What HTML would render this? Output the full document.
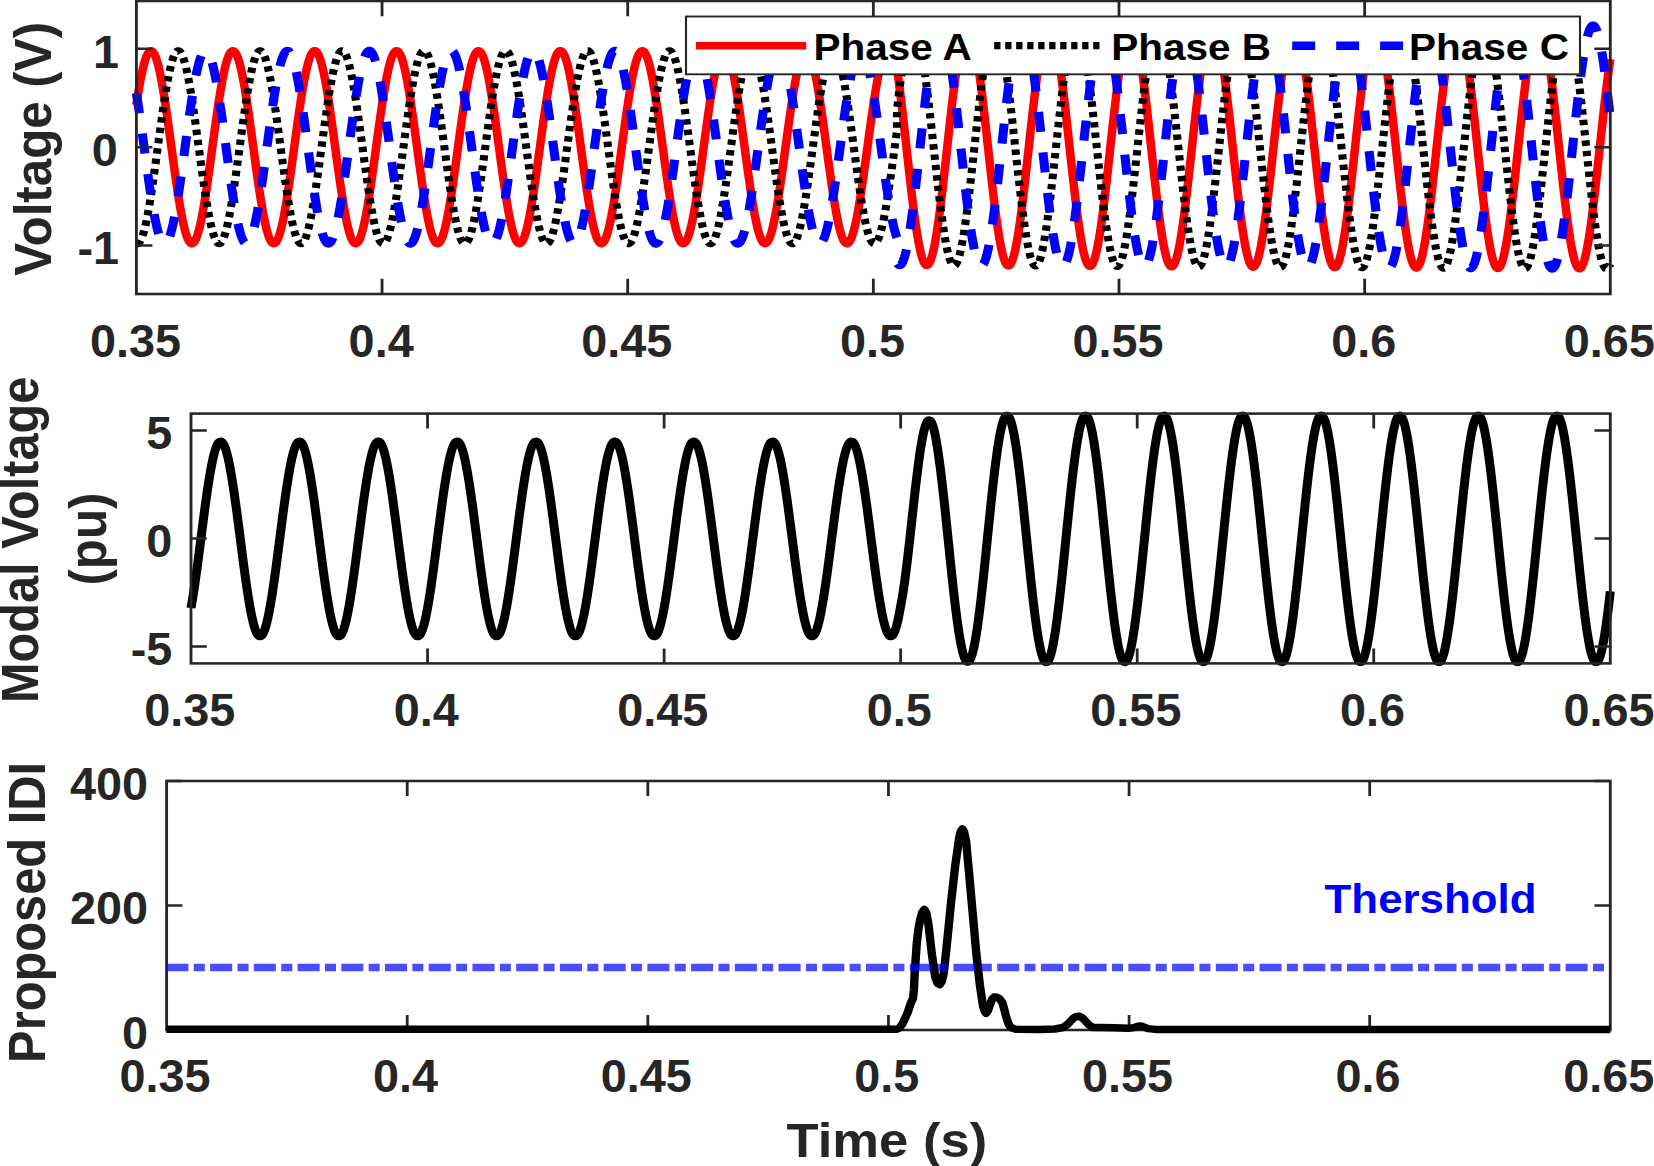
<!DOCTYPE html>
<html><head><meta charset="utf-8"><title>Voltage, modal voltage and proposed IDI</title>
<style>html,body{margin:0;padding:0;background:#fff;overflow:hidden}svg{display:block}text{font-family:"Liberation Sans",sans-serif;font-weight:bold}</style>
</head><body>
<svg width="1654" height="1166" viewBox="0 0 1654 1166">
<rect width="1654" height="1166" fill="#fff"/>
<g transform="scale(1.2 1)"><path d="M159.17 608.06 L159.56 605.41 L159.96 602.67 L160.35 599.84 L160.74 596.92 L161.14 593.92 L161.53 590.84 L161.93 587.69 L162.32 584.46 L162.71 581.18 L163.11 577.83 L163.50 574.43 L163.90 570.98 L164.29 567.48 L164.69 563.94 L165.08 560.36 L165.47 556.76 L165.87 553.13 L166.26 549.48 L166.66 545.81 L167.05 542.14 L167.45 538.46 L167.84 534.78 L168.23 531.10 L168.63 527.44 L169.02 523.80 L169.42 520.17 L169.81 516.57 L170.21 513.01 L170.60 509.48 L170.99 505.99 L171.39 502.55 L171.78 499.16 L172.18 495.83 L172.57 492.55 L172.97 489.35 L173.36 486.21 L173.75 483.15 L174.15 480.17 L174.54 477.27 L174.94 474.46 L175.33 471.74 L175.73 469.12 L176.12 466.60 L176.51 464.18 L176.91 461.86 L177.30 459.65 L177.70 457.56 L178.09 455.58 L178.48 453.72 L178.88 451.99 L179.27 450.37 L179.67 448.88 L180.06 447.52 L180.46 446.29 L180.85 445.19 L181.24 444.23 L181.64 443.39 L182.03 442.70 L182.43 442.14 L182.82 441.72 L183.22 441.43 L183.61 441.29 L184.00 441.28 L184.40 441.41 L184.79 441.69 L185.19 442.09 L185.58 442.64 L185.98 443.32 L186.37 444.14 L186.76 445.10 L187.16 446.18 L187.55 447.40 L187.95 448.75 L188.34 450.23 L188.74 451.83 L189.13 453.56 L189.52 455.41 L189.92 457.37 L190.31 459.46 L190.71 461.65 L191.10 463.96 L191.50 466.37 L191.89 468.88 L192.28 471.50 L192.68 474.21 L193.07 477.01 L193.47 479.90 L193.86 482.87 L194.25 485.93 L194.65 489.05 L195.04 492.25 L195.44 495.52 L195.83 498.85 L196.23 502.23 L196.62 505.67 L197.01 509.15 L197.41 512.68 L197.80 516.24 L198.20 519.84 L198.59 523.46 L198.99 527.10 L199.38 530.76 L199.77 534.44 L200.17 538.12 L200.56 541.80 L200.96 545.47 L201.35 549.14 L201.75 552.79 L202.14 556.42 L202.53 560.03 L202.93 563.61 L203.32 567.15 L203.72 570.65 L204.11 574.11 L204.51 577.52 L204.90 580.87 L205.29 584.16 L205.69 587.39 L206.08 590.55 L206.48 593.64 L206.87 596.64 L207.27 599.57 L207.66 602.41 L208.05 605.16 L208.45 607.82 L208.84 610.37 L209.24 612.83 L209.63 615.18 L210.02 617.42 L210.42 619.55 L210.81 621.57 L211.21 623.47 L211.60 625.25 L212.00 626.90 L212.39 628.43 L212.78 629.84 L213.18 631.11 L213.57 632.26 L213.97 633.27 L214.36 634.14 L214.76 634.88 L215.15 635.49 L215.54 635.96 L215.94 636.29 L216.33 636.48 L216.73 636.53 L217.12 636.44 L217.52 636.22 L217.91 635.86 L218.30 635.36 L218.70 634.72 L219.09 633.94 L219.49 633.04 L219.88 631.99 L220.28 630.82 L220.67 629.51 L221.06 628.08 L221.46 626.52 L221.85 624.83 L222.25 623.02 L222.64 621.10 L223.04 619.05 L223.43 616.89 L223.82 614.62 L224.22 612.25 L224.61 609.77 L225.01 607.19 L225.40 604.51 L225.79 601.73 L226.19 598.87 L226.58 595.93 L226.98 592.90 L227.37 589.80 L227.77 586.62 L228.16 583.38 L228.55 580.07 L228.95 576.70 L229.34 573.28 L229.74 569.81 L230.13 566.30 L230.53 562.75 L230.92 559.17 L231.31 555.55 L231.71 551.91 L232.10 548.26 L232.50 544.59 L232.89 540.91 L233.29 537.23 L233.68 533.55 L234.07 529.88 L234.47 526.22 L234.86 522.58 L235.26 518.97 L235.65 515.38 L236.05 511.83 L236.44 508.31 L236.83 504.84 L237.23 501.41 L237.62 498.04 L238.02 494.73 L238.41 491.48 L238.81 488.29 L239.20 485.18 L239.59 482.15 L239.99 479.20 L240.38 476.33 L240.78 473.55 L241.17 470.86 L241.56 468.27 L241.96 465.78 L242.35 463.39 L242.75 461.11 L243.14 458.94 L243.54 456.89 L243.93 454.95 L244.32 453.13 L244.72 451.43 L245.11 449.86 L245.51 448.42 L245.90 447.10 L246.30 445.91 L246.69 444.86 L247.08 443.93 L247.48 443.15 L247.87 442.50 L248.27 441.98 L248.66 441.61 L249.06 441.37 L249.45 441.27 L249.84 441.31 L250.24 441.49 L250.63 441.81 L251.03 442.26 L251.42 442.85 L251.82 443.58 L252.21 444.45 L252.60 445.44 L253.00 446.58 L253.39 447.84 L253.79 449.23 L254.18 450.75 L254.58 452.39 L254.97 454.16 L255.36 456.05 L255.76 458.05 L256.15 460.18 L256.55 462.41 L256.94 464.75 L257.33 467.20 L257.73 469.74 L258.12 472.39 L258.52 475.13 L258.91 477.96 L259.31 480.88 L259.70 483.88 L260.09 486.96 L260.49 490.11 L260.88 493.34 L261.28 496.62 L261.67 499.97 L262.07 503.37 L262.46 506.82 L262.85 510.32 L263.25 513.86 L263.64 517.44 L264.04 521.04 L264.43 524.67 L264.83 528.32 L265.22 531.99 L265.61 535.66 L266.01 539.34 L266.40 543.02 L266.80 546.70 L267.19 550.36 L267.59 554.00 L267.98 557.63 L268.37 561.23 L268.77 564.79 L269.16 568.32 L269.56 571.81 L269.95 575.25 L270.35 578.64 L270.74 581.97 L271.13 585.25 L271.53 588.45 L271.92 591.59 L272.32 594.65 L272.71 597.63 L273.10 600.53 L273.50 603.34 L273.89 606.06 L274.29 608.68 L274.68 611.20 L275.08 613.62 L275.47 615.94 L275.86 618.15 L276.26 620.24 L276.65 622.22 L277.05 624.08 L277.44 625.81 L277.84 627.43 L278.23 628.92 L278.62 630.28 L279.02 631.51 L279.41 632.61 L279.81 633.57 L280.20 634.41 L280.60 635.10 L280.99 635.66 L281.38 636.08 L281.78 636.37 L282.17 636.51 L282.57 636.52 L282.96 636.39 L283.36 636.11 L283.75 635.71 L284.14 635.16 L284.54 634.48 L284.93 633.66 L285.33 632.70 L285.72 631.62 L286.12 630.40 L286.51 629.05 L286.90 627.57 L287.30 625.97 L287.69 624.24 L288.09 622.39 L288.48 620.43 L288.87 618.34 L289.27 616.15 L289.66 613.84 L290.06 611.43 L290.45 608.92 L290.85 606.30 L291.24 603.59 L291.63 600.79 L292.03 597.90 L292.42 594.93 L292.82 591.87 L293.21 588.75 L293.61 585.55 L294.00 582.28 L294.39 578.95 L294.79 575.57 L295.18 572.13 L295.58 568.65 L295.97 565.12 L296.37 561.56 L296.76 557.96 L297.15 554.34 L297.55 550.70 L297.94 547.04 L298.34 543.36 L298.73 539.68 L299.13 536.00 L299.52 532.33 L299.91 528.66 L300.31 525.01 L300.70 521.38 L301.10 517.77 L301.49 514.19 L301.89 510.65 L302.28 507.15 L302.67 503.69 L303.07 500.28 L303.46 496.93 L303.86 493.64 L304.25 490.41 L304.64 487.25 L305.04 484.16 L305.43 481.16 L305.83 478.23 L306.22 475.39 L306.62 472.64 L307.01 469.98 L307.40 467.43 L307.80 464.97 L308.19 462.62 L308.59 460.38 L308.98 458.25 L309.38 456.23 L309.77 454.33 L310.16 452.55 L310.56 450.90 L310.95 449.37 L311.35 447.96 L311.74 446.69 L312.14 445.54 L312.53 444.53 L312.92 443.66 L313.32 442.92 L313.71 442.31 L314.11 441.84 L314.50 441.51 L314.90 441.32 L315.29 441.27 L315.68 441.36 L316.08 441.58 L316.47 441.94 L316.87 442.44 L317.26 443.08 L317.66 443.86 L318.05 444.76 L318.44 445.81 L318.84 446.98 L319.23 448.29 L319.63 449.72 L320.02 451.28 L320.41 452.97 L320.81 454.78 L321.20 456.70 L321.60 458.75 L321.99 460.91 L322.39 463.18 L322.78 465.55 L323.17 468.03 L323.57 470.61 L323.96 473.29 L324.36 476.07 L324.75 478.93 L325.15 481.87 L325.54 484.90 L325.93 488.00 L326.33 491.18 L326.72 494.42 L327.12 497.73 L327.51 501.10 L327.91 504.52 L328.30 507.99 L328.69 511.50 L329.09 515.05 L329.48 518.63 L329.88 522.25 L330.27 525.89 L330.67 529.54 L331.06 533.21 L331.45 536.89 L331.85 540.57 L332.24 544.25 L332.64 547.92 L333.03 551.58 L333.43 555.22 L333.82 558.83 L334.21 562.42 L334.61 565.97 L335.00 569.49 L335.40 572.96 L335.79 576.39 L336.18 579.76 L336.58 583.07 L336.97 586.32 L337.37 589.51 L337.76 592.62 L338.16 595.65 L338.55 598.60 L338.94 601.47 L339.34 604.25 L339.73 606.94 L340.13 609.53 L340.52 612.02 L340.92 614.41 L341.31 616.69 L341.70 618.86 L342.10 620.91 L342.49 622.85 L342.89 624.67 L343.28 626.37 L343.68 627.94 L344.07 629.38 L344.46 630.70 L344.86 631.89 L345.25 632.94 L345.65 633.87 L346.04 634.65 L346.44 635.30 L346.83 635.82 L347.22 636.19 L347.62 636.43 L348.01 636.53 L348.41 636.49 L348.80 636.31 L349.20 635.99 L349.59 635.54 L349.98 634.95 L350.38 634.22 L350.77 633.35 L351.17 632.36 L351.56 631.22 L351.95 629.96 L352.35 628.57 L352.74 627.05 L353.14 625.41 L353.53 623.64 L353.93 621.75 L354.32 619.75 L354.71 617.62 L355.11 615.39 L355.50 613.05 L355.90 610.60 L356.29 608.06 L356.69 605.41 L357.08 602.67 L357.47 599.84 L357.87 596.92 L358.26 593.92 L358.66 590.84 L359.05 587.69 L359.45 584.46 L359.84 581.18 L360.23 577.83 L360.63 574.43 L361.02 570.98 L361.42 567.48 L361.81 563.94 L362.21 560.36 L362.60 556.76 L362.99 553.13 L363.39 549.48 L363.78 545.81 L364.18 542.14 L364.57 538.46 L364.97 534.78 L365.36 531.10 L365.75 527.44 L366.15 523.80 L366.54 520.17 L366.94 516.57 L367.33 513.01 L367.72 509.48 L368.12 505.99 L368.51 502.55 L368.91 499.16 L369.30 495.83 L369.70 492.55 L370.09 489.35 L370.48 486.21 L370.88 483.15 L371.27 480.17 L371.67 477.27 L372.06 474.46 L372.46 471.74 L372.85 469.12 L373.24 466.60 L373.64 464.18 L374.03 461.86 L374.43 459.65 L374.82 457.56 L375.22 455.58 L375.61 453.72 L376.00 451.99 L376.40 450.37 L376.79 448.88 L377.19 447.52 L377.58 446.29 L377.98 445.19 L378.37 444.23 L378.76 443.39 L379.16 442.70 L379.55 442.14 L379.95 441.72 L380.34 441.43 L380.74 441.29 L381.13 441.28 L381.52 441.41 L381.92 441.69 L382.31 442.09 L382.71 442.64 L383.10 443.32 L383.49 444.14 L383.89 445.10 L384.28 446.18 L384.68 447.40 L385.07 448.75 L385.47 450.23 L385.86 451.83 L386.25 453.56 L386.65 455.41 L387.04 457.37 L387.44 459.46 L387.83 461.65 L388.23 463.96 L388.62 466.37 L389.01 468.88 L389.41 471.50 L389.80 474.21 L390.20 477.01 L390.59 479.90 L390.99 482.87 L391.38 485.93 L391.77 489.05 L392.17 492.25 L392.56 495.52 L392.96 498.85 L393.35 502.23 L393.75 505.67 L394.14 509.15 L394.53 512.68 L394.93 516.24 L395.32 519.84 L395.72 523.46 L396.11 527.10 L396.51 530.76 L396.90 534.44 L397.29 538.12 L397.69 541.80 L398.08 545.47 L398.48 549.14 L398.87 552.79 L399.26 556.42 L399.66 560.03 L400.05 563.61 L400.45 567.15 L400.84 570.65 L401.24 574.11 L401.63 577.52 L402.02 580.87 L402.42 584.16 L402.81 587.39 L403.21 590.55 L403.60 593.64 L404.00 596.64 L404.39 599.57 L404.78 602.41 L405.18 605.16 L405.57 607.82 L405.97 610.37 L406.36 612.83 L406.76 615.18 L407.15 617.42 L407.54 619.55 L407.94 621.57 L408.33 623.47 L408.73 625.25 L409.12 626.90 L409.52 628.43 L409.91 629.84 L410.30 631.11 L410.70 632.26 L411.09 633.27 L411.49 634.14 L411.88 634.88 L412.28 635.49 L412.67 635.96 L413.06 636.29 L413.46 636.48 L413.85 636.53 L414.25 636.44 L414.64 636.22 L415.03 635.86 L415.43 635.36 L415.82 634.72 L416.22 633.94 L416.61 633.04 L417.01 631.99 L417.40 630.82 L417.79 629.51 L418.19 628.08 L418.58 626.52 L418.98 624.83 L419.37 623.02 L419.77 621.10 L420.16 619.05 L420.55 616.89 L420.95 614.62 L421.34 612.25 L421.74 609.77 L422.13 607.19 L422.53 604.51 L422.92 601.73 L423.31 598.87 L423.71 595.93 L424.10 592.90 L424.50 589.80 L424.89 586.62 L425.29 583.38 L425.68 580.07 L426.07 576.70 L426.47 573.28 L426.86 569.81 L427.26 566.30 L427.65 562.75 L428.05 559.17 L428.44 555.55 L428.83 551.91 L429.23 548.26 L429.62 544.59 L430.02 540.91 L430.41 537.23 L430.80 533.55 L431.20 529.88 L431.59 526.22 L431.99 522.58 L432.38 518.97 L432.78 515.38 L433.17 511.83 L433.56 508.31 L433.96 504.84 L434.35 501.41 L434.75 498.04 L435.14 494.73 L435.54 491.48 L435.93 488.29 L436.32 485.18 L436.72 482.15 L437.11 479.20 L437.51 476.33 L437.90 473.55 L438.30 470.86 L438.69 468.27 L439.08 465.78 L439.48 463.39 L439.87 461.11 L440.27 458.94 L440.66 456.89 L441.06 454.95 L441.45 453.13 L441.84 451.43 L442.24 449.86 L442.63 448.42 L443.03 447.10 L443.42 445.91 L443.82 444.86 L444.21 443.93 L444.60 443.15 L445.00 442.50 L445.39 441.98 L445.79 441.61 L446.18 441.37 L446.57 441.27 L446.97 441.31 L447.36 441.49 L447.76 441.81 L448.15 442.26 L448.55 442.85 L448.94 443.58 L449.33 444.45 L449.73 445.44 L450.12 446.58 L450.52 447.84 L450.91 449.23 L451.31 450.75 L451.70 452.39 L452.09 454.16 L452.49 456.05 L452.88 458.05 L453.28 460.18 L453.67 462.41 L454.07 464.75 L454.46 467.20 L454.85 469.74 L455.25 472.39 L455.64 475.13 L456.04 477.96 L456.43 480.88 L456.83 483.88 L457.22 486.96 L457.61 490.11 L458.01 493.34 L458.40 496.62 L458.80 499.97 L459.19 503.37 L459.59 506.82 L459.98 510.32 L460.37 513.86 L460.77 517.44 L461.16 521.04 L461.56 524.67 L461.95 528.32 L462.34 531.99 L462.74 535.66 L463.13 539.34 L463.53 543.02 L463.92 546.70 L464.32 550.36 L464.71 554.00 L465.10 557.63 L465.50 561.23 L465.89 564.79 L466.29 568.32 L466.68 571.81 L467.08 575.25 L467.47 578.64 L467.86 581.97 L468.26 585.25 L468.65 588.45 L469.05 591.59 L469.44 594.65 L469.84 597.63 L470.23 600.53 L470.62 603.34 L471.02 606.06 L471.41 608.68 L471.81 611.20 L472.20 613.62 L472.60 615.94 L472.99 618.15 L473.38 620.24 L473.78 622.22 L474.17 624.08 L474.57 625.81 L474.96 627.43 L475.36 628.92 L475.75 630.28 L476.14 631.51 L476.54 632.61 L476.93 633.57 L477.33 634.41 L477.72 635.10 L478.11 635.66 L478.51 636.08 L478.90 636.37 L479.30 636.51 L479.69 636.52 L480.09 636.39 L480.48 636.11 L480.87 635.71 L481.27 635.16 L481.66 634.48 L482.06 633.66 L482.45 632.70 L482.85 631.62 L483.24 630.40 L483.63 629.05 L484.03 627.57 L484.42 625.97 L484.82 624.24 L485.21 622.39 L485.61 620.43 L486.00 618.34 L486.39 616.15 L486.79 613.84 L487.18 611.43 L487.58 608.92 L487.97 606.30 L488.37 603.59 L488.76 600.79 L489.15 597.90 L489.55 594.93 L489.94 591.87 L490.34 588.75 L490.73 585.55 L491.13 582.28 L491.52 578.95 L491.91 575.57 L492.31 572.13 L492.70 568.65 L493.10 565.12 L493.49 561.56 L493.88 557.96 L494.28 554.34 L494.67 550.70 L495.07 547.04 L495.46 543.36 L495.86 539.68 L496.25 536.00 L496.64 532.33 L497.04 528.66 L497.43 525.01 L497.83 521.38 L498.22 517.77 L498.62 514.19 L499.01 510.65 L499.40 507.15 L499.80 503.69 L500.19 500.28 L500.59 496.93 L500.98 493.64 L501.38 490.41 L501.77 487.25 L502.16 484.16 L502.56 481.16 L502.95 478.23 L503.35 475.39 L503.74 472.64 L504.14 469.98 L504.53 467.43 L504.92 464.97 L505.32 462.62 L505.71 460.38 L506.11 458.25 L506.50 456.23 L506.90 454.33 L507.29 452.55 L507.68 450.90 L508.08 449.37 L508.47 447.96 L508.87 446.69 L509.26 445.54 L509.65 444.53 L510.05 443.66 L510.44 442.92 L510.84 442.31 L511.23 441.84 L511.63 441.51 L512.02 441.32 L512.41 441.27 L512.81 441.36 L513.20 441.58 L513.60 441.94 L513.99 442.44 L514.39 443.08 L514.78 443.86 L515.17 444.76 L515.57 445.81 L515.96 446.98 L516.36 448.29 L516.75 449.72 L517.15 451.28 L517.54 452.97 L517.93 454.78 L518.33 456.70 L518.72 458.75 L519.12 460.91 L519.51 463.18 L519.91 465.55 L520.30 468.03 L520.69 470.61 L521.09 473.29 L521.48 476.07 L521.88 478.93 L522.27 481.87 L522.67 484.90 L523.06 488.00 L523.45 491.18 L523.85 494.42 L524.24 497.73 L524.64 501.10 L525.03 504.52 L525.42 507.99 L525.82 511.50 L526.21 515.05 L526.61 518.63 L527.00 522.25 L527.40 525.89 L527.79 529.54 L528.18 533.21 L528.58 536.89 L528.97 540.57 L529.37 544.25 L529.76 547.92 L530.16 551.58 L530.55 555.22 L530.94 558.83 L531.34 562.42 L531.73 565.97 L532.13 569.49 L532.52 572.96 L532.92 576.39 L533.31 579.76 L533.70 583.07 L534.10 586.32 L534.49 589.51 L534.89 592.62 L535.28 595.65 L535.68 598.60 L536.07 601.47 L536.46 604.25 L536.86 606.94 L537.25 609.53 L537.65 612.02 L538.04 614.41 L538.44 616.69 L538.83 618.86 L539.22 620.91 L539.62 622.85 L540.01 624.67 L540.41 626.37 L540.80 627.94 L541.19 629.38 L541.59 630.70 L541.98 631.89 L542.38 632.94 L542.77 633.87 L543.17 634.65 L543.56 635.30 L543.95 635.82 L544.35 636.19 L544.74 636.43 L545.14 636.53 L545.53 636.49 L545.93 636.31 L546.32 635.99 L546.71 635.54 L547.11 634.95 L547.50 634.22 L547.90 633.35 L548.29 632.36 L548.69 631.22 L549.08 629.96 L549.47 628.57 L549.87 627.05 L550.26 625.41 L550.66 623.64 L551.05 621.75 L551.45 619.75 L551.84 617.62 L552.23 615.39 L552.63 613.05 L553.02 610.60 L553.42 608.06 L553.81 605.41 L554.21 602.67 L554.60 599.84 L554.99 596.92 L555.39 593.92 L555.78 590.84 L556.18 587.69 L556.57 584.46 L556.96 581.18 L557.36 577.83 L557.75 574.43 L558.15 570.98 L558.54 567.48 L558.94 563.94 L559.33 560.36 L559.72 556.76 L560.12 553.13 L560.51 549.48 L560.91 545.81 L561.30 542.14 L561.70 538.46 L562.09 534.78 L562.48 531.10 L562.88 527.44 L563.27 523.80 L563.67 520.17 L564.06 516.57 L564.46 513.01 L564.85 509.48 L565.24 505.99 L565.64 502.55 L566.03 499.16 L566.43 495.83 L566.82 492.55 L567.22 489.35 L567.61 486.21 L568.00 483.15 L568.40 480.17 L568.79 477.27 L569.19 474.46 L569.58 471.74 L569.98 469.12 L570.37 466.60 L570.76 464.18 L571.16 461.86 L571.55 459.65 L571.95 457.56 L572.34 455.58 L572.73 453.72 L573.13 451.99 L573.52 450.37 L573.92 448.88 L574.31 447.52 L574.71 446.29 L575.10 445.19 L575.49 444.23 L575.89 443.39 L576.28 442.70 L576.68 442.14 L577.07 441.72 L577.47 441.43 L577.86 441.29 L578.25 441.28 L578.65 441.41 L579.04 441.69 L579.44 442.09 L579.83 442.64 L580.23 443.32 L580.62 444.14 L581.01 445.10 L581.41 446.18 L581.80 447.40 L582.20 448.75 L582.59 450.23 L582.99 451.83 L583.38 453.56 L583.77 455.41 L584.17 457.37 L584.56 459.46 L584.96 461.65 L585.35 463.96 L585.75 466.37 L586.14 468.88 L586.53 471.50 L586.93 474.21 L587.32 477.01 L587.72 479.90 L588.11 482.87 L588.50 485.93 L588.90 489.05 L589.29 492.25 L589.69 495.52 L590.08 498.85 L590.48 502.23 L590.87 505.67 L591.26 509.15 L591.66 512.68 L592.05 516.24 L592.45 519.84 L592.84 523.46 L593.24 527.10 L593.63 530.76 L594.02 534.44 L594.42 538.12 L594.81 541.80 L595.21 545.47 L595.60 549.14 L596.00 552.79 L596.39 556.42 L596.78 560.03 L597.18 563.61 L597.57 567.15 L597.97 570.65 L598.36 574.11 L598.76 577.52 L599.15 580.87 L599.54 584.16 L599.94 587.39 L600.33 590.55 L600.73 593.64 L601.12 596.64 L601.52 599.57 L601.91 602.41 L602.30 605.16 L602.70 607.82 L603.09 610.37 L603.49 612.83 L603.88 615.18 L604.27 617.42 L604.67 619.55 L605.06 621.57 L605.46 623.47 L605.85 625.25 L606.25 626.90 L606.64 628.43 L607.03 629.84 L607.43 631.11 L607.82 632.26 L608.22 633.27 L608.61 634.14 L609.01 634.88 L609.40 635.49 L609.79 635.96 L610.19 636.29 L610.58 636.48 L610.98 636.53 L611.37 636.44 L611.77 636.22 L612.16 635.86 L612.55 635.36 L612.95 634.72 L613.34 633.94 L613.74 633.04 L614.13 631.99 L614.53 630.82 L614.92 629.51 L615.31 628.08 L615.71 626.52 L616.10 624.83 L616.50 623.02 L616.89 621.10 L617.29 619.05 L617.68 616.89 L618.07 614.62 L618.47 612.25 L618.86 609.77 L619.26 607.19 L619.65 604.51 L620.04 601.73 L620.44 598.87 L620.83 595.93 L621.23 592.90 L621.62 589.80 L622.02 586.62 L622.41 583.38 L622.80 580.07 L623.20 576.70 L623.59 573.28 L623.99 569.81 L624.38 566.30 L624.78 562.75 L625.17 559.17 L625.56 555.55 L625.96 551.91 L626.35 548.26 L626.75 544.59 L627.14 540.91 L627.54 537.23 L627.93 533.55 L628.32 529.88 L628.72 526.22 L629.11 522.58 L629.51 518.97 L629.90 515.38 L630.30 511.83 L630.69 508.31 L631.08 504.84 L631.48 501.41 L631.87 498.04 L632.27 494.73 L632.66 491.48 L633.06 488.29 L633.45 485.18 L633.84 482.15 L634.24 479.20 L634.63 476.33 L635.03 473.55 L635.42 470.86 L635.81 468.27 L636.21 465.78 L636.60 463.39 L637.00 461.11 L637.39 458.94 L637.79 456.89 L638.18 454.95 L638.57 453.13 L638.97 451.43 L639.36 449.86 L639.76 448.42 L640.15 447.10 L640.55 445.91 L640.94 444.86 L641.33 443.93 L641.73 443.15 L642.12 442.50 L642.52 441.98 L642.91 441.61 L643.31 441.37 L643.70 441.27 L644.09 441.31 L644.49 441.49 L644.88 441.81 L645.28 442.26 L645.67 442.85 L646.07 443.58 L646.46 444.45 L646.85 445.44 L647.25 446.58 L647.64 447.84 L648.04 449.23 L648.43 450.75 L648.83 452.39 L649.22 454.16 L649.61 456.05 L650.01 458.05 L650.40 460.18 L650.80 462.41 L651.19 464.75 L651.58 467.20 L651.98 469.74 L652.37 472.39 L652.77 475.13 L653.16 477.96 L653.56 480.88 L653.95 483.88 L654.34 486.96 L654.74 490.11 L655.13 493.34 L655.53 496.62 L655.92 499.97 L656.32 503.37 L656.71 506.82 L657.10 510.32 L657.50 513.86 L657.89 517.44 L658.29 521.04 L658.68 524.67 L659.08 528.32 L659.47 531.99 L659.86 535.66 L660.26 539.34 L660.65 543.02 L661.05 546.70 L661.44 550.36 L661.84 554.00 L662.23 557.63 L662.62 561.23 L663.02 564.79 L663.41 568.32 L663.81 571.81 L664.20 575.25 L664.60 578.64 L664.99 581.97 L665.38 585.25 L665.78 588.45 L666.17 591.59 L666.57 594.65 L666.96 597.63 L667.35 600.53 L667.75 603.34 L668.14 606.06 L668.54 608.68 L668.93 611.20 L669.33 613.62 L669.72 615.94 L670.11 618.15 L670.51 620.24 L670.90 622.22 L671.30 624.08 L671.69 625.81 L672.09 627.43 L672.48 628.92 L672.87 630.28 L673.27 631.51 L673.66 632.61 L674.06 633.57 L674.45 634.41 L674.85 635.10 L675.24 635.66 L675.63 636.08 L676.03 636.37 L676.42 636.51 L676.82 636.52 L677.21 636.39 L677.61 636.11 L678.00 635.71 L678.39 635.16 L678.79 634.48 L679.18 633.66 L679.58 632.70 L679.97 631.62 L680.37 630.40 L680.76 629.05 L681.15 627.57 L681.55 625.97 L681.94 624.24 L682.34 622.39 L682.73 620.43 L683.12 618.34 L683.52 616.15 L683.91 613.84 L684.31 611.43 L684.70 608.92 L685.10 606.30 L685.49 603.59 L685.88 600.79 L686.28 597.90 L686.67 594.93 L687.07 591.87 L687.46 588.75 L687.86 585.55 L688.25 582.28 L688.64 578.95 L689.04 575.57 L689.43 572.13 L689.83 568.65 L690.22 565.12 L690.62 561.56 L691.01 557.96 L691.40 554.34 L691.80 550.70 L692.19 547.04 L692.59 543.36 L692.98 539.68 L693.38 536.00 L693.77 532.33 L694.16 528.66 L694.56 525.01 L694.95 521.38 L695.35 517.77 L695.74 514.19 L696.14 510.65 L696.53 507.15 L696.92 503.69 L697.32 500.28 L697.71 496.93 L698.11 493.64 L698.50 490.41 L698.89 487.25 L699.29 484.16 L699.68 481.16 L700.08 478.23 L700.47 475.39 L700.87 472.64 L701.26 469.98 L701.65 467.43 L702.05 464.97 L702.44 462.62 L702.84 460.38 L703.23 458.25 L703.63 456.23 L704.02 454.33 L704.41 452.55 L704.81 450.90 L705.20 449.37 L705.60 447.96 L705.99 446.69 L706.39 445.54 L706.78 444.53 L707.17 443.66 L707.57 442.92 L707.96 442.31 L708.36 441.84 L708.75 441.51 L709.15 441.32 L709.54 441.27 L709.93 441.36 L710.33 441.58 L710.72 441.94 L711.12 442.44 L711.51 443.08 L711.91 443.86 L712.30 444.76 L712.69 445.81 L713.09 446.98 L713.48 448.29 L713.88 449.72 L714.27 451.28 L714.66 452.97 L715.06 454.78 L715.45 456.70 L715.85 458.75 L716.24 460.91 L716.64 463.18 L717.03 465.55 L717.42 468.03 L717.82 470.61 L718.21 473.29 L718.61 476.07 L719.00 478.93 L719.40 481.87 L719.79 484.90 L720.18 488.00 L720.58 491.18 L720.97 494.42 L721.37 497.73 L721.76 501.10 L722.16 504.52 L722.55 507.99 L722.94 511.50 L723.34 515.05 L723.73 518.63 L724.13 522.25 L724.52 525.89 L724.92 529.54 L725.31 533.21 L725.70 536.89 L726.10 540.57 L726.49 544.25 L726.89 547.92 L727.28 551.58 L727.68 555.22 L728.07 558.83 L728.46 562.42 L728.86 565.97 L729.25 569.49 L729.65 572.96 L730.04 576.39 L730.43 579.76 L730.83 583.07 L731.22 586.32 L731.62 589.51 L732.01 592.62 L732.41 595.65 L732.80 598.60 L733.19 601.47 L733.59 604.25 L733.98 606.94 L734.38 609.53 L734.77 612.02 L735.17 614.41 L735.56 616.69 L735.95 618.86 L736.35 620.91 L736.74 622.85 L737.14 624.67 L737.53 626.37 L737.93 627.94 L738.32 629.38 L738.71 630.70 L739.11 631.89 L739.50 632.94 L739.90 633.87 L740.29 634.65 L740.69 635.30 L741.08 635.82 L741.47 636.19 L741.87 636.43 L742.26 636.53 L742.66 636.49 L743.05 636.30 L743.45 635.96 L743.84 635.48 L744.23 634.84 L744.63 634.06 L745.02 633.13 L745.42 632.06 L745.81 630.85 L746.20 629.49 L746.60 628.00 L746.99 626.37 L747.39 624.60 L747.78 622.70 L748.18 620.68 L748.57 618.53 L748.96 616.26 L749.36 613.87 L749.75 611.36 L750.15 608.74 L750.54 606.02 L750.94 603.67 L751.33 601.17 L751.72 598.52 L752.12 595.72 L752.51 592.78 L752.91 589.71 L753.30 586.51 L753.70 583.18 L754.09 579.74 L754.48 576.19 L754.88 572.53 L755.27 568.78 L755.67 564.94 L756.06 561.01 L756.46 557.01 L756.85 552.95 L757.24 548.82 L757.64 544.64 L758.03 540.42 L758.43 536.16 L758.82 531.87 L759.22 527.57 L759.61 523.25 L760.00 518.92 L760.40 514.60 L760.79 510.30 L761.19 506.01 L761.58 501.75 L761.97 497.52 L762.37 493.34 L762.76 489.21 L763.16 485.14 L763.55 481.13 L763.95 477.20 L764.34 473.35 L764.73 469.58 L765.13 465.91 L765.52 462.34 L765.92 458.88 L766.31 455.54 L766.71 452.31 L767.10 449.20 L767.49 446.23 L767.89 443.40 L768.28 440.71 L768.68 438.16 L769.07 435.77 L769.47 433.53 L769.86 431.45 L770.25 429.54 L770.65 427.79 L771.04 426.22 L771.44 424.81 L771.83 423.59 L772.23 422.54 L772.62 421.67 L773.01 420.99 L773.41 420.49 L773.80 420.17 L774.20 420.04 L774.59 420.10 L774.99 420.34 L775.38 420.77 L775.77 421.38 L776.17 422.18 L776.56 423.17 L776.96 424.33 L777.35 425.68 L777.74 427.21 L778.14 428.91 L778.53 430.79 L778.93 432.84 L779.32 435.06 L779.72 437.44 L780.11 439.99 L780.50 442.69 L780.90 445.54 L781.29 448.55 L781.69 451.70 L782.08 454.99 L782.48 458.29 L782.87 461.72 L783.26 465.26 L783.66 468.91 L784.05 472.67 L784.45 476.52 L784.84 480.48 L785.24 484.52 L785.63 488.64 L786.02 492.84 L786.42 497.11 L786.81 501.44 L787.21 505.84 L787.60 510.28 L788.00 514.77 L788.39 519.30 L788.78 523.86 L789.18 528.44 L789.57 533.04 L789.97 537.66 L790.36 542.28 L790.76 546.90 L791.15 551.51 L791.54 556.10 L791.94 560.67 L792.33 565.22 L792.73 569.73 L793.12 574.19 L793.51 578.61 L793.91 582.98 L794.30 587.28 L794.70 591.51 L795.09 595.67 L795.49 599.76 L795.88 603.75 L796.27 607.66 L796.67 611.46 L797.06 615.17 L797.46 618.76 L797.85 622.25 L798.25 625.61 L798.64 628.85 L799.03 631.97 L799.43 634.95 L799.82 637.79 L800.22 640.49 L800.61 643.05 L801.01 645.46 L801.40 647.71 L801.79 649.81 L802.19 651.75 L802.58 653.53 L802.98 655.15 L803.37 656.60 L803.77 657.88 L804.16 658.99 L804.55 659.93 L804.95 660.69 L805.34 661.28 L805.74 661.70 L806.13 661.94 L806.53 662.00 L806.92 661.88 L807.31 661.59 L807.71 661.13 L808.10 660.48 L808.50 659.67 L808.89 658.68 L809.28 657.51 L809.68 656.18 L810.07 654.68 L810.47 653.01 L810.86 651.18 L811.26 649.19 L811.65 647.03 L812.04 644.73 L812.44 642.27 L812.83 639.66 L813.23 636.91 L813.62 634.01 L814.02 630.98 L814.41 627.82 L814.80 624.53 L815.20 621.12 L815.59 617.59 L815.99 613.94 L816.38 610.19 L816.78 606.33 L817.17 602.38 L817.56 598.34 L817.96 594.21 L818.35 590.00 L818.75 585.72 L819.14 581.37 L819.54 576.96 L819.93 572.49 L820.32 567.98 L820.72 563.42 L821.11 558.83 L821.51 554.21 L821.90 549.56 L822.30 544.91 L822.69 540.24 L823.08 535.57 L823.48 530.90 L823.87 526.25 L824.27 521.61 L824.66 517.00 L825.05 512.42 L825.45 507.88 L825.84 503.38 L826.24 498.93 L826.63 494.54 L827.03 490.21 L827.42 485.95 L827.81 481.77 L828.21 477.67 L828.60 473.65 L829.00 469.73 L829.39 465.91 L829.79 462.20 L830.18 458.59 L830.57 455.10 L830.97 451.72 L831.36 448.48 L831.76 445.36 L832.15 442.37 L832.55 439.53 L832.94 436.82 L833.33 434.27 L833.73 431.86 L834.12 429.60 L834.52 427.51 L834.91 425.57 L835.31 423.79 L835.70 422.18 L836.09 420.74 L836.49 419.46 L836.88 418.36 L837.28 417.42 L837.67 416.67 L838.07 416.08 L838.46 415.68 L838.85 415.45 L839.25 415.39 L839.64 415.52 L840.04 415.82 L840.43 416.29 L840.82 416.95 L841.22 417.77 L841.61 418.77 L842.01 419.94 L842.40 421.29 L842.80 422.80 L843.19 424.48 L843.58 426.32 L843.98 428.32 L844.37 430.48 L844.77 432.80 L845.16 435.26 L845.56 437.88 L845.95 440.64 L846.34 443.54 L846.74 446.58 L847.13 449.75 L847.53 453.05 L847.92 456.47 L848.32 460.01 L848.71 463.67 L849.10 467.43 L849.50 471.29 L849.89 475.25 L850.29 479.30 L850.68 483.44 L851.08 487.65 L851.47 491.94 L851.86 496.30 L852.26 500.71 L852.65 505.19 L853.05 509.71 L853.44 514.27 L853.84 518.87 L854.23 523.49 L854.62 528.14 L855.02 532.81 L855.41 537.48 L855.81 542.15 L856.20 546.82 L856.59 551.48 L856.99 556.12 L857.38 560.74 L857.78 565.32 L858.17 569.87 L858.57 574.37 L858.96 578.82 L859.35 583.22 L859.75 587.55 L860.14 591.81 L860.54 596.00 L860.93 600.10 L861.33 604.12 L861.72 608.04 L862.11 611.87 L862.51 615.59 L862.90 619.20 L863.30 622.69 L863.69 626.07 L864.09 629.32 L864.48 632.44 L864.87 635.42 L865.27 638.27 L865.66 640.98 L866.06 643.54 L866.45 645.95 L866.85 648.21 L867.24 650.31 L867.63 652.25 L868.03 654.03 L868.42 655.64 L868.82 657.09 L869.21 658.36 L869.61 659.47 L870.00 660.40 L870.39 661.16 L870.79 661.75 L871.18 662.16 L871.58 662.39 L871.97 662.45 L872.36 662.32 L872.76 662.03 L873.15 661.55 L873.55 660.90 L873.94 660.08 L874.34 659.08 L874.73 657.91 L875.12 656.57 L875.52 655.06 L875.91 653.38 L876.31 651.54 L876.70 649.54 L877.10 647.38 L877.49 645.07 L877.88 642.60 L878.28 639.99 L878.67 637.23 L879.07 634.33 L879.46 631.29 L879.86 628.12 L880.25 624.82 L880.64 621.40 L881.04 617.86 L881.43 614.21 L881.83 610.45 L882.22 606.59 L882.62 602.63 L883.01 598.58 L883.40 594.45 L883.80 590.23 L884.19 585.94 L884.59 581.59 L884.98 577.17 L885.38 572.70 L885.77 568.18 L886.16 563.62 L886.56 559.02 L886.95 554.39 L887.35 549.74 L887.74 545.08 L888.13 540.41 L888.53 535.73 L888.92 531.06 L889.32 526.40 L889.71 521.76 L890.11 517.14 L890.50 512.56 L890.89 508.01 L891.29 503.51 L891.68 499.05 L892.08 494.66 L892.47 490.32 L892.87 486.06 L893.26 481.87 L893.65 477.77 L894.05 473.75 L894.44 469.82 L894.84 466.00 L895.23 462.28 L895.63 458.66 L896.02 455.17 L896.41 451.79 L896.81 448.54 L897.20 445.41 L897.60 442.42 L897.99 439.57 L898.39 436.86 L898.78 434.30 L899.17 431.89 L899.57 429.63 L899.96 427.53 L900.36 425.58 L900.75 423.80 L901.15 422.18 L901.54 420.73 L901.93 419.45 L902.33 418.34 L902.72 417.41 L903.12 416.64 L903.51 416.06 L903.90 415.64 L904.30 415.41 L904.69 415.35 L905.09 415.47 L905.48 415.76 L905.88 416.24 L906.27 416.88 L906.66 417.70 L907.06 418.70 L907.45 419.87 L907.85 421.20 L908.24 422.71 L908.64 424.38 L909.03 426.22 L909.42 428.22 L909.82 430.38 L910.21 432.69 L910.61 435.15 L911.00 437.76 L911.40 440.52 L911.79 443.42 L912.18 446.45 L912.58 449.62 L912.97 452.92 L913.37 456.34 L913.76 459.87 L914.16 463.52 L914.55 467.28 L914.94 471.14 L915.34 475.10 L915.73 479.14 L916.13 483.28 L916.52 487.49 L916.92 491.78 L917.31 496.13 L917.70 500.55 L918.10 505.02 L918.49 509.54 L918.89 514.10 L919.28 518.70 L919.67 523.33 L920.07 527.97 L920.46 532.64 L920.86 537.31 L921.25 541.99 L921.65 546.66 L922.04 551.32 L922.43 555.96 L922.83 560.58 L923.22 565.16 L923.62 569.71 L924.01 574.22 L924.41 578.67 L924.80 583.07 L925.19 587.40 L925.59 591.66 L925.98 595.85 L926.38 599.96 L926.77 603.98 L927.17 607.91 L927.56 611.74 L927.95 615.46 L928.35 619.07 L928.74 622.57 L929.14 625.95 L929.53 629.21 L929.93 632.33 L930.32 635.32 L930.71 638.18 L931.11 640.89 L931.50 643.45 L931.90 645.87 L932.29 648.13 L932.69 650.24 L933.08 652.19 L933.47 653.97 L933.87 655.59 L934.26 657.04 L934.66 658.33 L935.05 659.44 L935.44 660.38 L935.84 661.14 L936.23 661.73 L936.63 662.15 L937.02 662.39 L937.42 662.45 L937.81 662.33 L938.20 662.04 L938.60 661.57 L938.99 660.93 L939.39 660.11 L939.78 659.12 L940.18 657.96 L940.57 656.62 L940.96 655.12 L941.36 653.45 L941.75 651.61 L942.15 649.62 L942.54 647.46 L942.94 645.16 L943.33 642.69 L943.72 640.08 L944.12 637.33 L944.51 634.43 L944.91 631.40 L945.30 628.24 L945.70 624.94 L946.09 621.53 L946.48 617.99 L946.88 614.35 L947.27 610.59 L947.67 606.73 L948.06 602.78 L948.46 598.73 L948.85 594.60 L949.24 590.38 L949.64 586.10 L950.03 581.74 L950.43 577.33 L950.82 572.86 L951.21 568.34 L951.61 563.78 L952.00 559.18 L952.40 554.56 L952.79 549.91 L953.19 545.25 L953.58 540.57 L953.97 535.90 L954.37 531.23 L954.76 526.57 L955.16 521.92 L955.55 517.31 L955.95 512.72 L956.34 508.17 L956.73 503.66 L957.13 499.21 L957.52 494.81 L957.92 490.48 L958.31 486.21 L958.71 482.02 L959.10 477.91 L959.49 473.89 L959.89 469.96 L960.28 466.13 L960.68 462.41 L961.07 458.79 L961.47 455.29 L961.86 451.91 L962.25 448.65 L962.65 445.52 L963.04 442.53 L963.44 439.67 L963.83 436.96 L964.23 434.39 L964.62 431.97 L965.01 429.71 L965.41 427.60 L965.80 425.65 L966.20 423.86 L966.59 422.24 L966.98 420.78 L967.38 419.50 L967.77 418.38 L968.17 417.44 L968.56 416.67 L968.96 416.07 L969.35 415.66 L969.74 415.41 L970.14 415.35 L970.53 415.46 L970.93 415.75 L971.32 416.22 L971.72 416.86 L972.11 417.67 L972.50 418.66 L972.90 419.82 L973.29 421.15 L973.69 422.65 L974.08 424.32 L974.48 426.15 L974.87 428.14 L975.26 430.30 L975.66 432.60 L976.05 435.06 L976.45 437.67 L976.84 440.42 L977.24 443.31 L977.63 446.34 L978.02 449.51 L978.42 452.80 L978.81 456.21 L979.21 459.74 L979.60 463.39 L980.00 467.14 L980.39 471.00 L980.78 474.95 L981.18 479.00 L981.57 483.13 L981.97 487.34 L982.36 491.63 L982.75 495.98 L983.15 500.39 L983.54 504.86 L983.94 509.38 L984.33 513.94 L984.73 518.53 L985.12 523.16 L985.51 527.81 L985.91 532.47 L986.30 537.14 L986.70 541.82 L987.09 546.49 L987.49 551.15 L987.88 555.79 L988.27 560.41 L988.67 565.00 L989.06 569.55 L989.46 574.05 L989.85 578.51 L990.25 582.91 L990.64 587.25 L991.03 591.51 L991.43 595.71 L991.82 599.82 L992.22 603.84 L992.61 607.77 L993.01 611.60 L993.40 615.33 L993.79 618.95 L994.19 622.45 L994.58 625.83 L994.98 629.09 L995.37 632.22 L995.77 635.22 L996.16 638.08 L996.55 640.79 L996.95 643.36 L997.34 645.79 L997.74 648.05 L998.13 650.17 L998.52 652.12 L998.92 653.91 L999.31 655.53 L999.71 656.99 L1000.10 658.28 L1000.50 659.40 L1000.89 660.35 L1001.28 661.12 L1001.68 661.72 L1002.07 662.14 L1002.47 662.38 L1002.86 662.45 L1003.26 662.34 L1003.65 662.06 L1004.04 661.59 L1004.44 660.96 L1004.83 660.14 L1005.23 659.16 L1005.62 658.00 L1006.02 656.67 L1006.41 655.17 L1006.80 653.51 L1007.20 651.68 L1007.59 649.69 L1007.99 647.54 L1008.38 645.24 L1008.78 642.78 L1009.17 640.18 L1009.56 637.43 L1009.96 634.54 L1010.35 631.51 L1010.75 628.35 L1011.14 625.06 L1011.54 621.65 L1011.93 618.12 L1012.32 614.48 L1012.72 610.73 L1013.11 606.87 L1013.51 602.92 L1013.90 598.87 L1014.29 594.74 L1014.69 590.54 L1015.08 586.25 L1015.48 581.90 L1015.87 577.49 L1016.27 573.02 L1016.66 568.50 L1017.05 563.94 L1017.45 559.35 L1017.84 554.72 L1018.24 550.08 L1018.63 545.41 L1019.03 540.74 L1019.42 536.06 L1019.81 531.39 L1020.21 526.73 L1020.60 522.09 L1021.00 517.47 L1021.39 512.88 L1021.79 508.33 L1022.18 503.83 L1022.57 499.37 L1022.97 494.97 L1023.36 490.63 L1023.76 486.36 L1024.15 482.17 L1024.55 478.06 L1024.94 474.03 L1025.33 470.10 L1025.73 466.27 L1026.12 462.54 L1026.52 458.92 L1026.91 455.41 L1027.31 452.03 L1027.70 448.76 L1028.09 445.63 L1028.49 442.63 L1028.88 439.77 L1029.28 437.05 L1029.67 434.48 L1030.06 432.06 L1030.46 429.79 L1030.85 427.67 L1031.25 425.72 L1031.64 423.92 L1032.04 422.29 L1032.43 420.83 L1032.82 419.54 L1033.22 418.42 L1033.61 417.47 L1034.01 416.69 L1034.40 416.09 L1034.80 415.67 L1035.19 415.42 L1035.58 415.35 L1035.98 415.45 L1036.37 415.74 L1036.77 416.20 L1037.16 416.83 L1037.56 417.64 L1037.95 418.62 L1038.34 419.78 L1038.74 421.10 L1039.13 422.60 L1039.53 424.26 L1039.92 426.08 L1040.32 428.07 L1040.71 430.22 L1041.10 432.52 L1041.50 434.97 L1041.89 437.57 L1042.29 440.32 L1042.68 443.21 L1043.08 446.23 L1043.47 449.39 L1043.86 452.68 L1044.26 456.09 L1044.65 459.61 L1045.05 463.26 L1045.44 467.01 L1045.83 470.86 L1046.23 474.81 L1046.62 478.85 L1047.02 482.98 L1047.41 487.19 L1047.81 491.47 L1048.20 495.82 L1048.59 500.23 L1048.99 504.70 L1049.38 509.22 L1049.78 513.78 L1050.17 518.37 L1050.57 522.99 L1050.96 527.64 L1051.35 532.30 L1051.75 536.98 L1052.14 541.65 L1052.54 546.32 L1052.93 550.98 L1053.33 555.63 L1053.72 560.25 L1054.11 564.84 L1054.51 569.39 L1054.90 573.89 L1055.30 578.35 L1055.69 582.75 L1056.09 587.09 L1056.48 591.36 L1056.87 595.56 L1057.27 599.67 L1057.66 603.70 L1058.06 607.63 L1058.45 611.47 L1058.85 615.20 L1059.24 618.82 L1059.63 622.33 L1060.03 625.71 L1060.42 628.98 L1060.82 632.11 L1061.21 635.11 L1061.60 637.98 L1062.00 640.70 L1062.39 643.28 L1062.79 645.70 L1063.18 647.98 L1063.58 650.09 L1063.97 652.05 L1064.36 653.85 L1064.76 655.48 L1065.15 656.94 L1065.55 658.24 L1065.94 659.36 L1066.34 660.32 L1066.73 661.09 L1067.12 661.70 L1067.52 662.13 L1067.91 662.38 L1068.31 662.45 L1068.70 662.35 L1069.10 662.07 L1069.49 661.61 L1069.88 660.98 L1070.28 660.18 L1070.67 659.20 L1071.07 658.04 L1071.46 656.72 L1071.86 655.23 L1072.25 653.57 L1072.64 651.75 L1073.04 649.77 L1073.43 647.62 L1073.83 645.33 L1074.22 642.88 L1074.62 640.28 L1075.01 637.53 L1075.40 634.65 L1075.80 631.62 L1076.19 628.47 L1076.59 625.18 L1076.98 621.78 L1077.37 618.25 L1077.77 614.61 L1078.16 610.86 L1078.56 607.01 L1078.95 603.06 L1079.35 599.02 L1079.74 594.89 L1080.13 590.69 L1080.53 586.41 L1080.92 582.06 L1081.32 577.65 L1081.71 573.18 L1082.11 568.66 L1082.50 564.11 L1082.89 559.51 L1083.29 554.89 L1083.68 550.24 L1084.08 545.58 L1084.47 540.91 L1084.87 536.23 L1085.26 531.56 L1085.65 526.90 L1086.05 522.26 L1086.44 517.64 L1086.84 513.05 L1087.23 508.49 L1087.63 503.99 L1088.02 499.53 L1088.41 495.12 L1088.81 490.78 L1089.20 486.51 L1089.60 482.32 L1089.99 478.20 L1090.39 474.17 L1090.78 470.24 L1091.17 466.40 L1091.57 462.67 L1091.96 459.05 L1092.36 455.54 L1092.75 452.15 L1093.14 448.88 L1093.54 445.74 L1093.93 442.74 L1094.33 439.87 L1094.72 437.15 L1095.12 434.57 L1095.51 432.14 L1095.90 429.86 L1096.30 427.74 L1096.69 425.78 L1097.09 423.98 L1097.48 422.35 L1097.88 420.88 L1098.27 419.58 L1098.66 418.45 L1099.06 417.50 L1099.45 416.72 L1099.85 416.11 L1100.24 415.68 L1100.64 415.43 L1101.03 415.35 L1101.42 415.45 L1101.82 415.72 L1102.21 416.18 L1102.61 416.80 L1103.00 417.61 L1103.40 418.58 L1103.79 419.73 L1104.18 421.05 L1104.58 422.54 L1104.97 424.20 L1105.37 426.02 L1105.76 428.00 L1106.16 430.14 L1106.55 432.43 L1106.94 434.88 L1107.34 437.48 L1107.73 440.22 L1108.13 443.10 L1108.52 446.12 L1108.91 449.28 L1109.31 452.56 L1109.70 455.96 L1110.10 459.49 L1110.49 463.12 L1110.89 466.87 L1111.28 470.72 L1111.67 474.67 L1112.07 478.71 L1112.46 482.83 L1112.86 487.04 L1113.25 491.32 L1113.65 495.66 L1114.04 500.07 L1114.43 504.54 L1114.83 509.05 L1115.22 513.61 L1115.62 518.21 L1116.01 522.83 L1116.41 527.47 L1116.80 532.14 L1117.19 536.81 L1117.59 541.48 L1117.98 546.16 L1118.38 550.82 L1118.77 555.46 L1119.17 560.08 L1119.56 564.67 L1119.95 569.22 L1120.35 573.73 L1120.74 578.19 L1121.14 582.60 L1121.53 586.94 L1121.93 591.21 L1122.32 595.41 L1122.71 599.52 L1123.11 603.55 L1123.50 607.49 L1123.90 611.33 L1124.29 615.07 L1124.68 618.69 L1125.08 622.20 L1125.47 625.60 L1125.87 628.86 L1126.26 632.00 L1126.66 635.01 L1127.05 637.88 L1127.44 640.60 L1127.84 643.19 L1128.23 645.62 L1128.63 647.90 L1129.02 650.02 L1129.42 651.98 L1129.81 653.79 L1130.20 655.42 L1130.60 656.89 L1130.99 658.20 L1131.39 659.33 L1131.78 660.29 L1132.18 661.07 L1132.57 661.68 L1132.96 662.11 L1133.36 662.37 L1133.75 662.45 L1134.15 662.36 L1134.54 662.08 L1134.94 661.63 L1135.33 661.01 L1135.72 660.21 L1136.12 659.23 L1136.51 658.09 L1136.91 656.77 L1137.30 655.29 L1137.70 653.63 L1138.09 651.82 L1138.48 649.84 L1138.88 647.70 L1139.27 645.41 L1139.67 642.97 L1140.06 640.37 L1140.45 637.63 L1140.85 634.75 L1141.24 631.73 L1141.64 628.58 L1142.03 625.30 L1142.43 621.90 L1142.82 618.38 L1143.21 614.74 L1143.61 611.00 L1144.00 607.15 L1144.40 603.20 L1144.79 599.17 L1145.19 595.04 L1145.58 590.84 L1145.97 586.56 L1146.37 582.21 L1146.76 577.80 L1147.16 573.34 L1147.55 568.83 L1147.95 564.27 L1148.34 559.68 L1148.73 555.05 L1149.13 550.41 L1149.52 545.75 L1149.92 541.07 L1150.31 536.40 L1150.71 531.73 L1151.10 527.07 L1151.49 522.42 L1151.89 517.80 L1152.28 513.21 L1152.68 508.66 L1153.07 504.15 L1153.47 499.68 L1153.86 495.28 L1154.25 490.94 L1154.65 486.66 L1155.04 482.47 L1155.44 478.35 L1155.83 474.32 L1156.22 470.38 L1156.62 466.54 L1157.01 462.80 L1157.41 459.17 L1157.80 455.66 L1158.20 452.26 L1158.59 448.99 L1158.98 445.85 L1159.38 442.84 L1159.77 439.97 L1160.17 437.24 L1160.56 434.66 L1160.96 432.22 L1161.35 429.94 L1161.74 427.82 L1162.14 425.85 L1162.53 424.04 L1162.93 422.40 L1163.32 420.93 L1163.72 419.63 L1164.11 418.49 L1164.50 417.53 L1164.90 416.74 L1165.29 416.13 L1165.69 415.69 L1166.08 415.43 L1166.48 415.35 L1166.87 415.44 L1167.26 415.71 L1167.66 416.16 L1168.05 416.78 L1168.45 417.58 L1168.84 418.55 L1169.24 419.69 L1169.63 421.00 L1170.02 422.49 L1170.42 424.13 L1170.81 425.95 L1171.21 427.92 L1171.60 430.06 L1171.99 432.35 L1172.39 434.79 L1172.78 437.38 L1173.18 440.12 L1173.57 443.00 L1173.97 446.01 L1174.36 449.16 L1174.75 452.44 L1175.15 455.84 L1175.54 459.36 L1175.94 462.99 L1176.33 466.74 L1176.73 470.58 L1177.12 474.52 L1177.51 478.56 L1177.91 482.68 L1178.30 486.89 L1178.70 491.16 L1179.09 495.51 L1179.49 499.92 L1179.88 504.38 L1180.27 508.89 L1180.67 513.45 L1181.06 518.04 L1181.46 522.66 L1181.85 527.31 L1182.25 531.97 L1182.64 536.64 L1183.03 541.32 L1183.43 545.99 L1183.82 550.65 L1184.22 555.30 L1184.61 559.92 L1185.01 564.51 L1185.40 569.06 L1185.79 573.57 L1186.19 578.04 L1186.58 582.44 L1186.98 586.78 L1187.37 591.06 L1187.76 595.26 L1188.16 599.38 L1188.55 603.41 L1188.95 607.35 L1189.34 611.19 L1189.74 614.93 L1190.13 618.56 L1190.52 622.08 L1190.92 625.48 L1191.31 628.75 L1191.71 631.89 L1192.10 634.90 L1192.50 637.78 L1192.89 640.51 L1193.28 643.10 L1193.68 645.53 L1194.07 647.82 L1194.47 649.95 L1194.86 651.92 L1195.26 653.72 L1195.65 655.37 L1196.04 656.84 L1196.44 658.15 L1196.83 659.29 L1197.23 660.25 L1197.62 661.05 L1198.02 661.66 L1198.41 662.10 L1198.80 662.36 L1199.20 662.45 L1199.59 662.36 L1199.99 662.10 L1200.38 661.65 L1200.78 661.03 L1201.17 660.24 L1201.56 659.27 L1201.96 658.13 L1202.35 656.82 L1202.75 655.34 L1203.14 653.70 L1203.53 651.89 L1203.93 649.91 L1204.32 647.78 L1204.72 645.50 L1205.11 643.06 L1205.51 640.47 L1205.90 637.73 L1206.29 634.86 L1206.69 631.84 L1207.08 628.70 L1207.48 625.42 L1207.87 622.02 L1208.27 618.50 L1208.66 614.87 L1209.05 611.13 L1209.45 607.29 L1209.84 603.35 L1210.24 599.31 L1210.63 595.19 L1211.03 590.99 L1211.42 586.71 L1211.81 582.37 L1212.21 577.96 L1212.60 573.50 L1213.00 568.99 L1213.39 564.43 L1213.79 559.84 L1214.18 555.22 L1214.57 550.57 L1214.97 545.91 L1215.36 541.24 L1215.76 536.57 L1216.15 531.89 L1216.55 527.23 L1216.94 522.59 L1217.33 517.97 L1217.73 513.37 L1218.12 508.82 L1218.52 504.31 L1218.91 499.84 L1219.30 495.44 L1219.70 491.09 L1220.09 486.82 L1220.49 482.61 L1220.88 478.49 L1221.28 474.46 L1221.67 470.52 L1222.06 466.67 L1222.46 462.93 L1222.85 459.30 L1223.25 455.78 L1223.64 452.38 L1224.04 449.11 L1224.43 445.96 L1224.82 442.95 L1225.22 440.07 L1225.61 437.34 L1226.01 434.75 L1226.40 432.31 L1226.80 430.02 L1227.19 427.89 L1227.58 425.92 L1227.98 424.11 L1228.37 422.46 L1228.77 420.98 L1229.16 419.67 L1229.56 418.53 L1229.95 417.56 L1230.34 416.77 L1230.74 416.15 L1231.13 415.71 L1231.53 415.44 L1231.92 415.35 L1232.32 415.43 L1232.71 415.70 L1233.10 416.14 L1233.50 416.75 L1233.89 417.54 L1234.29 418.51 L1234.68 419.65 L1235.07 420.95 L1235.47 422.43 L1235.86 424.07 L1236.26 425.88 L1236.65 427.85 L1237.05 429.98 L1237.44 432.26 L1237.83 434.70 L1238.23 437.29 L1238.62 440.02 L1239.02 442.89 L1239.41 445.90 L1239.81 449.05 L1240.20 452.32 L1240.59 455.72 L1240.99 459.23 L1241.38 462.86 L1241.78 466.60 L1242.17 470.44 L1242.57 474.38 L1242.96 478.41 L1243.35 482.53 L1243.75 486.73 L1244.14 491.01 L1244.54 495.35 L1244.93 499.76 L1245.33 504.22 L1245.72 508.73 L1246.11 513.28 L1246.51 517.88 L1246.90 522.50 L1247.30 527.14 L1247.69 531.80 L1248.09 536.48 L1248.48 541.15 L1248.87 545.82 L1249.27 550.48 L1249.66 555.13 L1250.06 559.75 L1250.45 564.34 L1250.84 568.90 L1251.24 573.41 L1251.63 577.88 L1252.03 582.29 L1252.42 586.63 L1252.82 590.91 L1253.21 595.11 L1253.60 599.23 L1254.00 603.27 L1254.39 607.21 L1254.79 611.06 L1255.18 614.80 L1255.58 618.44 L1255.97 621.96 L1256.36 625.36 L1256.76 628.63 L1257.15 631.78 L1257.55 634.80 L1257.94 637.68 L1258.34 640.41 L1258.73 643.01 L1259.12 645.45 L1259.52 647.74 L1259.91 649.87 L1260.31 651.85 L1260.70 653.66 L1261.10 655.31 L1261.49 656.79 L1261.88 658.11 L1262.28 659.25 L1262.67 660.22 L1263.07 661.02 L1263.46 661.64 L1263.86 662.09 L1264.25 662.36 L1264.64 662.45 L1265.04 662.37 L1265.43 662.11 L1265.83 661.67 L1266.22 661.06 L1266.61 660.27 L1267.01 659.31 L1267.40 658.18 L1267.80 656.87 L1268.19 655.40 L1268.59 653.76 L1268.98 651.95 L1269.37 649.99 L1269.77 647.86 L1270.16 645.58 L1270.56 643.15 L1270.95 640.56 L1271.35 637.83 L1271.74 634.96 L1272.13 631.95 L1272.53 628.81 L1272.92 625.54 L1273.32 622.15 L1273.71 618.63 L1274.11 615.00 L1274.50 611.27 L1274.89 607.43 L1275.29 603.49 L1275.68 599.46 L1276.08 595.34 L1276.47 591.14 L1276.87 586.87 L1277.26 582.53 L1277.65 578.12 L1278.05 573.66 L1278.44 569.15 L1278.84 564.60 L1279.23 560.01 L1279.63 555.39 L1280.02 550.74 L1280.41 546.08 L1280.81 541.41 L1281.20 536.73 L1281.60 532.06 L1281.99 527.40 L1282.38 522.75 L1282.78 518.13 L1283.17 513.54 L1283.57 508.98 L1283.96 504.47 L1284.36 500.00 L1284.75 495.59 L1285.14 491.25 L1285.54 486.97 L1285.93 482.76 L1286.33 478.64 L1286.72 474.60 L1287.12 470.66 L1287.51 466.81 L1287.90 463.06 L1288.30 459.43 L1288.69 455.91 L1289.09 452.50 L1289.48 449.22 L1289.88 446.07 L1290.27 443.05 L1290.66 440.17 L1291.06 437.43 L1291.45 434.84 L1291.85 432.39 L1292.24 430.10 L1292.64 427.96 L1293.03 425.98 L1293.42 424.17 L1293.82 422.52 L1294.21 421.03 L1294.61 419.71 L1295.00 418.57 L1295.40 417.59 L1295.79 416.79 L1296.18 416.17 L1296.58 415.72 L1296.97 415.44 L1297.37 415.35 L1297.76 415.43 L1298.15 415.69 L1298.55 416.12 L1298.94 416.73 L1299.34 417.51 L1299.73 418.47 L1300.13 419.60 L1300.52 420.90 L1300.91 422.37 L1301.31 424.01 L1301.70 425.81 L1302.10 427.78 L1302.49 429.90 L1302.89 432.18 L1303.28 434.61 L1303.67 437.19 L1304.07 439.92 L1304.46 442.79 L1304.86 445.79 L1305.25 448.93 L1305.65 452.20 L1306.04 455.59 L1306.43 459.10 L1306.83 462.73 L1307.22 466.46 L1307.62 470.30 L1308.01 474.24 L1308.41 478.27 L1308.80 482.39 L1309.19 486.58 L1309.59 490.85 L1309.98 495.20 L1310.38 499.60 L1310.77 504.06 L1311.17 508.57 L1311.56 513.12 L1311.95 517.71 L1312.35 522.33 L1312.74 526.98 L1313.14 531.64 L1313.53 536.31 L1313.92 540.98 L1314.32 545.66 L1314.71 550.32 L1315.11 554.96 L1315.50 559.59 L1315.90 564.18 L1316.29 568.74 L1316.68 573.25 L1317.08 577.72 L1317.47 582.13 L1317.87 586.48 L1318.26 590.76 L1318.66 594.96 L1319.05 599.09 L1319.44 603.13 L1319.84 607.07 L1320.23 610.92 L1320.63 614.67 L1321.02 618.31 L1321.42 621.83 L1321.81 625.24 L1322.20 628.52 L1322.60 631.67 L1322.99 634.69 L1323.39 637.58 L1323.78 640.32 L1324.18 642.92 L1324.57 645.36 L1324.96 647.66 L1325.36 649.80 L1325.75 651.78 L1326.15 653.60 L1326.54 655.26 L1326.94 656.74 L1327.33 658.06 L1327.72 659.21 L1328.12 660.19 L1328.51 660.99 L1328.91 661.62 L1329.30 662.08 L1329.69 662.35 L1330.09 662.45 L1330.48 662.37 L1330.88 662.12 L1331.27 661.69 L1331.67 661.08 L1332.06 660.30 L1332.45 659.35 L1332.85 658.22 L1333.24 656.92 L1333.64 655.45 L1334.03 653.82 L1334.43 652.02 L1334.82 650.06 L1335.21 647.94 L1335.61 645.66 L1336.00 643.23 L1336.40 640.66 L1336.79 637.93 L1337.19 635.07 L1337.58 632.06 L1337.97 628.93 L1338.37 625.66 L1338.76 622.27 L1339.16 618.76 L1339.55 615.14 L1339.95 611.40 L1340.34 607.57 L1340.73 603.63 L1341.13 599.60 L1341.52 595.49 L1341.92 591.29" fill="none" stroke="#000" stroke-width="7.5" stroke-linejoin="round" /></g>
<g transform="scale(1.12 1)">
<g fill="none" stroke-linejoin="round">
<path d="M121.79 104.93 L122.22 101.69 L122.66 98.52 L123.10 95.42 L123.54 92.39 L123.98 89.43 L124.42 86.57 L124.86 83.78 L125.30 81.09 L125.73 78.49 L126.17 75.99 L126.61 73.59 L127.05 71.29 L127.49 69.11 L127.93 67.03 L128.37 65.07 L128.80 63.22 L129.24 61.49 L129.68 59.89 L130.12 58.41 L130.56 57.05 L131.00 55.83 L131.44 54.73 L131.87 53.76 L132.31 52.93 L132.75 52.23 L133.19 51.67 L133.63 51.24 L134.07 50.95 L134.51 50.80 L134.95 50.78 L135.38 50.90 L135.82 51.15 L136.26 51.55 L136.70 52.07 L137.14 52.74 L137.58 53.54 L138.02 54.47 L138.45 55.53 L138.89 56.72 L139.33 58.04 L139.77 59.49 L140.21 61.07 L140.65 62.76 L141.09 64.58 L141.53 66.51 L141.96 68.56 L142.40 70.72 L142.84 72.98 L143.28 75.36 L143.72 77.83 L144.16 80.41 L144.60 83.08 L145.03 85.84 L145.47 88.68 L145.91 91.61 L146.35 94.62 L146.79 97.71 L147.23 100.86 L147.67 104.08 L148.11 107.36 L148.54 110.70 L148.98 114.09 L149.42 117.53 L149.86 121.01 L150.30 124.52 L150.74 128.07 L151.18 131.65 L151.61 135.25 L152.05 138.86 L152.49 142.49 L152.93 146.12 L153.37 149.76 L153.81 153.39 L154.25 157.01 L154.69 160.62 L155.12 164.21 L155.56 167.78 L156.00 171.31 L156.44 174.81 L156.88 178.28 L157.32 181.70 L157.76 185.06 L158.19 188.38 L158.63 191.64 L159.07 194.83 L159.51 197.96 L159.95 201.01 L160.39 203.99 L160.83 206.89 L161.27 209.70 L161.70 212.42 L162.14 215.05 L162.58 217.59 L163.02 220.02 L163.46 222.35 L163.90 224.58 L164.34 226.69 L164.77 228.69 L165.21 230.58 L165.65 232.34 L166.09 233.99 L166.53 235.51 L166.97 236.91 L167.41 238.18 L167.85 239.32 L168.28 240.33 L168.72 241.21 L169.16 241.95 L169.60 242.56 L170.04 243.03 L170.48 243.37 L170.92 243.57 L171.35 243.63 L171.79 243.56 L172.23 243.35 L172.67 243.00 L173.11 242.52 L173.55 241.90 L173.99 241.15 L174.43 240.26 L174.86 239.24 L175.30 238.09 L175.74 236.81 L176.18 235.40 L176.62 233.87 L177.06 232.22 L177.50 230.44 L177.93 228.55 L178.37 226.54 L178.81 224.42 L179.25 222.18 L179.69 219.85 L180.13 217.40 L180.57 214.86 L181.00 212.22 L181.44 209.49 L181.88 206.68 L182.32 203.77 L182.76 200.79 L183.20 197.73 L183.64 194.60 L184.08 191.40 L184.51 188.14 L184.95 184.82 L185.39 181.44 L185.83 178.02 L186.27 174.56 L186.71 171.05 L187.15 167.51 L187.58 163.95 L188.02 160.35 L188.46 156.74 L188.90 153.12 L189.34 149.49 L189.78 145.85 L190.22 142.22 L190.66 138.59 L191.09 134.98 L191.53 131.38 L191.97 127.81 L192.41 124.26 L192.85 120.75 L193.29 117.27 L193.73 113.84 L194.16 110.45 L194.60 107.12 L195.04 103.84 L195.48 100.63 L195.92 97.48 L196.36 94.40 L196.80 91.39 L197.24 88.47 L197.67 85.63 L198.11 82.87 L198.55 80.21 L198.99 77.65 L199.43 75.18 L199.87 72.81 L200.31 70.55 L200.74 68.40 L201.18 66.36 L201.62 64.44 L202.06 62.63 L202.50 60.94 L202.94 59.38 L203.38 57.94 L203.82 56.63 L204.25 55.45 L204.69 54.39 L205.13 53.47 L205.57 52.68 L206.01 52.03 L206.45 51.51 L206.89 51.13 L207.32 50.88 L207.76 50.77 L208.20 50.80 L208.64 50.97 L209.08 51.27 L209.52 51.71 L209.96 52.28 L210.40 52.99 L210.83 53.83 L211.27 54.81 L211.71 55.91 L212.15 57.15 L212.59 58.51 L213.03 60.00 L213.47 61.62 L213.90 63.35 L214.34 65.21 L214.78 67.18 L215.22 69.26 L215.66 71.46 L216.10 73.76 L216.54 76.17 L216.98 78.68 L217.41 81.29 L217.85 83.99 L218.29 86.78 L218.73 89.65 L219.17 92.61 L219.61 95.64 L220.05 98.75 L220.48 101.93 L220.92 105.17 L221.36 108.47 L221.80 111.83 L222.24 115.23 L222.68 118.68 L223.12 122.18 L223.55 125.70 L223.99 129.26 L224.43 132.85 L224.87 136.45 L225.31 140.07 L225.75 143.70 L226.19 147.33 L226.63 150.97 L227.06 154.60 L227.50 158.22 L227.94 161.82 L228.38 165.40 L228.82 168.96 L229.26 172.48 L229.70 175.97 L230.13 179.42 L230.57 182.82 L231.01 186.18 L231.45 189.47 L231.89 192.71 L232.33 195.88 L232.77 198.98 L233.21 202.01 L233.64 204.97 L234.08 207.83 L234.52 210.62 L234.96 213.31 L235.40 215.91 L235.84 218.41 L236.28 220.81 L236.71 223.11 L237.15 225.29 L237.59 227.37 L238.03 229.33 L238.47 231.18 L238.91 232.91 L239.35 234.51 L239.79 235.99 L240.22 237.35 L240.66 238.57 L241.10 239.67 L241.54 240.64 L241.98 241.47 L242.42 242.17 L242.86 242.73 L243.29 243.16 L243.73 243.45 L244.17 243.60 L244.61 243.62 L245.05 243.50 L245.49 243.25 L245.93 242.85 L246.37 242.33 L246.80 241.66 L247.24 240.86 L247.68 239.93 L248.12 238.87 L248.56 237.68 L249.00 236.36 L249.44 234.91 L249.87 233.33 L250.31 231.64 L250.75 229.82 L251.19 227.89 L251.63 225.84 L252.07 223.68 L252.51 221.42 L252.95 219.04 L253.38 216.57 L253.82 213.99 L254.26 211.32 L254.70 208.56 L255.14 205.72 L255.58 202.79 L256.02 199.78 L256.45 196.69 L256.89 193.54 L257.33 190.32 L257.77 187.04 L258.21 183.70 L258.65 180.31 L259.09 176.87 L259.53 173.39 L259.96 169.88 L260.40 166.33 L260.84 162.75 L261.28 159.15 L261.72 155.54 L262.16 151.91 L262.60 148.28 L263.03 144.64 L263.47 141.01 L263.91 137.39 L264.35 133.78 L264.79 130.19 L265.23 126.62 L265.67 123.09 L266.11 119.59 L266.54 116.12 L266.98 112.70 L267.42 109.34 L267.86 106.02 L268.30 102.76 L268.74 99.57 L269.18 96.44 L269.61 93.39 L270.05 90.41 L270.49 87.51 L270.93 84.70 L271.37 81.98 L271.81 79.35 L272.25 76.81 L272.68 74.38 L273.12 72.05 L273.56 69.82 L274.00 67.71 L274.44 65.71 L274.88 63.82 L275.32 62.06 L275.76 60.41 L276.19 58.89 L276.63 57.49 L277.07 56.22 L277.51 55.08 L277.95 54.07 L278.39 53.19 L278.83 52.45 L279.26 51.84 L279.70 51.37 L280.14 51.03 L280.58 50.83 L281.02 50.77 L281.46 50.84 L281.90 51.05 L282.34 51.40 L282.77 51.88 L283.21 52.50 L283.65 53.25 L284.09 54.14 L284.53 55.16 L284.97 56.31 L285.41 57.59 L285.84 59.00 L286.28 60.53 L286.72 62.18 L287.16 63.96 L287.60 65.85 L288.04 67.86 L288.48 69.98 L288.92 72.22 L289.35 74.55 L289.79 77.00 L290.23 79.54 L290.67 82.18 L291.11 84.91 L291.55 87.72 L291.99 90.63 L292.42 93.61 L292.86 96.67 L293.30 99.80 L293.74 103.00 L294.18 106.26 L294.62 109.58 L295.06 112.96 L295.50 116.38 L295.93 119.84 L296.37 123.35 L296.81 126.89 L297.25 130.45 L297.69 134.05 L298.13 137.66 L298.57 141.28 L299.00 144.91 L299.44 148.55 L299.88 152.18 L300.32 155.81 L300.76 159.42 L301.20 163.02 L301.64 166.59 L302.08 170.14 L302.51 173.65 L302.95 177.13 L303.39 180.56 L303.83 183.95 L304.27 187.28 L304.71 190.56 L305.15 193.77 L305.58 196.92 L306.02 200.00 L306.46 203.01 L306.90 205.93 L307.34 208.77 L307.78 211.53 L308.22 214.19 L308.66 216.75 L309.09 219.22 L309.53 221.59 L309.97 223.85 L310.41 226.00 L310.85 228.04 L311.29 229.96 L311.73 231.77 L312.16 233.46 L312.60 235.02 L313.04 236.46 L313.48 237.77 L313.92 238.95 L314.36 240.01 L314.80 240.93 L315.24 241.72 L315.67 242.37 L316.11 242.89 L316.55 243.27 L316.99 243.52 L317.43 243.63 L317.87 243.60 L318.31 243.43 L318.74 243.13 L319.18 242.69 L319.62 242.12 L320.06 241.41 L320.50 240.57 L320.94 239.59 L321.38 238.49 L321.81 237.25 L322.25 235.89 L322.69 234.40 L323.13 232.78 L323.57 231.05 L324.01 229.19 L324.45 227.22 L324.89 225.14 L325.32 222.94 L325.76 220.64 L326.20 218.23 L326.64 215.72 L327.08 213.11 L327.52 210.41 L327.96 207.62 L328.39 204.75 L328.83 201.79 L329.27 198.76 L329.71 195.65 L330.15 192.47 L330.59 189.23 L331.03 185.93 L331.47 182.57 L331.90 179.17 L332.34 175.72 L332.78 172.22 L333.22 168.70 L333.66 165.14 L334.10 161.55 L334.54 157.95 L334.97 154.33 L335.41 150.70 L335.85 147.07 L336.29 143.43 L336.73 139.80 L337.17 136.18 L337.61 132.58 L338.05 129.00 L338.48 125.44 L338.92 121.92 L339.36 118.43 L339.80 114.98 L340.24 111.58 L340.68 108.22 L341.12 104.93 L341.55 101.69 L341.99 98.52 L342.43 95.42 L342.87 92.39 L343.31 89.43 L343.75 86.57 L344.19 83.78 L344.63 81.09 L345.06 78.49 L345.50 75.99 L345.94 73.59 L346.38 71.29 L346.82 69.11 L347.26 67.03 L347.70 65.07 L348.13 63.22 L348.57 61.49 L349.01 59.89 L349.45 58.41 L349.89 57.05 L350.33 55.83 L350.77 54.73 L351.21 53.76 L351.64 52.93 L352.08 52.23 L352.52 51.67 L352.96 51.24 L353.40 50.95 L353.84 50.80 L354.28 50.78 L354.71 50.90 L355.15 51.15 L355.59 51.55 L356.03 52.07 L356.47 52.74 L356.91 53.54 L357.35 54.47 L357.79 55.53 L358.22 56.72 L358.66 58.04 L359.10 59.49 L359.54 61.07 L359.98 62.76 L360.42 64.58 L360.86 66.51 L361.29 68.56 L361.73 70.72 L362.17 72.98 L362.61 75.36 L363.05 77.83 L363.49 80.41 L363.93 83.08 L364.37 85.84 L364.80 88.68 L365.24 91.61 L365.68 94.62 L366.12 97.71 L366.56 100.86 L367.00 104.08 L367.44 107.36 L367.87 110.70 L368.31 114.09 L368.75 117.53 L369.19 121.01 L369.63 124.52 L370.07 128.07 L370.51 131.65 L370.95 135.25 L371.38 138.86 L371.82 142.49 L372.26 146.12 L372.70 149.76 L373.14 153.39 L373.58 157.01 L374.02 160.62 L374.45 164.21 L374.89 167.78 L375.33 171.31 L375.77 174.81 L376.21 178.28 L376.65 181.70 L377.09 185.06 L377.52 188.38 L377.96 191.64 L378.40 194.83 L378.84 197.96 L379.28 201.01 L379.72 203.99 L380.16 206.89 L380.60 209.70 L381.03 212.42 L381.47 215.05 L381.91 217.59 L382.35 220.02 L382.79 222.35 L383.23 224.58 L383.67 226.69 L384.10 228.69 L384.54 230.58 L384.98 232.34 L385.42 233.99 L385.86 235.51 L386.30 236.91 L386.74 238.18 L387.18 239.32 L387.61 240.33 L388.05 241.21 L388.49 241.95 L388.93 242.56 L389.37 243.03 L389.81 243.37 L390.25 243.57 L390.68 243.63 L391.12 243.56 L391.56 243.35 L392.00 243.00 L392.44 242.52 L392.88 241.90 L393.32 241.15 L393.76 240.26 L394.19 239.24 L394.63 238.09 L395.07 236.81 L395.51 235.40 L395.95 233.87 L396.39 232.22 L396.83 230.44 L397.26 228.55 L397.70 226.54 L398.14 224.42 L398.58 222.18 L399.02 219.85 L399.46 217.40 L399.90 214.86 L400.34 212.22 L400.77 209.49 L401.21 206.68 L401.65 203.77 L402.09 200.79 L402.53 197.73 L402.97 194.60 L403.41 191.40 L403.84 188.14 L404.28 184.82 L404.72 181.44 L405.16 178.02 L405.60 174.56 L406.04 171.05 L406.48 167.51 L406.92 163.95 L407.35 160.35 L407.79 156.74 L408.23 153.12 L408.67 149.49 L409.11 145.85 L409.55 142.22 L409.99 138.59 L410.42 134.98 L410.86 131.38 L411.30 127.81 L411.74 124.26 L412.18 120.75 L412.62 117.27 L413.06 113.84 L413.50 110.45 L413.93 107.12 L414.37 103.84 L414.81 100.63 L415.25 97.48 L415.69 94.40 L416.13 91.39 L416.57 88.47 L417.00 85.63 L417.44 82.87 L417.88 80.21 L418.32 77.65 L418.76 75.18 L419.20 72.81 L419.64 70.55 L420.07 68.40 L420.51 66.36 L420.95 64.44 L421.39 62.63 L421.83 60.94 L422.27 59.38 L422.71 57.94 L423.15 56.63 L423.58 55.45 L424.02 54.39 L424.46 53.47 L424.90 52.68 L425.34 52.03 L425.78 51.51 L426.22 51.13 L426.65 50.88 L427.09 50.77 L427.53 50.80 L427.97 50.97 L428.41 51.27 L428.85 51.71 L429.29 52.28 L429.73 52.99 L430.16 53.83 L430.60 54.81 L431.04 55.91 L431.48 57.15 L431.92 58.51 L432.36 60.00 L432.80 61.62 L433.23 63.35 L433.67 65.21 L434.11 67.18 L434.55 69.26 L434.99 71.46 L435.43 73.76 L435.87 76.17 L436.31 78.68 L436.74 81.29 L437.18 83.99 L437.62 86.78 L438.06 89.65 L438.50 92.61 L438.94 95.64 L439.38 98.75 L439.81 101.93 L440.25 105.17 L440.69 108.47 L441.13 111.83 L441.57 115.23 L442.01 118.68 L442.45 122.18 L442.89 125.70 L443.32 129.26 L443.76 132.85 L444.20 136.45 L444.64 140.07 L445.08 143.70 L445.52 147.33 L445.96 150.97 L446.39 154.60 L446.83 158.22 L447.27 161.82 L447.71 165.40 L448.15 168.96 L448.59 172.48 L449.03 175.97 L449.47 179.42 L449.90 182.82 L450.34 186.18 L450.78 189.47 L451.22 192.71 L451.66 195.88 L452.10 198.98 L452.54 202.01 L452.97 204.97 L453.41 207.83 L453.85 210.62 L454.29 213.31 L454.73 215.91 L455.17 218.41 L455.61 220.81 L456.05 223.11 L456.48 225.29 L456.92 227.37 L457.36 229.33 L457.80 231.18 L458.24 232.91 L458.68 234.51 L459.12 235.99 L459.55 237.35 L459.99 238.57 L460.43 239.67 L460.87 240.64 L461.31 241.47 L461.75 242.17 L462.19 242.73 L462.63 243.16 L463.06 243.45 L463.50 243.60 L463.94 243.62 L464.38 243.50 L464.82 243.25 L465.26 242.85 L465.70 242.33 L466.13 241.66 L466.57 240.86 L467.01 239.93 L467.45 238.87 L467.89 237.68 L468.33 236.36 L468.77 234.91 L469.20 233.33 L469.64 231.64 L470.08 229.82 L470.52 227.89 L470.96 225.84 L471.40 223.68 L471.84 221.42 L472.28 219.04 L472.71 216.57 L473.15 213.99 L473.59 211.32 L474.03 208.56 L474.47 205.72 L474.91 202.79 L475.35 199.78 L475.78 196.69 L476.22 193.54 L476.66 190.32 L477.10 187.04 L477.54 183.70 L477.98 180.31 L478.42 176.87 L478.86 173.39 L479.29 169.88 L479.73 166.33 L480.17 162.75 L480.61 159.15 L481.05 155.54 L481.49 151.91 L481.93 148.28 L482.36 144.64 L482.80 141.01 L483.24 137.39 L483.68 133.78 L484.12 130.19 L484.56 126.62 L485.00 123.09 L485.44 119.59 L485.87 116.12 L486.31 112.70 L486.75 109.34 L487.19 106.02 L487.63 102.76 L488.07 99.57 L488.51 96.44 L488.94 93.39 L489.38 90.41 L489.82 87.51 L490.26 84.70 L490.70 81.98 L491.14 79.35 L491.58 76.81 L492.02 74.38 L492.45 72.05 L492.89 69.82 L493.33 67.71 L493.77 65.71 L494.21 63.82 L494.65 62.06 L495.09 60.41 L495.52 58.89 L495.96 57.49 L496.40 56.22 L496.84 55.08 L497.28 54.07 L497.72 53.19 L498.16 52.45 L498.60 51.84 L499.03 51.37 L499.47 51.03 L499.91 50.83 L500.35 50.77 L500.79 50.84 L501.23 51.05 L501.67 51.40 L502.10 51.88 L502.54 52.50 L502.98 53.25 L503.42 54.14 L503.86 55.16 L504.30 56.31 L504.74 57.59 L505.18 59.00 L505.61 60.53 L506.05 62.18 L506.49 63.96 L506.93 65.85 L507.37 67.86 L507.81 69.98 L508.25 72.22 L508.68 74.55 L509.12 77.00 L509.56 79.54 L510.00 82.18 L510.44 84.91 L510.88 87.72 L511.32 90.63 L511.76 93.61 L512.19 96.67 L512.63 99.80 L513.07 103.00 L513.51 106.26 L513.95 109.58 L514.39 112.96 L514.83 116.38 L515.26 119.84 L515.70 123.35 L516.14 126.89 L516.58 130.45 L517.02 134.05 L517.46 137.66 L517.90 141.28 L518.33 144.91 L518.77 148.55 L519.21 152.18 L519.65 155.81 L520.09 159.42 L520.53 163.02 L520.97 166.59 L521.41 170.14 L521.84 173.65 L522.28 177.13 L522.72 180.56 L523.16 183.95 L523.60 187.28 L524.04 190.56 L524.48 193.77 L524.91 196.92 L525.35 200.00 L525.79 203.01 L526.23 205.93 L526.67 208.77 L527.11 211.53 L527.55 214.19 L527.99 216.75 L528.42 219.22 L528.86 221.59 L529.30 223.85 L529.74 226.00 L530.18 228.04 L530.62 229.96 L531.06 231.77 L531.49 233.46 L531.93 235.02 L532.37 236.46 L532.81 237.77 L533.25 238.95 L533.69 240.01 L534.13 240.93 L534.57 241.72 L535.00 242.37 L535.44 242.89 L535.88 243.27 L536.32 243.52 L536.76 243.63 L537.20 243.60 L537.64 243.43 L538.07 243.13 L538.51 242.69 L538.95 242.12 L539.39 241.41 L539.83 240.57 L540.27 239.59 L540.71 238.49 L541.15 237.25 L541.58 235.89 L542.02 234.40 L542.46 232.78 L542.90 231.05 L543.34 229.19 L543.78 227.22 L544.22 225.14 L544.65 222.94 L545.09 220.64 L545.53 218.23 L545.97 215.72 L546.41 213.11 L546.85 210.41 L547.29 207.62 L547.73 204.75 L548.16 201.79 L548.60 198.76 L549.04 195.65 L549.48 192.47 L549.92 189.23 L550.36 185.93 L550.80 182.57 L551.23 179.17 L551.67 175.72 L552.11 172.22 L552.55 168.70 L552.99 165.14 L553.43 161.55 L553.87 157.95 L554.31 154.33 L554.74 150.70 L555.18 147.07 L555.62 143.43 L556.06 139.80 L556.50 136.18 L556.94 132.58 L557.38 129.00 L557.81 125.44 L558.25 121.92 L558.69 118.43 L559.13 114.98 L559.57 111.58 L560.01 108.22 L560.45 104.93 L560.89 101.69 L561.32 98.52 L561.76 95.42 L562.20 92.39 L562.64 89.43 L563.08 86.57 L563.52 83.78 L563.96 81.09 L564.39 78.49 L564.83 75.99 L565.27 73.59 L565.71 71.29 L566.15 69.11 L566.59 67.03 L567.03 65.07 L567.47 63.22 L567.90 61.49 L568.34 59.89 L568.78 58.41 L569.22 57.05 L569.66 55.83 L570.10 54.73 L570.54 53.76 L570.97 52.93 L571.41 52.23 L571.85 51.67 L572.29 51.24 L572.73 50.95 L573.17 50.80 L573.61 50.78 L574.04 50.90 L574.48 51.15 L574.92 51.55 L575.36 52.07 L575.80 52.74 L576.24 53.54 L576.68 54.47 L577.12 55.53 L577.55 56.72 L577.99 58.04 L578.43 59.49 L578.87 61.07 L579.31 62.76 L579.75 64.58 L580.19 66.51 L580.62 68.56 L581.06 70.72 L581.50 72.98 L581.94 75.36 L582.38 77.83 L582.82 80.41 L583.26 83.08 L583.70 85.84 L584.13 88.68 L584.57 91.61 L585.01 94.62 L585.45 97.71 L585.89 100.86 L586.33 104.08 L586.77 107.36 L587.20 110.70 L587.64 114.09 L588.08 117.53 L588.52 121.01 L588.96 124.52 L589.40 128.07 L589.84 131.65 L590.28 135.25 L590.71 138.86 L591.15 142.49 L591.59 146.12 L592.03 149.76 L592.47 153.39 L592.91 157.01 L593.35 160.62 L593.78 164.21 L594.22 167.78 L594.66 171.31 L595.10 174.81 L595.54 178.28 L595.98 181.70 L596.42 185.06 L596.86 188.38 L597.29 191.64 L597.73 194.83 L598.17 197.96 L598.61 201.01 L599.05 203.99 L599.49 206.89 L599.93 209.70 L600.36 212.42 L600.80 215.05 L601.24 217.59 L601.68 220.02 L602.12 222.35 L602.56 224.58 L603.00 226.69 L603.44 228.69 L603.87 230.58 L604.31 232.34 L604.75 233.99 L605.19 235.51 L605.63 236.91 L606.07 238.18 L606.51 239.32 L606.94 240.33 L607.38 241.21 L607.82 241.95 L608.26 242.56 L608.70 243.03 L609.14 243.37 L609.58 243.57 L610.02 243.63 L610.45 243.56 L610.89 243.35 L611.33 243.00 L611.77 242.52 L612.21 241.90 L612.65 241.15 L613.09 240.26 L613.52 239.24 L613.96 238.09 L614.40 236.81 L614.84 235.40 L615.28 233.87 L615.72 232.22 L616.16 230.44 L616.59 228.55 L617.03 226.54 L617.47 224.42 L617.91 222.18 L618.35 219.85 L618.79 217.40 L619.23 214.86 L619.67 212.22 L620.10 209.49 L620.54 206.68 L620.98 203.77 L621.42 200.79 L621.86 197.73 L622.30 194.60 L622.74 191.40 L623.17 188.14 L623.61 184.82 L624.05 181.44 L624.49 178.02 L624.93 174.56 L625.37 171.05 L625.81 167.51 L626.25 163.95 L626.68 160.35 L627.12 156.74 L627.56 153.12 L628.00 149.49 L628.44 145.85 L628.88 142.22 L629.32 138.59 L629.75 134.98 L630.19 131.38 L630.63 127.81 L631.07 124.26 L631.51 120.75 L631.95 117.27 L632.39 113.84 L632.83 110.45 L633.26 107.12 L633.70 103.84 L634.14 100.63 L634.58 97.48 L635.02 94.40 L635.46 91.39 L635.90 88.47 L636.33 85.63 L636.77 82.87 L637.21 80.21 L637.65 77.65 L638.09 75.18 L638.53 72.81 L638.97 70.55 L639.41 68.40 L639.84 66.36 L640.28 64.44 L640.72 62.63 L641.16 60.94 L641.60 59.38 L642.04 57.94 L642.48 56.63 L642.91 55.45 L643.35 54.39 L643.79 53.47 L644.23 52.68 L644.67 52.03 L645.11 51.51 L645.55 51.13 L645.99 50.88 L646.42 50.77 L646.86 50.80 L647.30 50.97 L647.74 51.27 L648.18 51.71 L648.62 52.28 L649.06 52.99 L649.49 53.83 L649.93 54.81 L650.37 55.91 L650.81 57.15 L651.25 58.51 L651.69 60.00 L652.13 61.62 L652.57 63.35 L653.00 65.21 L653.44 67.18 L653.88 69.26 L654.32 71.46 L654.76 73.76 L655.20 76.17 L655.64 78.68 L656.07 81.29 L656.51 83.99 L656.95 86.78 L657.39 89.65 L657.83 92.61 L658.27 95.64 L658.71 98.75 L659.15 101.93 L659.58 105.17 L660.02 108.47 L660.46 111.83 L660.90 115.23 L661.34 118.68 L661.78 122.18 L662.22 125.70 L662.65 129.26 L663.09 132.85 L663.53 136.45 L663.97 140.07 L664.41 143.70 L664.85 147.33 L665.29 150.97 L665.72 154.60 L666.16 158.22 L666.60 161.82 L667.04 165.40 L667.48 168.96 L667.92 172.48 L668.36 175.97 L668.80 179.42 L669.23 182.82 L669.67 186.18 L670.11 189.47 L670.55 192.71 L670.99 195.88 L671.43 198.98 L671.87 202.01 L672.30 204.97 L672.74 207.83 L673.18 210.62 L673.62 213.31 L674.06 215.91 L674.50 218.41 L674.94 220.81 L675.38 223.11 L675.81 225.29 L676.25 227.37 L676.69 229.33 L677.13 231.18 L677.57 232.91 L678.01 234.51 L678.45 235.99 L678.88 237.35 L679.32 238.57 L679.76 239.67 L680.20 240.64 L680.64 241.47 L681.08 242.17 L681.52 242.73 L681.96 243.16 L682.39 243.45 L682.83 243.60 L683.27 243.62 L683.71 243.50 L684.15 243.25 L684.59 242.85 L685.03 242.33 L685.46 241.66 L685.90 240.86 L686.34 239.93 L686.78 238.87 L687.22 237.68 L687.66 236.36 L688.10 234.91 L688.54 233.33 L688.97 231.64 L689.41 229.82 L689.85 227.89 L690.29 225.84 L690.73 223.68 L691.17 221.42 L691.61 219.04 L692.04 216.57 L692.48 213.99 L692.92 211.32 L693.36 208.56 L693.80 205.72 L694.24 202.79 L694.68 199.78 L695.12 196.69 L695.55 193.54 L695.99 190.32 L696.43 187.04 L696.87 183.70 L697.31 180.31 L697.75 176.87 L698.19 173.39 L698.62 169.88 L699.06 166.33 L699.50 162.75 L699.94 159.15 L700.38 155.54 L700.82 151.91 L701.26 148.28 L701.70 144.64 L702.13 141.01 L702.57 137.39 L703.01 133.78 L703.45 130.19 L703.89 126.62 L704.33 123.09 L704.77 119.59 L705.20 116.12 L705.64 112.70 L706.08 109.34 L706.52 106.02 L706.96 102.76 L707.40 99.57 L707.84 96.44 L708.28 93.39 L708.71 90.41 L709.15 87.51 L709.59 84.70 L710.03 81.98 L710.47 79.35 L710.91 76.81 L711.35 74.38 L711.78 72.05 L712.22 69.82 L712.66 67.71 L713.10 65.71 L713.54 63.82 L713.98 62.06 L714.42 60.41 L714.85 58.89 L715.29 57.49 L715.73 56.22 L716.17 55.08 L716.61 54.07 L717.05 53.19 L717.49 52.45 L717.93 51.84 L718.36 51.37 L718.80 51.03 L719.24 50.83 L719.68 50.77 L720.12 50.84 L720.56 51.05 L721.00 51.40 L721.43 51.88 L721.87 52.50 L722.31 53.25 L722.75 54.14 L723.19 55.16 L723.63 56.31 L724.07 57.59 L724.51 59.00 L724.94 60.53 L725.38 62.18 L725.82 63.96 L726.26 65.85 L726.70 67.86 L727.14 69.98 L727.58 72.22 L728.01 74.55 L728.45 77.00 L728.89 79.54 L729.33 82.18 L729.77 84.91 L730.21 87.72 L730.65 90.63 L731.09 93.61 L731.52 96.67 L731.96 99.80 L732.40 103.00 L732.84 106.26 L733.28 109.58 L733.72 112.96 L734.16 116.38 L734.59 119.84 L735.03 123.35 L735.47 126.89 L735.91 130.45 L736.35 134.05 L736.79 137.66 L737.23 141.28 L737.67 144.91 L738.10 148.55 L738.54 152.18 L738.98 155.81 L739.42 159.42 L739.86 163.02 L740.30 166.59 L740.74 170.14 L741.17 173.65 L741.61 177.13 L742.05 180.56 L742.49 183.95 L742.93 187.28 L743.37 190.56 L743.81 193.77 L744.25 196.92 L744.68 200.00 L745.12 203.01 L745.56 205.93 L746.00 208.77 L746.44 211.53 L746.88 214.19 L747.32 216.75 L747.75 219.22 L748.19 221.59 L748.63 223.85 L749.07 226.00 L749.51 228.04 L749.95 229.96 L750.39 231.77 L750.83 233.46 L751.26 235.02 L751.70 236.46 L752.14 237.77 L752.58 238.95 L753.02 240.01 L753.46 240.93 L753.90 241.72 L754.33 242.37 L754.77 242.89 L755.21 243.27 L755.65 243.52 L756.09 243.63 L756.53 243.60 L756.97 243.43 L757.41 243.13 L757.84 242.69 L758.28 242.12 L758.72 241.41 L759.16 240.57 L759.60 239.59 L760.04 238.49 L760.48 237.25 L760.91 235.89 L761.35 234.40 L761.79 232.78 L762.23 231.05 L762.67 229.19 L763.11 227.22 L763.55 225.14 L763.98 222.94 L764.42 220.64 L764.86 218.23 L765.30 215.72 L765.74 213.11 L766.18 210.41 L766.62 207.62 L767.06 204.75 L767.49 201.79 L767.93 198.76 L768.37 195.65 L768.81 192.47 L769.25 189.23 L769.69 185.93 L770.13 182.57 L770.56 179.17 L771.00 175.72 L771.44 172.22 L771.88 168.70 L772.32 165.14 L772.76 161.55 L773.20 157.95 L773.64 154.33 L774.07 150.70 L774.51 147.07 L774.95 143.43 L775.39 139.80 L775.83 136.18 L776.27 132.58 L776.71 129.00 L777.14 125.44 L777.58 121.92 L778.02 118.43 L778.46 114.98 L778.90 111.58 L779.34 108.22 L779.78 104.93 L780.22 101.69 L780.65 98.52 L781.09 95.42 L781.53 92.39 L781.97 89.43 L782.41 86.57 L782.85 83.78 L783.29 81.09 L783.72 78.49 L784.16 75.99 L784.60 73.59 L785.04 71.29 L785.48 69.11 L785.92 67.03 L786.36 65.07 L786.80 63.22 L787.23 61.49 L787.67 59.89 L788.11 58.41 L788.55 57.05 L788.99 55.83 L789.43 54.73 L789.87 53.76 L790.30 52.93 L790.74 52.23 L791.18 51.67 L791.62 51.24 L792.06 50.95 L792.50 50.80 L792.94 50.78 L793.38 50.90 L793.81 51.15 L794.25 51.55 L794.69 52.07 L795.13 52.74 L795.57 53.54 L796.01 54.47 L796.45 55.53 L796.88 56.72 L797.32 58.04 L797.76 59.49 L798.20 61.07 L798.64 62.76 L799.08 64.58 L799.52 66.51 L799.96 68.56 L800.39 70.72 L800.83 72.98 L800.83 72.98 L800.83 68.25 L801.27 71.62 L801.71 75.11 L802.15 78.69 L802.59 82.38 L803.03 86.16 L803.46 90.03 L803.90 93.98 L804.34 98.00 L804.78 102.10 L805.22 106.26 L805.66 110.48 L806.10 114.75 L806.54 119.07 L806.97 123.43 L807.41 127.82 L807.85 132.24 L808.29 136.69 L808.73 141.14 L809.17 145.61 L809.61 150.08 L810.04 154.55 L810.48 159.00 L810.92 163.44 L811.36 167.86 L811.80 172.24 L812.24 176.59 L812.68 180.90 L813.11 185.16 L813.55 189.37 L813.99 193.52 L814.43 197.60 L814.87 201.61 L815.31 205.54 L815.75 209.38 L816.19 213.14 L816.62 216.81 L817.06 220.37 L817.50 223.83 L817.94 227.18 L818.38 230.42 L818.82 233.53 L819.26 236.53 L819.69 239.39 L820.13 242.13 L820.57 244.72 L821.01 247.18 L821.45 249.50 L821.89 251.67 L822.33 253.69 L822.77 255.55 L823.20 257.26 L823.64 258.82 L824.08 260.21 L824.52 261.45 L824.96 262.52 L825.40 263.42 L825.84 264.16 L826.27 264.73 L826.71 265.13 L827.15 265.36 L827.59 265.43 L828.03 265.32 L828.47 265.05 L828.91 264.61 L829.35 264.00 L829.78 263.22 L830.22 262.27 L830.66 261.16 L831.10 259.89 L831.54 258.46 L831.98 256.86 L832.42 255.11 L832.85 253.21 L833.29 251.15 L833.73 248.94 L834.17 246.59 L834.61 244.10 L835.05 241.47 L835.49 238.70 L835.93 235.80 L836.36 232.77 L836.80 229.62 L837.24 226.36 L837.68 222.98 L838.12 219.49 L838.56 215.89 L839.00 212.20 L839.43 208.42 L839.87 204.55 L840.31 200.59 L840.75 196.56 L841.19 192.46 L841.63 188.29 L842.07 184.07 L842.51 179.79 L842.94 175.46 L843.38 171.09 L843.82 166.69 L844.26 162.26 L844.70 157.81 L845.14 153.35 L845.58 148.87 L846.01 144.39 L846.45 139.92 L846.89 135.46 L847.33 131.01 L847.77 126.58 L848.21 122.19 L848.65 117.83 L849.09 113.51 L849.52 109.24 L849.96 105.03 L850.40 100.87 L850.84 96.78 L851.28 92.77 L851.72 88.83 L852.16 84.97 L852.59 81.21 L853.03 77.53 L853.47 73.96 L853.91 70.49 L854.35 67.14 L854.79 63.89 L855.23 60.77 L855.67 57.77 L856.10 54.89 L856.54 52.15 L856.98 49.55 L857.42 47.08 L857.86 44.76 L858.30 42.58 L858.74 40.56 L859.17 38.69 L859.61 36.97 L860.05 35.41 L860.49 34.01 L860.93 32.77 L861.37 31.69 L861.81 30.79 L862.24 30.04 L862.68 29.47 L863.12 29.06 L863.56 28.83 L864.00 28.76 L864.44 28.86 L864.88 29.13 L865.32 29.57 L865.75 30.18 L866.19 30.96 L866.63 31.90 L867.07 33.01 L867.51 34.28 L867.95 35.72 L868.39 37.31 L868.82 39.06 L869.26 40.97 L869.70 43.02 L870.14 45.23 L870.58 47.59 L871.02 50.08 L871.46 52.72 L871.90 55.49 L872.33 58.39 L872.77 61.42 L873.21 64.57 L873.65 67.84 L874.09 71.23 L874.53 74.72 L874.97 78.32 L875.40 82.01 L875.84 85.80 L876.28 89.68 L876.72 93.64 L877.16 97.68 L877.60 101.79 L878.04 105.96 L878.48 110.19 L878.91 114.48 L879.35 118.81 L879.79 123.19 L880.23 127.59 L880.67 132.03 L881.11 136.49 L881.55 140.96 L881.98 145.45 L882.42 149.93 L882.86 154.41 L883.30 158.89 L883.74 163.34 L884.18 167.77 L884.62 172.18 L885.06 176.54 L885.49 180.87 L885.93 185.15 L886.37 189.37 L886.81 193.54 L887.25 197.63 L887.69 201.66 L888.13 205.61 L888.56 209.47 L889.00 213.24 L889.44 216.93 L889.88 220.51 L890.32 223.98 L890.76 227.35 L891.20 230.60 L891.64 233.73 L892.07 236.74 L892.51 239.62 L892.95 242.37 L893.39 244.98 L893.83 247.45 L894.27 249.78 L894.71 251.97 L895.14 254.00 L895.58 255.88 L896.02 257.60 L896.46 259.17 L896.90 260.57 L897.34 261.81 L897.78 262.89 L898.22 263.81 L898.65 264.55 L899.09 265.13 L899.53 265.54 L899.97 265.78 L900.41 265.85 L900.85 265.75 L901.29 265.48 L901.72 265.05 L902.16 264.44 L902.60 263.66 L903.04 262.72 L903.48 261.61 L903.92 260.34 L904.36 258.91 L904.80 257.32 L905.23 255.56 L905.67 253.66 L906.11 251.60 L906.55 249.39 L906.99 247.04 L907.43 244.54 L907.87 241.90 L908.30 239.13 L908.74 236.22 L909.18 233.19 L909.62 230.03 L910.06 226.76 L910.50 223.37 L910.94 219.87 L911.38 216.27 L911.81 212.57 L912.25 208.78 L912.69 204.89 L913.13 200.93 L913.57 196.88 L914.01 192.77 L914.45 188.59 L914.88 184.35 L915.32 180.06 L915.76 175.72 L916.20 171.34 L916.64 166.92 L917.08 162.48 L917.52 158.01 L917.95 153.53 L918.39 149.04 L918.83 144.54 L919.27 140.05 L919.71 135.57 L920.15 131.11 L920.59 126.67 L921.03 122.26 L921.46 117.88 L921.90 113.55 L922.34 109.26 L922.78 105.03 L923.22 100.86 L923.66 96.75 L924.10 92.72 L924.53 88.76 L924.97 84.89 L925.41 81.10 L925.85 77.42 L926.29 73.83 L926.73 70.34 L927.17 66.97 L927.61 63.71 L928.04 60.57 L928.48 57.55 L928.92 54.66 L929.36 51.91 L929.80 49.29 L930.24 46.81 L930.68 44.47 L931.11 42.29 L931.55 40.25 L931.99 38.36 L932.43 36.63 L932.87 35.06 L933.31 33.65 L933.75 32.40 L934.19 31.32 L934.62 30.40 L935.06 29.65 L935.50 29.07 L935.94 28.65 L936.38 28.41 L936.82 28.33 L937.26 28.43 L937.69 28.70 L938.13 29.13 L938.57 29.74 L939.01 30.51 L939.45 31.45 L939.89 32.56 L940.33 33.83 L940.77 35.26 L941.20 36.86 L941.64 38.61 L942.08 40.52 L942.52 42.58 L942.96 44.79 L943.40 47.14 L943.84 49.64 L944.27 52.28 L944.71 55.06 L945.15 57.97 L945.59 61.00 L946.03 64.16 L946.47 67.44 L946.91 70.83 L947.35 74.33 L947.78 77.94 L948.22 81.65 L948.66 85.45 L949.10 89.33 L949.54 93.31 L949.98 97.36 L950.42 101.48 L950.85 105.66 L951.29 109.91 L951.73 114.21 L952.17 118.55 L952.61 122.94 L953.05 127.36 L953.49 131.82 L953.93 136.29 L954.36 140.78 L954.80 145.28 L955.24 149.78 L955.68 154.28 L956.12 158.77 L956.56 163.24 L957.00 167.69 L957.43 172.11 L957.87 176.49 L958.31 180.84 L958.75 185.13 L959.19 189.37 L959.63 193.55 L960.07 197.67 L960.51 201.71 L960.94 205.67 L961.38 209.55 L961.82 213.35 L962.26 217.04 L962.70 220.64 L963.14 224.13 L963.58 227.52 L964.01 230.78 L964.45 233.93 L964.89 236.96 L965.33 239.85 L965.77 242.61 L966.21 245.24 L966.65 247.73 L967.08 250.07 L967.52 252.26 L967.96 254.31 L968.40 256.20 L968.84 257.94 L969.28 259.51 L969.72 260.93 L970.16 262.18 L970.59 263.27 L971.03 264.19 L971.47 264.95 L971.91 265.54 L972.35 265.95 L972.79 266.20 L973.23 266.28 L973.66 266.18 L974.10 265.92 L974.54 265.49 L974.98 264.88 L975.42 264.11 L975.86 263.17 L976.30 262.07 L976.74 260.79 L977.17 259.36 L977.61 257.77 L978.05 256.02 L978.49 254.11 L978.93 252.05 L979.37 249.84 L979.81 247.48 L980.24 244.98 L980.68 242.34 L981.12 239.56 L981.56 236.65 L982.00 233.61 L982.44 230.44 L982.88 227.16 L983.32 223.77 L983.75 220.26 L984.19 216.65 L984.63 212.94 L985.07 209.13 L985.51 205.24 L985.95 201.26 L986.39 197.21 L986.82 193.08 L987.26 188.89 L987.70 184.64 L988.14 180.33 L988.58 175.98 L989.02 171.58 L989.46 167.15 L989.90 162.69 L990.33 158.21 L990.77 153.71 L991.21 149.21 L991.65 144.70 L992.09 140.19 L992.53 135.69 L992.97 131.21 L993.40 126.75 L993.84 122.33 L994.28 117.93 L994.72 113.58 L995.16 109.28 L995.60 105.03 L996.04 100.84 L996.48 96.72 L996.91 92.67 L997.35 88.69 L997.79 84.80 L998.23 81.00 L998.67 77.30 L999.11 73.69 L999.55 70.19 L999.98 66.80 L1000.42 63.53 L1000.86 60.37 L1001.30 57.34 L1001.74 54.44 L1002.18 51.66 L1002.62 49.03 L1003.06 46.54 L1003.49 44.19 L1003.93 41.99 L1004.37 39.94 L1004.81 38.04 L1005.25 36.30 L1005.69 34.71 L1006.13 33.29 L1006.56 32.03 L1007.00 30.94 L1007.44 30.01 L1007.88 29.25 L1008.32 28.66 L1008.76 28.24 L1009.20 27.99 L1009.63 27.91 L1010.07 28.00 L1010.51 28.26 L1010.95 28.70 L1011.39 29.30 L1011.83 30.07 L1012.27 31.00 L1012.71 32.11 L1013.14 33.38 L1013.58 34.81 L1014.02 36.40 L1014.46 38.16 L1014.90 40.07 L1015.34 42.13 L1015.78 44.34 L1016.21 46.70 L1016.65 49.20 L1017.09 51.85 L1017.53 54.63 L1017.97 57.54 L1018.41 60.58 L1018.85 63.75 L1019.29 67.04 L1019.72 70.44 L1020.16 73.95 L1020.60 77.56 L1021.04 81.28 L1021.48 85.09 L1021.92 88.99 L1022.36 92.97 L1022.79 97.03 L1023.23 101.16 L1023.67 105.36 L1024.11 109.62 L1024.55 113.93 L1024.99 118.30 L1025.43 122.70 L1025.87 127.14 L1026.30 131.60 L1026.74 136.09 L1027.18 140.60 L1027.62 145.11 L1028.06 149.63 L1028.50 154.14 L1028.94 158.65 L1029.37 163.14 L1029.81 167.60 L1030.25 172.04 L1030.69 176.44 L1031.13 180.80 L1031.57 185.11 L1032.01 189.37 L1032.45 193.57 L1032.88 197.70 L1033.32 201.76 L1033.76 205.74 L1034.20 209.64 L1034.64 213.45 L1035.08 217.16 L1035.52 220.78 L1035.95 224.28 L1036.39 227.68 L1036.83 230.97 L1037.27 234.13 L1037.71 237.17 L1038.15 240.08 L1038.59 242.86 L1039.03 245.50 L1039.46 248.00 L1039.90 250.35 L1040.34 252.56 L1040.78 254.62 L1041.22 256.52 L1041.66 258.27 L1042.10 259.86 L1042.53 261.29 L1042.97 262.55 L1043.41 263.65 L1043.85 264.58 L1044.29 265.34 L1044.73 265.94 L1045.17 266.36 L1045.61 266.62 L1046.04 266.70 L1046.48 266.61 L1046.92 266.35 L1047.36 265.92 L1047.80 265.33 L1048.24 264.56 L1048.68 263.62 L1049.11 262.52 L1049.55 261.25 L1049.99 259.82 L1050.43 258.22 L1050.87 256.47 L1051.31 254.56 L1051.75 252.50 L1052.19 250.28 L1052.62 247.92 L1053.06 245.42 L1053.50 242.77 L1053.94 239.99 L1054.38 237.07 L1054.82 234.03 L1055.26 230.86 L1055.69 227.57 L1056.13 224.16 L1056.57 220.65 L1057.01 217.03 L1057.45 213.31 L1057.89 209.49 L1058.33 205.59 L1058.76 201.60 L1059.20 197.53 L1059.64 193.39 L1060.08 189.19 L1060.52 184.92 L1060.96 180.60 L1061.40 176.23 L1061.84 171.82 L1062.27 167.38 L1062.71 162.91 L1063.15 158.41 L1063.59 153.90 L1064.03 149.37 L1064.47 144.85 L1064.91 140.33 L1065.34 135.81 L1065.78 131.32 L1066.22 126.84 L1066.66 122.40 L1067.10 117.99 L1067.54 113.62 L1067.98 109.30 L1068.42 105.03 L1068.85 100.82 L1069.29 96.68 L1069.73 92.62 L1070.17 88.63 L1070.61 84.72 L1071.05 80.90 L1071.49 77.18 L1071.92 73.56 L1072.36 70.04 L1072.80 66.63 L1073.24 63.34 L1073.68 60.17 L1074.12 57.13 L1074.56 54.21 L1075.00 51.42 L1075.43 48.77 L1075.87 46.27 L1076.31 43.90 L1076.75 41.69 L1077.19 39.63 L1077.63 37.72 L1078.07 35.96 L1078.50 34.37 L1078.94 32.94 L1079.38 31.67 L1079.82 30.56 L1080.26 29.63 L1080.70 28.86 L1081.14 28.26 L1081.58 27.83 L1082.01 27.57 L1082.45 27.49 L1082.89 27.57 L1083.33 27.83 L1083.77 28.26 L1084.21 28.85 L1084.65 29.62 L1085.08 30.56 L1085.52 31.66 L1085.96 32.93 L1086.40 34.36 L1086.84 35.95 L1087.28 37.70 L1087.72 39.61 L1088.16 41.68 L1088.59 43.89 L1089.03 46.26 L1089.47 48.76 L1089.91 51.41 L1090.35 54.20 L1090.79 57.12 L1091.23 60.16 L1091.66 63.34 L1092.10 66.63 L1092.54 70.04 L1092.98 73.56 L1093.42 77.18 L1093.86 80.91 L1094.30 84.73 L1094.74 88.64 L1095.17 92.63 L1095.61 96.71 L1096.05 100.85 L1096.49 105.06 L1096.93 109.33 L1097.37 113.66 L1097.81 118.04 L1098.24 122.45 L1098.68 126.90 L1099.12 131.39 L1099.56 135.89 L1100.00 140.41 L1100.44 144.94 L1100.88 149.48 L1101.32 154.01 L1101.75 158.53 L1102.19 163.03 L1102.63 167.52 L1103.07 171.97 L1103.51 176.39 L1103.95 180.77 L1104.39 185.09 L1104.82 189.37 L1105.26 193.58 L1105.70 197.73 L1106.14 201.81 L1106.58 205.81 L1107.02 209.72 L1107.46 213.55 L1107.90 217.28 L1108.33 220.91 L1108.77 224.43 L1109.21 227.85 L1109.65 231.15 L1110.09 234.33 L1110.53 237.38 L1110.97 240.31 L1111.40 243.10 L1111.84 245.75 L1112.28 248.27 L1112.72 250.64 L1113.16 252.86 L1113.60 254.93 L1114.04 256.84 L1114.47 258.60 L1114.91 260.20 L1115.35 261.64 L1115.79 262.92 L1116.23 264.02 L1116.67 264.97 L1117.11 265.74 L1117.55 266.34 L1117.98 266.77 L1118.42 267.03 L1118.86 267.12 L1119.30 267.04 L1119.74 266.79 L1120.18 266.36 L1120.62 265.77 L1121.05 265.00 L1121.49 264.07 L1121.93 262.97 L1122.37 261.70 L1122.81 260.27 L1123.25 258.68 L1123.69 256.92 L1124.13 255.01 L1124.56 252.95 L1125.00 250.73 L1125.44 248.37 L1125.88 245.86 L1126.32 243.21 L1126.76 240.42 L1127.20 237.50 L1127.63 234.44 L1128.07 231.27 L1128.51 227.97 L1128.95 224.56 L1129.39 221.04 L1129.83 217.41 L1130.27 213.68 L1130.71 209.85 L1131.14 205.93 L1131.58 201.93 L1132.02 197.86 L1132.46 193.71 L1132.90 189.49 L1133.34 185.21 L1133.78 180.88 L1134.21 176.49 L1134.65 172.07 L1135.09 167.61 L1135.53 163.12 L1135.97 158.61 L1136.41 154.08 L1136.85 149.54 L1137.29 145.00 L1137.72 140.46 L1138.16 135.93 L1138.60 131.42 L1139.04 126.93 L1139.48 122.47 L1139.92 118.04 L1140.36 113.65 L1140.79 109.32 L1141.23 105.03 L1141.67 100.81 L1142.11 96.65 L1142.55 92.57 L1142.99 88.56 L1143.43 84.64 L1143.87 80.80 L1144.30 77.06 L1144.74 73.43 L1145.18 69.89 L1145.62 66.47 L1146.06 63.16 L1146.50 59.98 L1146.94 56.91 L1147.37 53.98 L1147.81 51.18 L1148.25 48.52 L1148.69 46.00 L1149.13 43.62 L1149.57 41.39 L1150.01 39.32 L1150.45 37.39 L1150.88 35.63 L1151.32 34.02 L1151.76 32.58 L1152.20 31.30 L1152.64 30.19 L1153.08 29.24 L1153.52 28.46 L1153.95 27.86 L1154.39 27.42 L1154.83 27.16 L1155.27 27.06 L1155.71 27.14 L1156.15 27.39 L1156.59 27.82 L1157.02 28.41 L1157.46 29.17 L1157.90 30.11 L1158.34 31.21 L1158.78 32.47 L1159.22 33.90 L1159.66 35.50 L1160.10 37.25 L1160.53 39.16 L1160.97 41.23 L1161.41 43.44 L1161.85 45.81 L1162.29 48.32 L1162.73 50.98 L1163.17 53.77 L1163.60 56.69 L1164.04 59.75 L1164.48 62.93 L1164.92 66.23 L1165.36 69.64 L1165.80 73.17 L1166.24 76.80 L1166.68 80.54 L1167.11 84.37 L1167.55 88.29 L1167.99 92.30 L1168.43 96.38 L1168.87 100.54 L1169.31 104.76 L1169.75 109.05 L1170.18 113.39 L1170.62 117.78 L1171.06 122.21 L1171.50 126.67 L1171.94 131.17 L1172.38 135.69 L1172.82 140.22 L1173.26 144.77 L1173.69 149.32 L1174.13 153.87 L1174.57 158.41 L1175.01 162.93 L1175.45 167.43 L1175.89 171.90 L1176.33 176.33 L1176.76 180.73 L1177.20 185.07 L1177.64 189.37 L1178.08 193.60 L1178.52 197.76 L1178.96 201.86 L1179.40 205.87 L1179.84 209.80 L1180.27 213.65 L1180.71 217.39 L1181.15 221.04 L1181.59 224.58 L1182.03 228.01 L1182.47 231.33 L1182.91 234.52 L1183.34 237.59 L1183.78 240.53 L1184.22 243.34 L1184.66 246.01 L1185.10 248.54 L1185.54 250.92 L1185.98 253.15 L1186.42 255.24 L1186.85 257.17 L1187.29 258.94 L1187.73 260.55 L1188.17 262.00 L1188.61 263.28 L1189.05 264.40 L1189.49 265.35 L1189.92 266.13 L1190.36 266.74 L1190.80 267.18 L1191.24 267.45 L1191.68 267.55 L1192.12 267.47 L1192.56 267.22 L1193.00 266.80 L1193.43 266.21 L1193.87 265.45 L1194.31 264.52 L1194.75 263.42 L1195.19 262.15 L1195.63 260.72 L1196.07 259.13 L1196.50 257.38 L1196.94 255.46 L1197.38 253.40 L1197.82 251.18 L1198.26 248.81 L1198.70 246.30 L1199.14 243.64 L1199.58 240.85 L1200.01 237.92 L1200.45 234.86 L1200.89 231.68 L1201.33 228.38 L1201.77 224.96 L1202.21 221.42 L1202.65 217.79 L1203.08 214.05 L1203.52 210.21 L1203.96 206.28 L1204.40 202.27 L1204.84 198.18 L1205.28 194.02 L1205.72 189.79 L1206.15 185.50 L1206.59 181.15 L1207.03 176.76 L1207.47 172.32 L1207.91 167.84 L1208.35 163.34 L1208.79 158.81 L1209.23 154.27 L1209.66 149.72 L1210.10 145.16 L1210.54 140.60 L1210.98 136.06 L1211.42 131.53 L1211.86 127.02 L1212.30 122.54 L1212.73 118.09 L1213.17 113.69 L1213.61 109.34 L1214.05 105.04 L1214.49 100.80 L1214.93 96.62 L1215.37 92.52 L1215.81 88.49 L1216.24 84.55 L1216.68 80.70 L1217.12 76.95 L1217.56 73.29 L1218.00 69.74 L1218.44 66.31 L1218.88 62.98 L1219.31 59.78 L1219.75 56.70 L1220.19 53.75 L1220.63 50.94 L1221.07 48.26 L1221.51 45.73 L1221.95 43.34 L1222.39 41.10 L1222.82 39.01 L1223.26 37.07 L1223.70 35.30 L1224.14 33.68 L1224.58 32.23 L1225.02 30.94 L1225.46 29.81 L1225.89 28.86 L1226.33 28.07 L1226.77 27.46 L1227.21 27.01 L1227.65 26.74 L1228.09 26.64 L1228.53 26.71 L1228.97 26.96 L1229.40 27.38 L1229.84 27.97 L1230.28 28.73 L1230.72 29.66 L1231.16 30.76 L1231.60 32.02 L1232.04 33.45 L1232.47 35.04 L1232.91 36.80 L1233.35 38.71 L1233.79 40.78 L1234.23 43.00 L1234.67 45.37 L1235.11 47.88 L1235.55 50.54 L1235.98 53.33 L1236.42 56.26 L1236.86 59.33 L1237.30 62.51 L1237.74 65.82 L1238.18 69.24 L1238.62 72.78 L1239.05 76.42 L1239.49 80.17 L1239.93 84.01 L1240.37 87.94 L1240.81 91.96 L1241.25 96.05 L1241.69 100.22 L1242.13 104.46 L1242.56 108.76 L1243.00 113.11 L1243.44 117.51 L1243.88 121.96 L1244.32 126.44 L1244.76 130.95 L1245.20 135.49 L1245.63 140.04 L1246.07 144.60 L1246.51 149.16 L1246.95 153.73 L1247.39 158.28 L1247.83 162.82 L1248.27 167.34 L1248.71 171.83 L1249.14 176.28 L1249.58 180.69 L1250.02 185.05 L1250.46 189.36 L1250.90 193.61 L1251.34 197.79 L1251.78 201.90 L1252.21 205.94 L1252.65 209.89 L1253.09 213.74 L1253.53 217.51 L1253.97 221.17 L1254.41 224.73 L1254.85 228.18 L1255.28 231.51 L1255.72 234.72 L1256.16 237.80 L1256.60 240.76 L1257.04 243.58 L1257.48 246.26 L1257.92 248.81 L1258.36 251.20 L1258.79 253.45 L1259.23 255.55 L1259.67 257.49 L1260.11 259.27 L1260.55 260.89 L1260.99 262.35 L1261.43 263.65 L1261.86 264.78 L1262.30 265.74 L1262.74 266.53 L1263.18 267.15 L1263.62 267.59 L1264.06 267.87 L1264.50 267.97 L1264.94 267.90 L1265.37 267.66 L1265.81 267.24 L1266.25 266.65 L1266.69 265.90 L1267.13 264.97 L1267.57 263.87 L1268.01 262.61 L1268.44 261.18 L1268.88 259.58 L1269.32 257.83 L1269.76 255.92 L1270.20 253.85 L1270.64 251.63 L1271.08 249.26 L1271.52 246.74 L1271.95 244.08 L1272.39 241.28 L1272.83 238.35 L1273.27 235.28 L1273.71 232.09 L1274.15 228.78 L1274.59 225.35 L1275.02 221.81 L1275.46 218.17 L1275.90 214.42 L1276.34 210.57 L1276.78 206.63 L1277.22 202.61 L1277.66 198.51 L1278.10 194.33 L1278.53 190.09 L1278.97 185.79 L1279.41 181.43 L1279.85 177.02 L1280.29 172.57 L1280.73 168.08 L1281.17 163.56 L1281.60 159.02 L1282.04 154.46 L1282.48 149.89 L1282.92 145.31 L1283.36 140.74 L1283.80 136.18 L1284.24 131.63 L1284.68 127.11 L1285.11 122.61 L1285.55 118.15 L1285.99 113.73 L1286.43 109.36 L1286.87 105.04 L1287.31 100.78 L1287.75 96.59 L1288.18 92.47 L1288.62 88.43 L1289.06 84.47 L1289.50 80.61 L1289.94 76.83 L1290.38 73.16 L1290.82 69.60 L1291.26 66.14 L1291.69 62.80 L1292.13 59.59 L1292.57 56.49 L1293.01 53.53 L1293.45 50.70 L1293.89 48.01 L1294.33 45.46 L1294.76 43.06 L1295.20 40.80 L1295.64 38.70 L1296.08 36.75 L1296.52 34.96 L1296.96 33.34 L1297.40 31.87 L1297.84 30.57 L1298.27 29.44 L1298.71 28.47 L1299.15 27.68 L1299.59 27.05 L1300.03 26.60 L1300.47 26.32 L1300.91 26.22 L1301.34 26.28 L1301.78 26.53 L1302.22 26.94 L1302.66 27.52 L1303.10 28.28 L1303.54 29.21 L1303.98 30.30 L1304.41 31.57 L1304.85 33.00 L1305.29 34.59 L1305.73 36.34 L1306.17 38.26 L1306.61 40.33 L1307.05 42.55 L1307.49 44.92 L1307.92 47.44 L1308.36 50.10 L1308.80 52.90 L1309.24 55.84 L1309.68 58.90 L1310.12 62.10 L1310.56 65.41 L1310.99 68.85 L1311.43 72.39 L1311.87 76.04 L1312.31 79.80 L1312.75 83.65 L1313.19 87.59 L1313.63 91.62 L1314.07 95.73 L1314.50 99.91 L1314.94 104.16 L1315.38 108.47 L1315.82 112.83 L1316.26 117.25 L1316.70 121.71 L1317.14 126.21 L1317.57 130.73 L1318.01 135.28 L1318.45 139.85 L1318.89 144.43 L1319.33 149.01 L1319.77 153.59 L1320.21 158.16 L1320.65 162.71 L1321.08 167.25 L1321.52 171.75 L1321.96 176.22 L1322.40 180.65 L1322.84 185.03 L1323.28 189.36 L1323.72 193.62 L1324.15 197.82 L1324.59 201.95 L1325.03 206.00 L1325.47 209.97 L1325.91 213.84 L1326.35 217.62 L1326.79 221.30 L1327.23 224.88 L1327.66 228.34 L1328.10 231.69 L1328.54 234.91 L1328.98 238.01 L1329.42 240.98 L1329.86 243.82 L1330.30 246.52 L1330.73 249.07 L1331.17 251.48 L1331.61 253.74 L1332.05 255.85 L1332.49 257.81 L1332.93 259.60 L1333.37 261.24 L1333.81 262.71 L1334.24 264.01 L1334.68 265.15 L1335.12 266.12 L1335.56 266.92 L1336.00 267.55 L1336.44 268.00 L1336.88 268.28 L1337.31 268.39 L1337.75 268.33 L1338.19 268.09 L1338.63 267.68 L1339.07 267.10 L1339.51 266.34 L1339.95 265.42 L1340.39 264.32 L1340.82 263.06 L1341.26 261.63 L1341.70 260.04 L1342.14 258.28 L1342.58 256.37 L1343.02 254.30 L1343.46 252.08 L1343.89 249.70 L1344.33 247.18 L1344.77 244.52 L1345.21 241.71 L1345.65 238.78 L1346.09 235.71 L1346.53 232.51 L1346.97 229.19 L1347.40 225.75 L1347.84 222.20 L1348.28 218.55 L1348.72 214.79 L1349.16 210.93 L1349.60 206.98 L1350.04 202.95 L1350.47 198.84 L1350.91 194.65 L1351.35 190.40 L1351.79 186.08 L1352.23 181.70 L1352.67 177.28 L1353.11 172.82 L1353.55 168.31 L1353.98 163.78 L1354.42 159.22 L1354.86 154.65 L1355.30 150.06 L1355.74 145.47 L1356.18 140.88 L1356.62 136.30 L1357.05 131.74 L1357.49 127.20 L1357.93 122.69 L1358.37 118.21 L1358.81 113.77 L1359.25 109.38 L1359.69 105.05 L1360.12 100.77 L1360.56 96.56 L1361.00 92.43 L1361.44 88.37 L1361.88 84.39 L1362.32 80.51 L1362.76 76.72 L1363.20 73.03 L1363.63 69.45 L1364.07 65.98 L1364.51 62.63 L1364.95 59.39 L1365.39 56.28 L1365.83 53.31 L1366.27 50.46 L1366.70 47.76 L1367.14 45.19 L1367.58 42.78 L1368.02 40.51 L1368.46 38.39 L1368.90 36.43 L1369.34 34.63 L1369.78 32.99 L1370.21 31.52 L1370.65 30.21 L1371.09 29.06 L1371.53 28.09 L1371.97 27.28 L1372.41 26.65 L1372.85 26.19 L1373.28 25.91 L1373.72 25.79 L1374.16 25.86 L1374.60 26.09 L1375.04 26.50 L1375.48 27.08 L1375.92 27.83 L1376.36 28.76 L1376.79 29.85 L1377.23 31.12 L1377.67 32.54 L1378.11 34.14 L1378.55 35.89 L1378.99 37.80 L1379.43 39.88 L1379.86 42.10 L1380.30 44.48 L1380.74 47.00 L1381.18 49.66 L1381.62 52.47 L1382.06 55.41 L1382.50 58.48 L1382.94 61.68 L1383.37 65.01 L1383.81 68.45 L1384.25 72.00 L1384.69 75.66 L1385.13 79.43 L1385.57 83.29 L1386.01 87.24 L1386.44 91.28 L1386.88 95.40 L1387.32 99.59 L1387.76 103.85 L1388.20 108.18 L1388.64 112.56 L1389.08 116.99 L1389.52 121.46 L1389.95 125.97 L1390.39 130.51 L1390.83 135.08 L1391.27 139.66 L1391.71 144.25 L1392.15 148.85 L1392.59 153.45 L1393.02 158.03 L1393.46 162.60 L1393.90 167.15 L1394.34 171.68 L1394.78 176.16 L1395.22 180.61 L1395.66 185.01 L1396.10 189.35 L1396.53 193.63 L1396.97 197.85 L1397.41 202.00 L1397.85 206.06 L1398.29 210.04 L1398.73 213.94 L1399.17 217.73 L1399.60 221.43 L1400.04 225.02 L1400.48 228.50 L1400.92 231.86 L1401.36 235.10 L1401.80 238.22 L1402.24 241.21 L1402.67 244.06 L1403.11 246.77 L1403.55 249.34 L1403.99 251.76 L1404.43 254.04 L1404.87 256.16 L1405.31 258.13 L1405.75 259.93 L1406.18 261.58 L1406.62 263.06 L1407.06 264.38 L1407.50 265.52 L1407.94 266.50 L1408.38 267.31 L1408.82 267.95 L1409.25 268.41 L1409.69 268.70 L1410.13 268.82 L1410.57 268.76 L1411.01 268.53 L1411.45 268.12 L1411.89 267.54 L1412.33 266.79 L1412.76 265.87 L1413.20 264.77 L1413.64 263.51 L1414.08 262.08 L1414.52 260.49 L1414.96 258.74 L1415.40 256.82 L1415.83 254.75 L1416.27 252.52 L1416.71 250.15 L1417.15 247.62 L1417.59 244.96 L1418.03 242.15 L1418.47 239.20 L1418.91 236.13 L1419.34 232.92 L1419.78 229.60 L1420.22 226.15 L1420.66 222.60 L1421.10 218.93 L1421.54 215.16 L1421.98 211.29 L1422.41 207.34 L1422.85 203.29 L1423.29 199.17 L1423.73 194.97 L1424.17 190.70 L1424.61 186.37 L1425.05 181.98 L1425.49 177.55 L1425.92 173.07 L1426.36 168.55 L1426.80 164.00 L1427.24 159.43 L1427.68 154.84 L1428.12 150.24 L1428.56 145.63 L1428.99 141.03 L1429.43 136.43 L1429.87 131.85 L1430.31 127.29 L1430.75 122.76 L1431.19 118.27 L1431.63 113.81 L1432.07 109.41 L1432.50 105.05 L1432.94 100.76 L1433.38 96.54 L1433.82 92.38 L1434.26 88.31 L1434.70 84.32 L1435.14 80.42 L1435.57 76.61 L1436.01 72.91 L1436.45 69.31 L1436.89 65.82 L1437.33 62.45 L1437.77 59.20" stroke="#ff0000" stroke-width="7.6"/>
<path d="M121.79 243.40 L122.22 243.58 L122.66 243.63 L123.10 243.54 L123.54 243.32 L123.98 242.95 L124.42 242.46 L124.86 241.82 L125.30 241.05 L125.73 240.15 L126.17 239.12 L126.61 237.95 L127.05 236.66 L127.49 235.24 L127.93 233.69 L128.37 232.03 L128.80 230.24 L129.24 228.33 L129.68 226.31 L130.12 224.17 L130.56 221.93 L131.00 219.58 L131.44 217.13 L131.87 214.57 L132.31 211.93 L132.75 209.19 L133.19 206.36 L133.63 203.44 L134.07 200.45 L134.51 197.38 L134.95 194.25 L135.38 191.04 L135.82 187.77 L136.26 184.44 L136.70 181.07 L137.14 177.64 L137.58 174.17 L138.02 170.66 L138.45 167.12 L138.89 163.55 L139.33 159.95 L139.77 156.34 L140.21 152.72 L140.65 149.08 L141.09 145.45 L141.53 141.82 L141.96 138.19 L142.40 134.58 L142.84 130.99 L143.28 127.41 L143.72 123.87 L144.16 120.36 L144.60 116.89 L145.03 113.46 L145.47 110.08 L145.91 106.75 L146.35 103.48 L146.79 100.27 L147.23 97.13 L147.67 94.06 L148.11 91.06 L148.54 88.15 L148.98 85.32 L149.42 82.57 L149.86 79.92 L150.30 77.37 L150.74 74.91 L151.18 72.56 L151.61 70.31 L152.05 68.17 L152.49 66.14 L152.93 64.23 L153.37 62.44 L153.81 60.76 L154.25 59.21 L154.69 57.79 L155.12 56.49 L155.56 55.32 L156.00 54.28 L156.44 53.38 L156.88 52.60 L157.32 51.97 L157.76 51.46 L158.19 51.10 L158.63 50.86 L159.07 50.77 L159.51 50.81 L159.95 50.99 L160.39 51.31 L160.83 51.76 L161.27 52.35 L161.70 53.08 L162.14 53.93 L162.58 54.92 L163.02 56.04 L163.46 57.29 L163.90 58.67 L164.34 60.18 L164.77 61.80 L165.21 63.55 L165.65 65.42 L166.09 67.41 L166.53 69.50 L166.97 71.71 L167.41 74.03 L167.85 76.44 L168.28 78.96 L168.72 81.58 L169.16 84.29 L169.60 87.09 L170.04 89.98 L170.48 92.94 L170.92 95.98 L171.35 99.10 L171.79 102.28 L172.23 105.53 L172.67 108.84 L173.11 112.20 L173.55 115.61 L173.99 119.07 L174.43 122.57 L174.86 126.10 L175.30 129.66 L175.74 133.25 L176.18 136.85 L176.62 140.47 L177.06 144.10 L177.50 147.74 L177.93 151.37 L178.37 155.00 L178.81 158.62 L179.25 162.22 L179.69 165.80 L180.13 169.35 L180.57 172.87 L181.00 176.36 L181.44 179.80 L181.88 183.20 L182.32 186.55 L182.76 189.84 L183.20 193.07 L183.64 196.23 L184.08 199.32 L184.51 202.35 L184.95 205.29 L185.39 208.15 L185.83 210.92 L186.27 213.60 L186.71 216.19 L187.15 218.68 L187.58 221.07 L188.02 223.35 L188.46 225.53 L188.90 227.59 L189.34 229.54 L189.78 231.38 L190.22 233.09 L190.66 234.68 L191.09 236.15 L191.53 237.49 L191.97 238.70 L192.41 239.78 L192.85 240.73 L193.29 241.55 L193.73 242.24 L194.16 242.78 L194.60 243.20 L195.04 243.47 L195.48 243.61 L195.92 243.62 L196.36 243.48 L196.80 243.21 L197.24 242.80 L197.67 242.26 L198.11 241.58 L198.55 240.77 L198.99 239.82 L199.43 238.74 L199.87 237.54 L200.31 236.20 L200.74 234.74 L201.18 233.15 L201.62 231.44 L202.06 229.61 L202.50 227.67 L202.94 225.61 L203.38 223.44 L203.82 221.16 L204.25 218.77 L204.69 216.29 L205.13 213.70 L205.57 211.02 L206.01 208.25 L206.45 205.40 L206.89 202.46 L207.32 199.44 L207.76 196.35 L208.20 193.18 L208.64 189.96 L209.08 186.67 L209.52 183.32 L209.96 179.93 L210.40 176.49 L210.83 173.00 L211.27 169.48 L211.71 165.93 L212.15 162.35 L212.59 158.75 L213.03 155.14 L213.47 151.51 L213.90 147.87 L214.34 144.24 L214.78 140.61 L215.22 136.99 L215.66 133.38 L216.10 129.79 L216.54 126.23 L216.98 122.70 L217.41 119.20 L217.85 115.74 L218.29 112.33 L218.73 108.96 L219.17 105.65 L219.61 102.40 L220.05 99.22 L220.48 96.10 L220.92 93.05 L221.36 90.08 L221.80 87.20 L222.24 84.39 L222.68 81.68 L223.12 79.06 L223.55 76.54 L223.99 74.11 L224.43 71.79 L224.87 69.58 L225.31 67.48 L225.75 65.49 L226.19 63.62 L226.63 61.87 L227.06 60.23 L227.50 58.73 L227.94 57.34 L228.38 56.09 L228.82 54.96 L229.26 53.97 L229.70 53.11 L230.13 52.38 L230.57 51.78 L231.01 51.32 L231.45 51.00 L231.89 50.82 L232.33 50.77 L232.77 50.86 L233.21 51.08 L233.64 51.45 L234.08 51.94 L234.52 52.58 L234.96 53.35 L235.40 54.25 L235.84 55.28 L236.28 56.45 L236.71 57.74 L237.15 59.16 L237.59 60.71 L238.03 62.37 L238.47 64.16 L238.91 66.07 L239.35 68.09 L239.79 70.23 L240.22 72.47 L240.66 74.82 L241.10 77.27 L241.54 79.83 L241.98 82.47 L242.42 85.21 L242.86 88.04 L243.29 90.96 L243.73 93.95 L244.17 97.02 L244.61 100.15 L245.05 103.36 L245.49 106.63 L245.93 109.96 L246.37 113.33 L246.80 116.76 L247.24 120.23 L247.68 123.74 L248.12 127.28 L248.56 130.85 L249.00 134.45 L249.44 138.06 L249.87 141.68 L250.31 145.32 L250.75 148.95 L251.19 152.58 L251.63 156.21 L252.07 159.82 L252.51 163.41 L252.95 166.99 L253.38 170.53 L253.82 174.04 L254.26 177.51 L254.70 180.94 L255.14 184.32 L255.58 187.65 L256.02 190.92 L256.45 194.13 L256.89 197.27 L257.33 200.34 L257.77 203.34 L258.21 206.25 L258.65 209.08 L259.09 211.83 L259.53 214.48 L259.96 217.03 L260.40 219.49 L260.84 221.84 L261.28 224.09 L261.72 226.23 L262.16 228.26 L262.60 230.17 L263.03 231.96 L263.47 233.64 L263.91 235.19 L264.35 236.61 L264.79 237.91 L265.23 239.08 L265.67 240.12 L266.11 241.02 L266.54 241.80 L266.98 242.43 L267.42 242.94 L267.86 243.30 L268.30 243.54 L268.74 243.63 L269.18 243.59 L269.61 243.41 L270.05 243.09 L270.49 242.64 L270.93 242.05 L271.37 241.32 L271.81 240.47 L272.25 239.48 L272.68 238.36 L273.12 237.11 L273.56 235.73 L274.00 234.22 L274.44 232.60 L274.88 230.85 L275.32 228.98 L275.76 226.99 L276.19 224.90 L276.63 222.69 L277.07 220.37 L277.51 217.96 L277.95 215.44 L278.39 212.82 L278.83 210.11 L279.26 207.31 L279.70 204.42 L280.14 201.46 L280.58 198.42 L281.02 195.30 L281.46 192.12 L281.90 188.87 L282.34 185.56 L282.77 182.20 L283.21 178.79 L283.65 175.33 L284.09 171.83 L284.53 168.30 L284.97 164.74 L285.41 161.15 L285.84 157.55 L286.28 153.93 L286.72 150.30 L287.16 146.66 L287.60 143.03 L288.04 139.40 L288.48 135.78 L288.92 132.18 L289.35 128.60 L289.79 125.05 L290.23 121.53 L290.67 118.04 L291.11 114.60 L291.55 111.20 L291.99 107.85 L292.42 104.56 L292.86 101.33 L293.30 98.17 L293.74 95.08 L294.18 92.05 L294.62 89.11 L295.06 86.25 L295.50 83.48 L295.93 80.80 L296.37 78.21 L296.81 75.72 L297.25 73.33 L297.69 71.05 L298.13 68.87 L298.57 66.81 L299.00 64.86 L299.44 63.02 L299.88 61.31 L300.32 59.72 L300.76 58.25 L301.20 56.91 L301.64 55.70 L302.08 54.62 L302.51 53.67 L302.95 52.85 L303.39 52.16 L303.83 51.62 L304.27 51.20 L304.71 50.93 L305.15 50.79 L305.58 50.78 L306.02 50.92 L306.46 51.19 L306.90 51.60 L307.34 52.14 L307.78 52.82 L308.22 53.63 L308.66 54.58 L309.09 55.66 L309.53 56.86 L309.97 58.20 L310.41 59.66 L310.85 61.25 L311.29 62.96 L311.73 64.79 L312.16 66.73 L312.60 68.79 L313.04 70.96 L313.48 73.24 L313.92 75.63 L314.36 78.11 L314.80 80.70 L315.24 83.38 L315.67 86.15 L316.11 89.00 L316.55 91.94 L316.99 94.96 L317.43 98.05 L317.87 101.22 L318.31 104.44 L318.74 107.73 L319.18 111.08 L319.62 114.47 L320.06 117.91 L320.50 121.40 L320.94 124.92 L321.38 128.47 L321.81 132.05 L322.25 135.65 L322.69 139.26 L323.13 142.89 L323.57 146.53 L324.01 150.16 L324.45 153.79 L324.89 157.41 L325.32 161.02 L325.76 164.61 L326.20 168.17 L326.64 171.70 L327.08 175.20 L327.52 178.66 L327.96 182.07 L328.39 185.44 L328.83 188.75 L329.27 192.00 L329.71 195.18 L330.15 198.30 L330.59 201.35 L331.03 204.32 L331.47 207.20 L331.90 210.01 L332.34 212.72 L332.78 215.34 L333.22 217.86 L333.66 220.29 L334.10 222.61 L334.54 224.82 L334.97 226.92 L335.41 228.91 L335.85 230.78 L336.29 232.53 L336.73 234.17 L337.17 235.67 L337.61 237.06 L338.05 238.31 L338.48 239.44 L338.92 240.43 L339.36 241.29 L339.80 242.02 L340.24 242.62 L340.68 243.08 L341.12 243.40 L341.55 243.58 L341.99 243.63 L342.43 243.54 L342.87 243.32 L343.31 242.95 L343.75 242.46 L344.19 241.82 L344.63 241.05 L345.06 240.15 L345.50 239.12 L345.94 237.95 L346.38 236.66 L346.82 235.24 L347.26 233.69 L347.70 232.03 L348.13 230.24 L348.57 228.33 L349.01 226.31 L349.45 224.17 L349.89 221.93 L350.33 219.58 L350.77 217.13 L351.21 214.57 L351.64 211.93 L352.08 209.19 L352.52 206.36 L352.96 203.44 L353.40 200.45 L353.84 197.38 L354.28 194.25 L354.71 191.04 L355.15 187.77 L355.59 184.44 L356.03 181.07 L356.47 177.64 L356.91 174.17 L357.35 170.66 L357.79 167.12 L358.22 163.55 L358.66 159.95 L359.10 156.34 L359.54 152.72 L359.98 149.08 L360.42 145.45 L360.86 141.82 L361.29 138.19 L361.73 134.58 L362.17 130.99 L362.61 127.41 L363.05 123.87 L363.49 120.36 L363.93 116.89 L364.37 113.46 L364.80 110.08 L365.24 106.75 L365.68 103.48 L366.12 100.27 L366.56 97.13 L367.00 94.06 L367.44 91.06 L367.87 88.15 L368.31 85.32 L368.75 82.57 L369.19 79.92 L369.63 77.37 L370.07 74.91 L370.51 72.56 L370.95 70.31 L371.38 68.17 L371.82 66.14 L372.26 64.23 L372.70 62.44 L373.14 60.76 L373.58 59.21 L374.02 57.79 L374.45 56.49 L374.89 55.32 L375.33 54.28 L375.77 53.38 L376.21 52.60 L376.65 51.97 L377.09 51.46 L377.52 51.10 L377.96 50.86 L378.40 50.77 L378.84 50.81 L379.28 50.99 L379.72 51.31 L380.16 51.76 L380.60 52.35 L381.03 53.08 L381.47 53.93 L381.91 54.92 L382.35 56.04 L382.79 57.29 L383.23 58.67 L383.67 60.18 L384.10 61.80 L384.54 63.55 L384.98 65.42 L385.42 67.41 L385.86 69.50 L386.30 71.71 L386.74 74.03 L387.18 76.44 L387.61 78.96 L388.05 81.58 L388.49 84.29 L388.93 87.09 L389.37 89.98 L389.81 92.94 L390.25 95.98 L390.68 99.10 L391.12 102.28 L391.56 105.53 L392.00 108.84 L392.44 112.20 L392.88 115.61 L393.32 119.07 L393.76 122.57 L394.19 126.10 L394.63 129.66 L395.07 133.25 L395.51 136.85 L395.95 140.47 L396.39 144.10 L396.83 147.74 L397.26 151.37 L397.70 155.00 L398.14 158.62 L398.58 162.22 L399.02 165.80 L399.46 169.35 L399.90 172.87 L400.34 176.36 L400.77 179.80 L401.21 183.20 L401.65 186.55 L402.09 189.84 L402.53 193.07 L402.97 196.23 L403.41 199.32 L403.84 202.35 L404.28 205.29 L404.72 208.15 L405.16 210.92 L405.60 213.60 L406.04 216.19 L406.48 218.68 L406.92 221.07 L407.35 223.35 L407.79 225.53 L408.23 227.59 L408.67 229.54 L409.11 231.38 L409.55 233.09 L409.99 234.68 L410.42 236.15 L410.86 237.49 L411.30 238.70 L411.74 239.78 L412.18 240.73 L412.62 241.55 L413.06 242.24 L413.50 242.78 L413.93 243.20 L414.37 243.47 L414.81 243.61 L415.25 243.62 L415.69 243.48 L416.13 243.21 L416.57 242.80 L417.00 242.26 L417.44 241.58 L417.88 240.77 L418.32 239.82 L418.76 238.74 L419.20 237.54 L419.64 236.20 L420.07 234.74 L420.51 233.15 L420.95 231.44 L421.39 229.61 L421.83 227.67 L422.27 225.61 L422.71 223.44 L423.15 221.16 L423.58 218.77 L424.02 216.29 L424.46 213.70 L424.90 211.02 L425.34 208.25 L425.78 205.40 L426.22 202.46 L426.65 199.44 L427.09 196.35 L427.53 193.18 L427.97 189.96 L428.41 186.67 L428.85 183.32 L429.29 179.93 L429.73 176.49 L430.16 173.00 L430.60 169.48 L431.04 165.93 L431.48 162.35 L431.92 158.75 L432.36 155.14 L432.80 151.51 L433.23 147.87 L433.67 144.24 L434.11 140.61 L434.55 136.99 L434.99 133.38 L435.43 129.79 L435.87 126.23 L436.31 122.70 L436.74 119.20 L437.18 115.74 L437.62 112.33 L438.06 108.96 L438.50 105.65 L438.94 102.40 L439.38 99.22 L439.81 96.10 L440.25 93.05 L440.69 90.08 L441.13 87.20 L441.57 84.39 L442.01 81.68 L442.45 79.06 L442.89 76.54 L443.32 74.11 L443.76 71.79 L444.20 69.58 L444.64 67.48 L445.08 65.49 L445.52 63.62 L445.96 61.87 L446.39 60.23 L446.83 58.73 L447.27 57.34 L447.71 56.09 L448.15 54.96 L448.59 53.97 L449.03 53.11 L449.47 52.38 L449.90 51.78 L450.34 51.32 L450.78 51.00 L451.22 50.82 L451.66 50.77 L452.10 50.86 L452.54 51.08 L452.97 51.45 L453.41 51.94 L453.85 52.58 L454.29 53.35 L454.73 54.25 L455.17 55.28 L455.61 56.45 L456.05 57.74 L456.48 59.16 L456.92 60.71 L457.36 62.37 L457.80 64.16 L458.24 66.07 L458.68 68.09 L459.12 70.23 L459.55 72.47 L459.99 74.82 L460.43 77.27 L460.87 79.83 L461.31 82.47 L461.75 85.21 L462.19 88.04 L462.63 90.96 L463.06 93.95 L463.50 97.02 L463.94 100.15 L464.38 103.36 L464.82 106.63 L465.26 109.96 L465.70 113.33 L466.13 116.76 L466.57 120.23 L467.01 123.74 L467.45 127.28 L467.89 130.85 L468.33 134.45 L468.77 138.06 L469.20 141.68 L469.64 145.32 L470.08 148.95 L470.52 152.58 L470.96 156.21 L471.40 159.82 L471.84 163.41 L472.28 166.99 L472.71 170.53 L473.15 174.04 L473.59 177.51 L474.03 180.94 L474.47 184.32 L474.91 187.65 L475.35 190.92 L475.78 194.13 L476.22 197.27 L476.66 200.34 L477.10 203.34 L477.54 206.25 L477.98 209.08 L478.42 211.83 L478.86 214.48 L479.29 217.03 L479.73 219.49 L480.17 221.84 L480.61 224.09 L481.05 226.23 L481.49 228.26 L481.93 230.17 L482.36 231.96 L482.80 233.64 L483.24 235.19 L483.68 236.61 L484.12 237.91 L484.56 239.08 L485.00 240.12 L485.44 241.02 L485.87 241.80 L486.31 242.43 L486.75 242.94 L487.19 243.30 L487.63 243.54 L488.07 243.63 L488.51 243.59 L488.94 243.41 L489.38 243.09 L489.82 242.64 L490.26 242.05 L490.70 241.32 L491.14 240.47 L491.58 239.48 L492.02 238.36 L492.45 237.11 L492.89 235.73 L493.33 234.22 L493.77 232.60 L494.21 230.85 L494.65 228.98 L495.09 226.99 L495.52 224.90 L495.96 222.69 L496.40 220.37 L496.84 217.96 L497.28 215.44 L497.72 212.82 L498.16 210.11 L498.60 207.31 L499.03 204.42 L499.47 201.46 L499.91 198.42 L500.35 195.30 L500.79 192.12 L501.23 188.87 L501.67 185.56 L502.10 182.20 L502.54 178.79 L502.98 175.33 L503.42 171.83 L503.86 168.30 L504.30 164.74 L504.74 161.15 L505.18 157.55 L505.61 153.93 L506.05 150.30 L506.49 146.66 L506.93 143.03 L507.37 139.40 L507.81 135.78 L508.25 132.18 L508.68 128.60 L509.12 125.05 L509.56 121.53 L510.00 118.04 L510.44 114.60 L510.88 111.20 L511.32 107.85 L511.76 104.56 L512.19 101.33 L512.63 98.17 L513.07 95.08 L513.51 92.05 L513.95 89.11 L514.39 86.25 L514.83 83.48 L515.26 80.80 L515.70 78.21 L516.14 75.72 L516.58 73.33 L517.02 71.05 L517.46 68.87 L517.90 66.81 L518.33 64.86 L518.77 63.02 L519.21 61.31 L519.65 59.72 L520.09 58.25 L520.53 56.91 L520.97 55.70 L521.41 54.62 L521.84 53.67 L522.28 52.85 L522.72 52.16 L523.16 51.62 L523.60 51.20 L524.04 50.93 L524.48 50.79 L524.91 50.78 L525.35 50.92 L525.79 51.19 L526.23 51.60 L526.67 52.14 L527.11 52.82 L527.55 53.63 L527.99 54.58 L528.42 55.66 L528.86 56.86 L529.30 58.20 L529.74 59.66 L530.18 61.25 L530.62 62.96 L531.06 64.79 L531.49 66.73 L531.93 68.79 L532.37 70.96 L532.81 73.24 L533.25 75.63 L533.69 78.11 L534.13 80.70 L534.57 83.38 L535.00 86.15 L535.44 89.00 L535.88 91.94 L536.32 94.96 L536.76 98.05 L537.20 101.22 L537.64 104.44 L538.07 107.73 L538.51 111.08 L538.95 114.47 L539.39 117.91 L539.83 121.40 L540.27 124.92 L540.71 128.47 L541.15 132.05 L541.58 135.65 L542.02 139.26 L542.46 142.89 L542.90 146.53 L543.34 150.16 L543.78 153.79 L544.22 157.41 L544.65 161.02 L545.09 164.61 L545.53 168.17 L545.97 171.70 L546.41 175.20 L546.85 178.66 L547.29 182.07 L547.73 185.44 L548.16 188.75 L548.60 192.00 L549.04 195.18 L549.48 198.30 L549.92 201.35 L550.36 204.32 L550.80 207.20 L551.23 210.01 L551.67 212.72 L552.11 215.34 L552.55 217.86 L552.99 220.29 L553.43 222.61 L553.87 224.82 L554.31 226.92 L554.74 228.91 L555.18 230.78 L555.62 232.53 L556.06 234.17 L556.50 235.67 L556.94 237.06 L557.38 238.31 L557.81 239.44 L558.25 240.43 L558.69 241.29 L559.13 242.02 L559.57 242.62 L560.01 243.08 L560.45 243.40 L560.89 243.58 L561.32 243.63 L561.76 243.54 L562.20 243.32 L562.64 242.95 L563.08 242.46 L563.52 241.82 L563.96 241.05 L564.39 240.15 L564.83 239.12 L565.27 237.95 L565.71 236.66 L566.15 235.24 L566.59 233.69 L567.03 232.03 L567.47 230.24 L567.90 228.33 L568.34 226.31 L568.78 224.17 L569.22 221.93 L569.66 219.58 L570.10 217.13 L570.54 214.57 L570.97 211.93 L571.41 209.19 L571.85 206.36 L572.29 203.44 L572.73 200.45 L573.17 197.38 L573.61 194.25 L574.04 191.04 L574.48 187.77 L574.92 184.44 L575.36 181.07 L575.80 177.64 L576.24 174.17 L576.68 170.66 L577.12 167.12 L577.55 163.55 L577.99 159.95 L578.43 156.34 L578.87 152.72 L579.31 149.08 L579.75 145.45 L580.19 141.82 L580.62 138.19 L581.06 134.58 L581.50 130.99 L581.94 127.41 L582.38 123.87 L582.82 120.36 L583.26 116.89 L583.70 113.46 L584.13 110.08 L584.57 106.75 L585.01 103.48 L585.45 100.27 L585.89 97.13 L586.33 94.06 L586.77 91.06 L587.20 88.15 L587.64 85.32 L588.08 82.57 L588.52 79.92 L588.96 77.37 L589.40 74.91 L589.84 72.56 L590.28 70.31 L590.71 68.17 L591.15 66.14 L591.59 64.23 L592.03 62.44 L592.47 60.76 L592.91 59.21 L593.35 57.79 L593.78 56.49 L594.22 55.32 L594.66 54.28 L595.10 53.38 L595.54 52.60 L595.98 51.97 L596.42 51.46 L596.86 51.10 L597.29 50.86 L597.73 50.77 L598.17 50.81 L598.61 50.99 L599.05 51.31 L599.49 51.76 L599.93 52.35 L600.36 53.08 L600.80 53.93 L601.24 54.92 L601.68 56.04 L602.12 57.29 L602.56 58.67 L603.00 60.18 L603.44 61.80 L603.87 63.55 L604.31 65.42 L604.75 67.41 L605.19 69.50 L605.63 71.71 L606.07 74.03 L606.51 76.44 L606.94 78.96 L607.38 81.58 L607.82 84.29 L608.26 87.09 L608.70 89.98 L609.14 92.94 L609.58 95.98 L610.02 99.10 L610.45 102.28 L610.89 105.53 L611.33 108.84 L611.77 112.20 L612.21 115.61 L612.65 119.07 L613.09 122.57 L613.52 126.10 L613.96 129.66 L614.40 133.25 L614.84 136.85 L615.28 140.47 L615.72 144.10 L616.16 147.74 L616.59 151.37 L617.03 155.00 L617.47 158.62 L617.91 162.22 L618.35 165.80 L618.79 169.35 L619.23 172.87 L619.67 176.36 L620.10 179.80 L620.54 183.20 L620.98 186.55 L621.42 189.84 L621.86 193.07 L622.30 196.23 L622.74 199.32 L623.17 202.35 L623.61 205.29 L624.05 208.15 L624.49 210.92 L624.93 213.60 L625.37 216.19 L625.81 218.68 L626.25 221.07 L626.68 223.35 L627.12 225.53 L627.56 227.59 L628.00 229.54 L628.44 231.38 L628.88 233.09 L629.32 234.68 L629.75 236.15 L630.19 237.49 L630.63 238.70 L631.07 239.78 L631.51 240.73 L631.95 241.55 L632.39 242.24 L632.83 242.78 L633.26 243.20 L633.70 243.47 L634.14 243.61 L634.58 243.62 L635.02 243.48 L635.46 243.21 L635.90 242.80 L636.33 242.26 L636.77 241.58 L637.21 240.77 L637.65 239.82 L638.09 238.74 L638.53 237.54 L638.97 236.20 L639.41 234.74 L639.84 233.15 L640.28 231.44 L640.72 229.61 L641.16 227.67 L641.60 225.61 L642.04 223.44 L642.48 221.16 L642.91 218.77 L643.35 216.29 L643.79 213.70 L644.23 211.02 L644.67 208.25 L645.11 205.40 L645.55 202.46 L645.99 199.44 L646.42 196.35 L646.86 193.18 L647.30 189.96 L647.74 186.67 L648.18 183.32 L648.62 179.93 L649.06 176.49 L649.49 173.00 L649.93 169.48 L650.37 165.93 L650.81 162.35 L651.25 158.75 L651.69 155.14 L652.13 151.51 L652.57 147.87 L653.00 144.24 L653.44 140.61 L653.88 136.99 L654.32 133.38 L654.76 129.79 L655.20 126.23 L655.64 122.70 L656.07 119.20 L656.51 115.74 L656.95 112.33 L657.39 108.96 L657.83 105.65 L658.27 102.40 L658.71 99.22 L659.15 96.10 L659.58 93.05 L660.02 90.08 L660.46 87.20 L660.90 84.39 L661.34 81.68 L661.78 79.06 L662.22 76.54 L662.65 74.11 L663.09 71.79 L663.53 69.58 L663.97 67.48 L664.41 65.49 L664.85 63.62 L665.29 61.87 L665.72 60.23 L666.16 58.73 L666.60 57.34 L667.04 56.09 L667.48 54.96 L667.92 53.97 L668.36 53.11 L668.80 52.38 L669.23 51.78 L669.67 51.32 L670.11 51.00 L670.55 50.82 L670.99 50.77 L671.43 50.86 L671.87 51.08 L672.30 51.45 L672.74 51.94 L673.18 52.58 L673.62 53.35 L674.06 54.25 L674.50 55.28 L674.94 56.45 L675.38 57.74 L675.81 59.16 L676.25 60.71 L676.69 62.37 L677.13 64.16 L677.57 66.07 L678.01 68.09 L678.45 70.23 L678.88 72.47 L679.32 74.82 L679.76 77.27 L680.20 79.83 L680.64 82.47 L681.08 85.21 L681.52 88.04 L681.96 90.96 L682.39 93.95 L682.83 97.02 L683.27 100.15 L683.71 103.36 L684.15 106.63 L684.59 109.96 L685.03 113.33 L685.46 116.76 L685.90 120.23 L686.34 123.74 L686.78 127.28 L687.22 130.85 L687.66 134.45 L688.10 138.06 L688.54 141.68 L688.97 145.32 L689.41 148.95 L689.85 152.58 L690.29 156.21 L690.73 159.82 L691.17 163.41 L691.61 166.99 L692.04 170.53 L692.48 174.04 L692.92 177.51 L693.36 180.94 L693.80 184.32 L694.24 187.65 L694.68 190.92 L695.12 194.13 L695.55 197.27 L695.99 200.34 L696.43 203.34 L696.87 206.25 L697.31 209.08 L697.75 211.83 L698.19 214.48 L698.62 217.03 L699.06 219.49 L699.50 221.84 L699.94 224.09 L700.38 226.23 L700.82 228.26 L701.26 230.17 L701.70 231.96 L702.13 233.64 L702.57 235.19 L703.01 236.61 L703.45 237.91 L703.89 239.08 L704.33 240.12 L704.77 241.02 L705.20 241.80 L705.64 242.43 L706.08 242.94 L706.52 243.30 L706.96 243.54 L707.40 243.63 L707.84 243.59 L708.28 243.41 L708.71 243.09 L709.15 242.64 L709.59 242.05 L710.03 241.32 L710.47 240.47 L710.91 239.48 L711.35 238.36 L711.78 237.11 L712.22 235.73 L712.66 234.22 L713.10 232.60 L713.54 230.85 L713.98 228.98 L714.42 226.99 L714.85 224.90 L715.29 222.69 L715.73 220.37 L716.17 217.96 L716.61 215.44 L717.05 212.82 L717.49 210.11 L717.93 207.31 L718.36 204.42 L718.80 201.46 L719.24 198.42 L719.68 195.30 L720.12 192.12 L720.56 188.87 L721.00 185.56 L721.43 182.20 L721.87 178.79 L722.31 175.33 L722.75 171.83 L723.19 168.30 L723.63 164.74 L724.07 161.15 L724.51 157.55 L724.94 153.93 L725.38 150.30 L725.82 146.66 L726.26 143.03 L726.70 139.40 L727.14 135.78 L727.58 132.18 L728.01 128.60 L728.45 125.05 L728.89 121.53 L729.33 118.04 L729.77 114.60 L730.21 111.20 L730.65 107.85 L731.09 104.56 L731.52 101.33 L731.96 98.17 L732.40 95.08 L732.84 92.05 L733.28 89.11 L733.72 86.25 L734.16 83.48 L734.59 80.80 L735.03 78.21 L735.47 75.72 L735.91 73.33 L736.35 71.05 L736.79 68.87 L737.23 66.81 L737.67 64.86 L738.10 63.02 L738.54 61.31 L738.98 59.72 L739.42 58.25 L739.86 56.91 L740.30 55.70 L740.74 54.62 L741.17 53.67 L741.61 52.85 L742.05 52.16 L742.49 51.62 L742.93 51.20 L743.37 50.93 L743.81 50.79 L744.25 50.78 L744.68 50.92 L745.12 51.19 L745.56 51.60 L746.00 52.14 L746.44 52.82 L746.88 53.63 L747.32 54.58 L747.75 55.66 L748.19 56.86 L748.63 58.20 L749.07 59.66 L749.51 61.25 L749.95 62.96 L750.39 64.79 L750.83 66.73 L751.26 68.79 L751.70 70.96 L752.14 73.24 L752.58 75.63 L753.02 78.11 L753.46 80.70 L753.90 83.38 L754.33 86.15 L754.77 89.00 L755.21 91.94 L755.65 94.96 L756.09 98.05 L756.53 101.22 L756.97 104.44 L757.41 107.73 L757.84 111.08 L758.28 114.47 L758.72 117.91 L759.16 121.40 L759.60 124.92 L760.04 128.47 L760.48 132.05 L760.91 135.65 L761.35 139.26 L761.79 142.89 L762.23 146.53 L762.67 150.16 L763.11 153.79 L763.55 157.41 L763.98 161.02 L764.42 164.61 L764.86 168.17 L765.30 171.70 L765.74 175.20 L766.18 178.66 L766.62 182.07 L767.06 185.44 L767.49 188.75 L767.93 192.00 L768.37 195.18 L768.81 198.30 L769.25 201.35 L769.69 204.32 L770.13 207.20 L770.56 210.01 L771.00 212.72 L771.44 215.34 L771.88 217.86 L772.32 220.29 L772.76 222.61 L773.20 224.82 L773.64 226.92 L774.07 228.91 L774.51 230.78 L774.95 232.53 L775.39 234.17 L775.83 235.67 L776.27 237.06 L776.71 238.31 L777.14 239.44 L777.58 240.43 L778.02 241.29 L778.46 242.02 L778.90 242.62 L779.34 243.08 L779.78 243.40 L780.22 243.58 L780.65 243.63 L781.09 243.54 L781.53 243.32 L781.97 242.95 L782.41 242.46 L782.85 241.82 L783.29 241.05 L783.72 240.15 L784.16 239.12 L784.60 237.95 L785.04 236.66 L785.48 235.24 L785.92 233.69 L786.36 232.03 L786.80 230.24 L787.23 228.33 L787.67 226.31 L788.11 224.17 L788.55 221.93 L788.99 219.58 L789.43 217.13 L789.87 214.57 L790.30 211.93 L790.74 209.19 L791.18 206.36 L791.62 203.44 L792.06 200.45 L792.50 197.38 L792.94 194.25 L793.38 191.04 L793.81 187.77 L794.25 184.44 L794.69 181.07 L795.13 177.64 L795.57 174.17 L796.01 170.66 L796.45 167.12 L796.88 163.55 L797.32 159.95 L797.76 156.34 L798.20 152.72 L798.64 149.08 L799.08 145.45 L799.52 141.82 L799.96 138.19 L800.39 134.58 L800.83 130.99 L800.83 130.99 L800.83 110.64 L801.27 106.42 L801.71 102.26 L802.15 98.16 L802.59 94.13 L803.03 90.18 L803.46 86.30 L803.90 82.52 L804.34 78.82 L804.78 75.23 L805.22 71.74 L805.66 68.35 L806.10 65.08 L806.54 61.93 L806.97 58.89 L807.41 55.99 L807.85 53.21 L808.29 50.57 L808.73 48.07 L809.17 45.71 L809.61 43.49 L810.04 41.42 L810.48 39.51 L810.92 37.74 L811.36 36.14 L811.80 34.69 L812.24 33.41 L812.68 32.28 L813.11 31.33 L813.55 30.53 L813.99 29.91 L814.43 29.45 L814.87 29.16 L815.31 29.04 L815.75 29.09 L816.19 29.31 L816.62 29.70 L817.06 30.26 L817.50 30.98 L817.94 31.87 L818.38 32.92 L818.82 34.14 L819.26 35.52 L819.69 37.06 L820.13 38.76 L820.57 40.62 L821.01 42.62 L821.45 44.78 L821.89 47.08 L822.33 49.53 L822.77 52.11 L823.20 54.84 L823.64 57.69 L824.08 60.67 L824.52 63.78 L824.96 67.01 L825.40 70.35 L825.84 73.80 L826.27 77.36 L826.71 81.02 L827.15 84.77 L827.59 88.61 L828.03 92.54 L828.47 96.54 L828.91 100.62 L829.35 104.76 L829.78 108.97 L830.22 113.23 L830.66 117.54 L831.10 121.89 L831.54 126.28 L831.98 130.69 L832.42 135.14 L832.85 139.59 L833.29 144.07 L833.73 148.54 L834.17 153.01 L834.61 157.48 L835.05 161.93 L835.49 166.36 L835.93 170.76 L836.36 175.13 L836.80 179.46 L837.24 183.74 L837.68 187.97 L838.12 192.15 L838.56 196.26 L839.00 200.29 L839.43 204.26 L839.87 208.14 L840.31 211.93 L840.75 215.63 L841.19 219.24 L841.63 222.74 L842.07 226.13 L842.51 229.41 L842.94 232.57 L843.38 235.61 L843.82 238.53 L844.26 241.31 L844.70 243.96 L845.14 246.47 L845.58 248.84 L846.01 251.06 L846.45 253.13 L846.89 255.05 L847.33 256.82 L847.77 258.43 L848.21 259.89 L848.65 261.18 L849.09 262.30 L849.52 263.27 L849.96 264.06 L850.40 264.69 L850.84 265.15 L851.28 265.44 L851.72 265.57 L852.16 265.52 L852.59 265.30 L853.03 264.92 L853.47 264.37 L853.91 263.64 L854.35 262.76 L854.79 261.70 L855.23 260.48 L855.67 259.10 L856.10 257.56 L856.54 255.86 L856.98 254.01 L857.42 252.00 L857.86 249.85 L858.30 247.54 L858.74 245.09 L859.17 242.50 L859.61 239.78 L860.05 236.92 L860.49 233.94 L860.93 230.82 L861.37 227.59 L861.81 224.25 L862.24 220.79 L862.68 217.23 L863.12 213.57 L863.56 209.81 L864.00 205.96 L864.44 202.03 L864.88 198.02 L865.32 193.94 L865.75 189.79 L866.19 185.58 L866.63 181.31 L867.07 176.99 L867.51 172.64 L867.95 168.24 L868.39 163.82 L868.82 159.37 L869.26 154.90 L869.70 150.42 L870.14 145.94 L870.58 141.46 L871.02 136.98 L871.46 132.52 L871.90 128.09 L872.33 123.67 L872.77 119.30 L873.21 114.96 L873.65 110.67 L874.09 106.43 L874.53 102.25 L874.97 98.13 L875.40 94.08 L875.84 90.11 L876.28 86.22 L876.72 82.42 L877.16 78.71 L877.60 75.10 L878.04 71.59 L878.48 68.19 L878.91 64.90 L879.35 61.73 L879.79 58.68 L880.23 55.76 L880.67 52.97 L881.11 50.32 L881.55 47.80 L881.98 45.42 L882.42 43.19 L882.86 41.11 L883.30 39.19 L883.74 37.41 L884.18 35.80 L884.62 34.34 L885.06 33.04 L885.49 31.91 L885.93 30.94 L886.37 30.14 L886.81 29.51 L887.25 29.04 L887.69 28.75 L888.13 28.62 L888.56 28.67 L889.00 28.88 L889.44 29.26 L889.88 29.81 L890.32 30.53 L890.76 31.42 L891.20 32.47 L891.64 33.69 L892.07 35.07 L892.51 36.61 L892.95 38.31 L893.39 40.16 L893.83 42.17 L894.27 44.33 L894.71 46.64 L895.14 49.09 L895.58 51.68 L896.02 54.41 L896.46 57.27 L896.90 60.26 L897.34 63.37 L897.78 66.60 L898.22 69.95 L898.65 73.41 L899.09 76.98 L899.53 80.65 L899.97 84.41 L900.41 88.26 L900.85 92.20 L901.29 96.22 L901.72 100.30 L902.16 104.46 L902.60 108.68 L903.04 112.95 L903.48 117.28 L903.92 121.64 L904.36 126.04 L904.80 130.48 L905.23 134.93 L905.67 139.41 L906.11 143.89 L906.55 148.38 L906.99 152.87 L907.43 157.36 L907.87 161.82 L908.30 166.27 L908.74 170.69 L909.18 175.07 L909.62 179.42 L910.06 183.72 L910.50 187.97 L910.94 192.16 L911.38 196.28 L911.81 200.34 L912.25 204.32 L912.69 208.22 L913.13 212.03 L913.57 215.75 L914.01 219.37 L914.45 222.88 L914.88 226.29 L915.32 229.59 L915.76 232.77 L916.20 235.82 L916.64 238.75 L917.08 241.55 L917.52 244.21 L917.95 246.74 L918.39 249.12 L918.83 251.35 L919.27 253.44 L919.71 255.37 L920.15 257.15 L920.59 258.78 L921.03 260.24 L921.46 261.54 L921.90 262.68 L922.34 263.65 L922.78 264.45 L923.22 265.09 L923.66 265.56 L924.10 265.86 L924.53 265.99 L924.97 265.95 L925.41 265.74 L925.85 265.36 L926.29 264.81 L926.73 264.09 L927.17 263.20 L927.61 262.15 L928.04 260.94 L928.48 259.56 L928.92 258.02 L929.36 256.32 L929.80 254.46 L930.24 252.45 L930.68 250.29 L931.11 247.99 L931.55 245.53 L931.99 242.94 L932.43 240.21 L932.87 237.35 L933.31 234.35 L933.75 231.24 L934.19 228.00 L934.62 224.65 L935.06 221.18 L935.50 217.61 L935.94 213.94 L936.38 210.17 L936.82 206.31 L937.26 202.37 L937.69 198.35 L938.13 194.25 L938.57 190.09 L939.01 185.87 L939.45 181.59 L939.89 177.26 L940.33 172.88 L940.77 168.47 L941.20 164.03 L941.64 159.57 L942.08 155.09 L942.52 150.59 L942.96 146.09 L943.40 141.60 L943.84 137.11 L944.27 132.63 L944.71 128.18 L945.15 123.75 L945.59 119.35 L946.03 115.00 L946.47 110.69 L946.91 106.43 L947.35 102.24 L947.78 98.10 L948.22 94.04 L948.66 90.05 L949.10 86.14 L949.54 82.32 L949.98 78.60 L950.42 74.97 L950.85 71.44 L951.29 68.03 L951.73 64.72 L952.17 61.54 L952.61 58.47 L953.05 55.54 L953.49 52.73 L953.93 50.06 L954.36 47.53 L954.80 45.14 L955.24 42.90 L955.68 40.81 L956.12 38.87 L956.56 37.08 L957.00 35.45 L957.43 33.98 L957.87 32.68 L958.31 31.54 L958.75 30.56 L959.19 29.75 L959.63 29.11 L960.07 28.64 L960.51 28.33 L960.94 28.20 L961.38 28.24 L961.82 28.45 L962.26 28.82 L962.70 29.37 L963.14 30.09 L963.58 30.97 L964.01 32.02 L964.45 33.24 L964.89 34.62 L965.33 36.16 L965.77 37.86 L966.21 39.71 L966.65 41.72 L967.08 43.88 L967.52 46.19 L967.96 48.65 L968.40 51.24 L968.84 53.97 L969.28 56.84 L969.72 59.84 L970.16 62.96 L970.59 66.20 L971.03 69.56 L971.47 73.02 L971.91 76.60 L972.35 80.28 L972.79 84.05 L973.23 87.91 L973.66 91.86 L974.10 95.89 L974.54 99.99 L974.98 104.16 L975.42 108.39 L975.86 112.68 L976.30 117.01 L976.74 121.39 L977.17 125.81 L977.61 130.26 L978.05 134.73 L978.49 139.22 L978.93 143.72 L979.37 148.23 L979.81 152.73 L980.24 157.23 L980.68 161.72 L981.12 166.18 L981.56 170.61 L982.00 175.02 L982.44 179.38 L982.88 183.70 L983.32 187.96 L983.75 192.17 L984.19 196.31 L984.63 200.39 L985.07 204.38 L985.51 208.30 L985.95 212.12 L986.39 215.86 L986.82 219.50 L987.26 223.03 L987.70 226.45 L988.14 229.77 L988.58 232.96 L989.02 236.03 L989.46 238.97 L989.90 241.79 L990.33 244.46 L990.77 247.00 L991.21 249.40 L991.65 251.65 L992.09 253.75 L992.53 255.69 L992.97 257.48 L993.40 259.12 L993.84 260.59 L994.28 261.90 L994.72 263.05 L995.16 264.03 L995.60 264.85 L996.04 265.49 L996.48 265.97 L996.91 266.28 L997.35 266.41 L997.79 266.38 L998.23 266.17 L998.67 265.79 L999.11 265.25 L999.55 264.53 L999.98 263.65 L1000.42 262.60 L1000.86 261.39 L1001.30 260.01 L1001.74 258.47 L1002.18 256.77 L1002.62 254.91 L1003.06 252.90 L1003.49 250.74 L1003.93 248.43 L1004.37 245.97 L1004.81 243.38 L1005.25 240.64 L1005.69 237.77 L1006.13 234.77 L1006.56 231.65 L1007.00 228.41 L1007.44 225.04 L1007.88 221.57 L1008.32 217.99 L1008.76 214.31 L1009.20 210.53 L1009.63 206.66 L1010.07 202.71 L1010.51 198.68 L1010.95 194.57 L1011.39 190.39 L1011.83 186.16 L1012.27 181.86 L1012.71 177.52 L1013.14 173.13 L1013.58 168.71 L1014.02 164.25 L1014.46 159.77 L1014.90 155.28 L1015.34 150.77 L1015.78 146.25 L1016.21 141.74 L1016.65 137.23 L1017.09 132.74 L1017.53 128.27 L1017.97 123.82 L1018.41 119.41 L1018.85 115.04 L1019.29 110.71 L1019.72 106.44 L1020.16 102.22 L1020.60 98.07 L1021.04 93.99 L1021.48 89.99 L1021.92 86.06 L1022.36 82.23 L1022.79 78.48 L1023.23 74.84 L1023.67 71.30 L1024.11 67.86 L1024.55 64.55 L1024.99 61.34 L1025.43 58.27 L1025.87 55.31 L1026.30 52.49 L1026.74 49.81 L1027.18 47.26 L1027.62 44.86 L1028.06 42.61 L1028.50 40.50 L1028.94 38.55 L1029.37 36.75 L1029.81 35.11 L1030.25 33.63 L1030.69 32.31 L1031.13 31.16 L1031.57 30.18 L1032.01 29.36 L1032.45 28.71 L1032.88 28.23 L1033.32 27.92 L1033.76 27.78 L1034.20 27.81 L1034.64 28.01 L1035.08 28.39 L1035.52 28.93 L1035.95 29.64 L1036.39 30.52 L1036.83 31.57 L1037.27 32.79 L1037.71 34.16 L1038.15 35.70 L1038.59 37.40 L1039.03 39.26 L1039.46 41.27 L1039.90 43.44 L1040.34 45.75 L1040.78 48.21 L1041.22 50.80 L1041.66 53.54 L1042.10 56.41 L1042.53 59.42 L1042.97 62.54 L1043.41 65.79 L1043.85 69.16 L1044.29 72.63 L1044.73 76.22 L1045.17 79.90 L1045.61 83.69 L1046.04 87.56 L1046.48 91.52 L1046.92 95.56 L1047.36 99.67 L1047.80 103.86 L1048.24 108.10 L1048.68 112.40 L1049.11 116.75 L1049.55 121.14 L1049.99 125.57 L1050.43 130.04 L1050.87 134.52 L1051.31 139.03 L1051.75 143.55 L1052.19 148.07 L1052.62 152.59 L1053.06 157.11 L1053.50 161.61 L1053.94 166.09 L1054.38 170.54 L1054.82 174.96 L1055.26 179.34 L1055.69 183.67 L1056.13 187.96 L1056.57 192.18 L1057.01 196.34 L1057.45 200.43 L1057.89 204.44 L1058.33 208.38 L1058.76 212.22 L1059.20 215.97 L1059.64 219.62 L1060.08 223.17 L1060.52 226.62 L1060.96 229.94 L1061.40 233.15 L1061.84 236.24 L1062.27 239.20 L1062.71 242.02 L1063.15 244.72 L1063.59 247.27 L1064.03 249.68 L1064.47 251.94 L1064.91 254.05 L1065.34 256.01 L1065.78 257.82 L1066.22 259.46 L1066.66 260.95 L1067.10 262.27 L1067.54 263.42 L1067.98 264.42 L1068.42 265.24 L1068.85 265.89 L1069.29 266.38 L1069.73 266.69 L1070.17 266.83 L1070.61 266.80 L1071.05 266.60 L1071.49 266.23 L1071.92 265.69 L1072.36 264.98 L1072.80 264.10 L1073.24 263.05 L1073.68 261.84 L1074.12 260.46 L1074.56 258.92 L1075.00 257.22 L1075.43 255.36 L1075.87 253.35 L1076.31 251.19 L1076.75 248.87 L1077.19 246.42 L1077.63 243.81 L1078.07 241.07 L1078.50 238.20 L1078.94 235.20 L1079.38 232.06 L1079.82 228.81 L1080.26 225.44 L1080.70 221.96 L1081.14 218.37 L1081.58 214.68 L1082.01 210.89 L1082.45 207.01 L1082.89 203.05 L1083.33 199.00 L1083.77 194.89 L1084.21 190.70 L1084.65 186.45 L1085.08 182.14 L1085.52 177.78 L1085.96 173.38 L1086.40 168.94 L1086.84 164.47 L1087.28 159.98 L1087.72 155.47 L1088.16 150.94 L1088.59 146.41 L1089.03 141.88 L1089.47 137.36 L1089.91 132.85 L1090.35 128.36 L1090.79 123.90 L1091.23 119.47 L1091.66 115.08 L1092.10 110.74 L1092.54 106.45 L1092.98 102.22 L1093.42 98.05 L1093.86 93.95 L1094.30 89.93 L1094.74 85.99 L1095.17 82.13 L1095.61 78.37 L1096.05 74.71 L1096.49 71.15 L1096.93 67.70 L1097.37 64.37 L1097.81 61.15 L1098.24 58.06 L1098.68 55.09 L1099.12 52.26 L1099.56 49.56 L1100.00 47.00 L1100.44 44.58 L1100.88 42.31 L1101.32 40.20 L1101.75 38.23 L1102.19 36.42 L1102.63 34.77 L1103.07 33.28 L1103.51 31.95 L1103.95 30.79 L1104.39 29.79 L1104.82 28.97 L1105.26 28.31 L1105.70 27.82 L1106.14 27.50 L1106.58 27.36 L1107.02 27.38 L1107.46 27.58 L1107.90 27.95 L1108.33 28.49 L1108.77 29.20 L1109.21 30.08 L1109.65 31.12 L1110.09 32.33 L1110.53 33.71 L1110.97 35.25 L1111.40 36.95 L1111.84 38.81 L1112.28 40.82 L1112.72 42.99 L1113.16 45.30 L1113.60 47.76 L1114.04 50.37 L1114.47 53.11 L1114.91 55.99 L1115.35 58.99 L1115.79 62.13 L1116.23 65.38 L1116.67 68.76 L1117.11 72.24 L1117.55 75.84 L1117.98 79.53 L1118.42 83.33 L1118.86 87.21 L1119.30 91.18 L1119.74 95.23 L1120.18 99.36 L1120.62 103.55 L1121.05 107.81 L1121.49 112.12 L1121.93 116.48 L1122.37 120.89 L1122.81 125.34 L1123.25 129.82 L1123.69 134.32 L1124.13 138.84 L1124.56 143.37 L1125.00 147.91 L1125.44 152.45 L1125.88 156.98 L1126.32 161.50 L1126.76 165.99 L1127.20 170.46 L1127.63 174.90 L1128.07 179.30 L1128.51 183.65 L1128.95 187.95 L1129.39 192.19 L1129.83 196.37 L1130.27 200.47 L1130.71 204.50 L1131.14 208.45 L1131.58 212.31 L1132.02 216.08 L1132.46 219.75 L1132.90 223.32 L1133.34 226.78 L1133.78 230.12 L1134.21 233.34 L1134.65 236.45 L1135.09 239.42 L1135.53 242.26 L1135.97 244.97 L1136.41 247.53 L1136.85 249.96 L1137.29 252.23 L1137.72 254.36 L1138.16 256.33 L1138.60 258.14 L1139.04 259.80 L1139.48 261.30 L1139.92 262.63 L1140.36 263.80 L1140.79 264.80 L1141.23 265.63 L1141.67 266.29 L1142.11 266.78 L1142.55 267.11 L1142.99 267.25 L1143.43 267.23 L1143.87 267.04 L1144.30 266.67 L1144.74 266.13 L1145.18 265.43 L1145.62 264.55 L1146.06 263.50 L1146.50 262.29 L1146.94 260.91 L1147.37 259.38 L1147.81 257.68 L1148.25 255.82 L1148.69 253.80 L1149.13 251.64 L1149.57 249.32 L1150.01 246.86 L1150.45 244.25 L1150.88 241.51 L1151.32 238.63 L1151.76 235.62 L1152.20 232.48 L1152.64 229.22 L1153.08 225.84 L1153.52 222.35 L1153.95 218.75 L1154.39 215.05 L1154.83 211.26 L1155.27 207.37 L1155.71 203.39 L1156.15 199.33 L1156.59 195.20 L1157.02 191.00 L1157.46 186.74 L1157.90 182.42 L1158.34 178.05 L1158.78 173.63 L1159.22 169.18 L1159.66 164.70 L1160.10 160.19 L1160.53 155.66 L1160.97 151.12 L1161.41 146.57 L1161.85 142.02 L1162.29 137.48 L1162.73 132.96 L1163.17 128.45 L1163.60 123.98 L1164.04 119.53 L1164.48 115.12 L1164.92 110.76 L1165.36 106.46 L1165.80 102.21 L1166.24 98.02 L1166.68 93.91 L1167.11 89.87 L1167.55 85.91 L1167.99 82.04 L1168.43 78.26 L1168.87 74.58 L1169.31 71.01 L1169.75 67.54 L1170.18 64.19 L1170.62 60.96 L1171.06 57.85 L1171.50 54.87 L1171.94 52.02 L1172.38 49.31 L1172.82 46.73 L1173.26 44.30 L1173.69 42.02 L1174.13 39.89 L1174.57 37.91 L1175.01 36.09 L1175.45 34.43 L1175.89 32.93 L1176.33 31.59 L1176.76 30.42 L1177.20 29.41 L1177.64 28.57 L1178.08 27.91 L1178.52 27.41 L1178.96 27.09 L1179.40 26.94 L1179.84 26.96 L1180.27 27.15 L1180.71 27.51 L1181.15 28.05 L1181.59 28.75 L1182.03 29.63 L1182.47 30.67 L1182.91 31.88 L1183.34 33.26 L1183.78 34.80 L1184.22 36.50 L1184.66 38.36 L1185.10 40.37 L1185.54 42.54 L1185.98 44.86 L1186.42 47.32 L1186.85 49.93 L1187.29 52.68 L1187.73 55.56 L1188.17 58.57 L1188.61 61.71 L1189.05 64.98 L1189.49 68.36 L1189.92 71.85 L1190.36 75.45 L1190.80 79.16 L1191.24 82.96 L1191.68 86.86 L1192.12 90.84 L1192.56 94.90 L1193.00 99.04 L1193.43 103.24 L1193.87 107.51 L1194.31 111.84 L1194.75 116.22 L1195.19 120.64 L1195.63 125.10 L1196.07 129.59 L1196.50 134.11 L1196.94 138.65 L1197.38 143.20 L1197.82 147.75 L1198.26 152.30 L1198.70 156.85 L1199.14 161.39 L1199.58 165.90 L1200.01 170.39 L1200.45 174.84 L1200.89 179.25 L1201.33 183.62 L1201.77 187.94 L1202.21 192.20 L1202.65 196.39 L1203.08 200.52 L1203.52 204.56 L1203.96 208.53 L1204.40 212.41 L1204.84 216.19 L1205.28 219.88 L1205.72 223.46 L1206.15 226.93 L1206.59 230.29 L1207.03 233.53 L1207.47 236.65 L1207.91 239.64 L1208.35 242.50 L1208.79 245.22 L1209.23 247.80 L1209.66 250.23 L1210.10 252.52 L1210.54 254.66 L1210.98 256.65 L1211.42 258.47 L1211.86 260.14 L1212.30 261.65 L1212.73 262.99 L1213.17 264.17 L1213.61 265.18 L1214.05 266.02 L1214.49 266.69 L1214.93 267.19 L1215.37 267.52 L1215.81 267.68 L1216.24 267.66 L1216.68 267.47 L1217.12 267.11 L1217.56 266.57 L1218.00 265.87 L1218.44 265.00 L1218.88 263.95 L1219.31 262.74 L1219.75 261.37 L1220.19 259.83 L1220.63 258.13 L1221.07 256.27 L1221.51 254.25 L1221.95 252.08 L1222.39 249.77 L1222.82 247.30 L1223.26 244.69 L1223.70 241.94 L1224.14 239.06 L1224.58 236.04 L1225.02 232.89 L1225.46 229.63 L1225.89 226.24 L1226.33 222.74 L1226.77 219.14 L1227.21 215.43 L1227.65 211.62 L1228.09 207.72 L1228.53 203.73 L1228.97 199.66 L1229.40 195.52 L1229.84 191.31 L1230.28 187.03 L1230.72 182.70 L1231.16 178.31 L1231.60 173.89 L1232.04 169.42 L1232.47 164.92 L1232.91 160.39 L1233.35 155.85 L1233.79 151.29 L1234.23 146.73 L1234.67 142.17 L1235.11 137.61 L1235.55 133.07 L1235.98 128.55 L1236.42 124.05 L1236.86 119.59 L1237.30 115.17 L1237.74 110.79 L1238.18 106.47 L1238.62 102.20 L1239.05 98.00 L1239.49 93.86 L1239.93 89.81 L1240.37 85.83 L1240.81 81.95 L1241.25 78.15 L1241.69 74.46 L1242.13 70.87 L1242.56 67.39 L1243.00 64.02 L1243.44 60.77 L1243.88 57.65 L1244.32 54.65 L1244.76 51.78 L1245.20 49.06 L1245.63 46.47 L1246.07 44.03 L1246.51 41.73 L1246.95 39.59 L1247.39 37.60 L1247.83 35.76 L1248.27 34.09 L1248.71 32.57 L1249.14 31.23 L1249.58 30.04 L1250.02 29.03 L1250.46 28.18 L1250.90 27.51 L1251.34 27.01 L1251.78 26.67 L1252.21 26.51 L1252.65 26.53 L1253.09 26.71 L1253.53 27.07 L1253.97 27.60 L1254.41 28.31 L1254.85 29.18 L1255.28 30.22 L1255.72 31.43 L1256.16 32.81 L1256.60 34.34 L1257.04 36.04 L1257.48 37.90 L1257.92 39.92 L1258.36 42.09 L1258.79 44.41 L1259.23 46.88 L1259.67 49.49 L1260.11 52.24 L1260.55 55.13 L1260.99 58.15 L1261.43 61.30 L1261.86 64.57 L1262.30 67.96 L1262.74 71.46 L1263.18 75.07 L1263.62 78.79 L1264.06 82.60 L1264.50 86.50 L1264.94 90.50 L1265.37 94.57 L1265.81 98.72 L1266.25 102.94 L1266.69 107.22 L1267.13 111.56 L1267.57 115.95 L1268.01 120.39 L1268.44 124.86 L1268.88 129.37 L1269.32 133.90 L1269.76 138.45 L1270.20 143.02 L1270.64 147.59 L1271.08 152.16 L1271.52 156.72 L1271.95 161.27 L1272.39 165.80 L1272.83 170.31 L1273.27 174.78 L1273.71 179.21 L1274.15 183.59 L1274.59 187.93 L1275.02 192.20 L1275.46 196.42 L1275.90 200.56 L1276.34 204.62 L1276.78 208.60 L1277.22 212.50 L1277.66 216.30 L1278.10 220.00 L1278.53 223.60 L1278.97 227.09 L1279.41 230.47 L1279.85 233.72 L1280.29 236.86 L1280.73 239.86 L1281.17 242.73 L1281.60 245.47 L1282.04 248.06 L1282.48 250.51 L1282.92 252.81 L1283.36 254.97 L1283.80 256.96 L1284.24 258.80 L1284.68 260.48 L1285.11 262.00 L1285.55 263.35 L1285.99 264.54 L1286.43 265.56 L1286.87 266.41 L1287.31 267.09 L1287.75 267.60 L1288.18 267.93 L1288.62 268.10 L1289.06 268.09 L1289.50 267.90 L1289.94 267.55 L1290.38 267.02 L1290.82 266.32 L1291.26 265.44 L1291.69 264.40 L1292.13 263.20 L1292.57 261.82 L1293.01 260.28 L1293.45 258.58 L1293.89 256.72 L1294.33 254.70 L1294.76 252.53 L1295.20 250.21 L1295.64 247.74 L1296.08 245.13 L1296.52 242.37 L1296.96 239.48 L1297.40 236.46 L1297.84 233.31 L1298.27 230.04 L1298.71 226.64 L1299.15 223.14 L1299.59 219.52 L1300.03 215.80 L1300.47 211.98 L1300.91 208.07 L1301.34 204.08 L1301.78 200.00 L1302.22 195.84 L1302.66 191.62 L1303.10 187.33 L1303.54 182.98 L1303.98 178.58 L1304.41 174.14 L1304.85 169.66 L1305.29 165.14 L1305.73 160.60 L1306.17 156.04 L1306.61 151.47 L1307.05 146.89 L1307.49 142.31 L1307.92 137.74 L1308.36 133.18 L1308.80 128.65 L1309.24 124.13 L1309.68 119.65 L1310.12 115.21 L1310.56 110.82 L1310.99 106.48 L1311.43 102.19 L1311.87 97.97 L1312.31 93.82 L1312.75 89.75 L1313.19 85.76 L1313.63 81.86 L1314.07 78.05 L1314.50 74.33 L1314.94 70.73 L1315.38 67.23 L1315.82 63.85 L1316.26 60.58 L1316.70 57.44 L1317.14 54.43 L1317.57 51.55 L1318.01 48.81 L1318.45 46.21 L1318.89 43.75 L1319.33 41.44 L1319.77 39.28 L1320.21 37.28 L1320.65 35.43 L1321.08 33.75 L1321.52 32.22 L1321.96 30.86 L1322.40 29.67 L1322.84 28.65 L1323.28 27.79 L1323.72 27.11 L1324.15 26.60 L1324.59 26.26 L1325.03 26.09 L1325.47 26.10 L1325.91 26.28 L1326.35 26.64 L1326.79 27.16 L1327.23 27.86 L1327.66 28.73 L1328.10 29.77 L1328.54 30.98 L1328.98 32.35 L1329.42 33.89 L1329.86 35.59 L1330.30 37.45 L1330.73 39.47 L1331.17 41.64 L1331.61 43.96 L1332.05 46.44 L1332.49 49.05 L1332.93 51.81 L1333.37 54.70 L1333.81 57.73 L1334.24 60.88 L1334.68 64.16 L1335.12 67.56 L1335.56 71.07 L1336.00 74.69 L1336.44 78.41 L1336.88 82.23 L1337.31 86.15 L1337.75 90.15 L1338.19 94.24 L1338.63 98.40 L1339.07 102.63 L1339.51 106.93 L1339.95 111.28 L1340.39 115.68 L1340.82 120.13 L1341.26 124.62 L1341.70 129.14 L1342.14 133.69 L1342.58 138.26 L1343.02 142.84 L1343.46 147.43 L1343.89 152.01 L1344.33 156.59 L1344.77 161.16 L1345.21 165.71 L1345.65 170.23 L1346.09 174.71 L1346.53 179.16 L1346.97 183.57 L1347.40 187.92 L1347.84 192.21 L1348.28 196.44 L1348.72 200.60 L1349.16 204.68 L1349.60 208.68 L1350.04 212.59 L1350.47 216.41 L1350.91 220.13 L1351.35 223.74 L1351.79 227.25 L1352.23 230.64 L1352.67 233.91 L1353.11 237.06 L1353.55 240.08 L1353.98 242.97 L1354.42 245.72 L1354.86 248.32 L1355.30 250.79 L1355.74 253.10 L1356.18 255.27 L1356.62 257.28 L1357.05 259.13 L1357.49 260.82 L1357.93 262.35 L1358.37 263.72 L1358.81 264.91 L1359.25 265.94 L1359.69 266.80 L1360.12 267.49 L1360.56 268.00 L1361.00 268.35 L1361.44 268.52 L1361.88 268.51 L1362.32 268.33 L1362.76 267.98 L1363.20 267.46 L1363.63 266.76 L1364.07 265.89 L1364.51 264.86 L1364.95 263.65 L1365.39 262.28 L1365.83 260.74 L1366.27 259.04 L1366.70 257.18 L1367.14 255.16 L1367.58 252.98 L1368.02 250.66 L1368.46 248.19 L1368.90 245.57 L1369.34 242.81 L1369.78 239.91 L1370.21 236.88 L1370.65 233.73 L1371.09 230.45 L1371.53 227.05 L1371.97 223.53 L1372.41 219.91 L1372.85 216.18 L1373.28 212.35 L1373.72 208.43 L1374.16 204.42 L1374.60 200.33 L1375.04 196.16 L1375.48 191.92 L1375.92 187.62 L1376.36 183.26 L1376.79 178.85 L1377.23 174.39 L1377.67 169.90 L1378.11 165.37 L1378.55 160.81 L1378.99 156.24 L1379.43 151.65 L1379.86 147.06 L1380.30 142.46 L1380.74 137.87 L1381.18 133.30 L1381.62 128.74 L1382.06 124.21 L1382.50 119.72 L1382.94 115.26 L1383.37 110.85 L1383.81 106.49 L1384.25 102.19 L1384.69 97.95 L1385.13 93.78 L1385.57 89.69 L1386.01 85.69 L1386.44 81.77 L1386.88 77.94 L1387.32 74.21 L1387.76 70.59 L1388.20 67.07 L1388.64 63.67 L1389.08 60.39 L1389.52 57.24 L1389.95 54.21 L1390.39 51.32 L1390.83 48.56 L1391.27 45.94 L1391.71 43.47 L1392.15 41.15 L1392.59 38.98 L1393.02 36.96 L1393.46 35.11 L1393.90 33.41 L1394.34 31.87 L1394.78 30.50 L1395.22 29.30 L1395.66 28.27 L1396.10 27.40 L1396.53 26.71 L1396.97 26.19 L1397.41 25.85 L1397.85 25.67 L1398.29 25.67 L1398.73 25.85 L1399.17 26.20 L1399.60 26.72 L1400.04 27.42 L1400.48 28.28 L1400.92 29.32 L1401.36 30.53 L1401.80 31.90 L1402.24 33.44 L1402.67 35.14 L1403.11 37.00 L1403.55 39.02 L1403.99 41.19 L1404.43 43.52 L1404.87 45.99 L1405.31 48.61 L1405.75 51.37 L1406.18 54.27 L1406.62 57.30 L1407.06 60.46 L1407.50 63.75 L1407.94 67.15 L1408.38 70.67 L1408.82 74.30 L1409.25 78.03 L1409.69 81.87 L1410.13 85.79 L1410.57 89.81 L1411.01 93.90 L1411.45 98.08 L1411.89 102.32 L1412.33 106.63 L1412.76 111.00 L1413.20 115.41 L1413.64 119.88 L1414.08 124.38 L1414.52 128.92 L1414.96 133.48 L1415.40 138.06 L1415.83 142.66 L1416.27 147.26 L1416.71 151.87 L1417.15 156.46 L1417.59 161.04 L1418.03 165.61 L1418.47 170.15 L1418.91 174.65 L1419.34 179.12 L1419.78 183.54 L1420.22 187.90 L1420.66 192.21 L1421.10 196.46 L1421.54 200.63 L1421.98 204.73 L1422.41 208.75 L1422.85 212.68 L1423.29 216.51 L1423.73 220.25 L1424.17 223.88 L1424.61 227.40 L1425.05 230.81 L1425.49 234.10 L1425.92 237.26 L1426.36 240.30 L1426.80 243.20 L1427.24 245.96 L1427.68 248.59 L1428.12 251.06 L1428.56 253.39 L1428.99 255.57 L1429.43 257.59 L1429.87 259.46 L1430.31 261.16 L1430.75 262.70 L1431.19 264.08 L1431.63 265.28 L1432.07 266.32 L1432.50 267.19 L1432.94 267.89 L1433.38 268.41 L1433.82 268.76 L1434.26 268.94 L1434.70 268.94 L1435.14 268.77 L1435.57 268.42 L1436.01 267.90 L1436.45 267.21 L1436.89 266.34 L1437.33 265.31 L1437.77 264.10" stroke="#000" stroke-width="7.2" stroke-dasharray="5.4 5.0"/>
<path d="M121.79 93.28 L122.22 96.33 L122.66 99.45 L123.10 102.64 L123.54 105.90 L123.98 109.21 L124.42 112.58 L124.86 116.00 L125.30 119.46 L125.73 122.96 L126.17 126.49 L126.61 130.06 L127.05 133.65 L127.49 137.25 L127.93 140.88 L128.37 144.51 L128.80 148.14 L129.24 151.78 L129.68 155.40 L130.12 159.02 L130.56 162.62 L131.00 166.19 L131.44 169.74 L131.87 173.26 L132.31 176.74 L132.75 180.18 L133.19 183.57 L133.63 186.91 L134.07 190.20 L134.51 193.42 L134.95 196.58 L135.38 199.66 L135.82 202.68 L136.26 205.61 L136.70 208.46 L137.14 211.22 L137.58 213.90 L138.02 216.47 L138.45 218.95 L138.89 221.33 L139.33 223.60 L139.77 225.77 L140.21 227.82 L140.65 229.75 L141.09 231.57 L141.53 233.27 L141.96 234.85 L142.40 236.30 L142.84 237.63 L143.28 238.83 L143.72 239.90 L144.16 240.83 L144.60 241.64 L145.03 242.30 L145.47 242.84 L145.91 243.24 L146.35 243.50 L146.79 243.62 L147.23 243.61 L147.67 243.46 L148.11 243.17 L148.54 242.75 L148.98 242.19 L149.42 241.50 L149.86 240.67 L150.30 239.71 L150.74 238.62 L151.18 237.39 L151.61 236.04 L152.05 234.57 L152.49 232.97 L152.93 231.25 L153.37 229.40 L153.81 227.45 L154.25 225.37 L154.69 223.19 L155.12 220.90 L155.56 218.50 L156.00 216.00 L156.44 213.41 L156.88 210.72 L157.32 207.94 L157.76 205.07 L158.19 202.12 L158.63 199.10 L159.07 196.00 L159.51 192.83 L159.95 189.59 L160.39 186.30 L160.83 182.95 L161.27 179.55 L161.70 176.10 L162.14 172.61 L162.58 169.09 L163.02 165.53 L163.46 161.95 L163.90 158.35 L164.34 154.73 L164.77 151.10 L165.21 147.47 L165.65 143.83 L166.09 140.20 L166.53 136.58 L166.97 132.98 L167.41 129.40 L167.85 125.84 L168.28 122.31 L168.72 118.81 L169.16 115.36 L169.60 111.95 L170.04 108.59 L170.48 105.29 L170.92 102.05 L171.35 98.87 L171.79 95.76 L172.23 92.72 L172.67 89.76 L173.11 86.88 L173.55 84.09 L173.99 81.38 L174.43 78.77 L174.86 76.26 L175.30 73.85 L175.74 71.54 L176.18 69.34 L176.62 67.25 L177.06 65.28 L177.50 63.42 L177.93 61.68 L178.37 60.06 L178.81 58.57 L179.25 57.20 L179.69 55.96 L180.13 54.84 L180.57 53.86 L181.00 53.02 L181.44 52.30 L181.88 51.73 L182.32 51.28 L182.76 50.98 L183.20 50.81 L183.64 50.77 L184.08 50.88 L184.51 51.12 L184.95 51.50 L185.39 52.01 L185.83 52.66 L186.27 53.44 L186.71 54.36 L187.15 55.40 L187.58 56.58 L188.02 57.89 L188.46 59.33 L188.90 60.88 L189.34 62.57 L189.78 64.37 L190.22 66.29 L190.66 68.32 L191.09 70.47 L191.53 72.73 L191.97 75.09 L192.41 77.55 L192.85 80.12 L193.29 82.77 L193.73 85.52 L194.16 88.36 L194.60 91.28 L195.04 94.28 L195.48 97.36 L195.92 100.51 L196.36 103.72 L196.80 107.00 L197.24 110.33 L197.67 113.71 L198.11 117.14 L198.55 120.62 L198.99 124.13 L199.43 127.68 L199.87 131.25 L200.31 134.85 L200.74 138.46 L201.18 142.09 L201.62 145.72 L202.06 149.35 L202.50 152.99 L202.94 156.61 L203.38 160.22 L203.82 163.81 L204.25 167.38 L204.69 170.92 L205.13 174.43 L205.57 177.89 L206.01 181.32 L206.45 184.69 L206.89 188.01 L207.32 191.28 L207.76 194.48 L208.20 197.61 L208.64 200.68 L209.08 203.66 L209.52 206.57 L209.96 209.39 L210.40 212.12 L210.83 214.77 L211.27 217.31 L211.71 219.76 L212.15 222.10 L212.59 224.34 L213.03 226.46 L213.47 228.48 L213.90 230.37 L214.34 232.15 L214.78 233.81 L215.22 235.35 L215.66 236.76 L216.10 238.04 L216.54 239.20 L216.98 240.22 L217.41 241.11 L217.85 241.87 L218.29 242.50 L218.73 242.99 L219.17 243.34 L219.61 243.55 L220.05 243.63 L220.48 243.57 L220.92 243.38 L221.36 243.05 L221.80 242.58 L222.24 241.97 L222.68 241.24 L223.12 240.36 L223.55 239.36 L223.99 238.22 L224.43 236.96 L224.87 235.57 L225.31 234.05 L225.75 232.41 L226.19 230.65 L226.63 228.76 L227.06 226.77 L227.50 224.66 L227.94 222.44 L228.38 220.11 L228.82 217.68 L229.26 215.15 L229.70 212.52 L230.13 209.80 L230.57 206.99 L231.01 204.10 L231.45 201.12 L231.89 198.07 L232.33 194.95 L232.77 191.76 L233.21 188.50 L233.64 185.19 L234.08 181.82 L234.52 178.40 L234.96 174.94 L235.40 171.44 L235.84 167.91 L236.28 164.34 L236.71 160.75 L237.15 157.15 L237.59 153.52 L238.03 149.89 L238.47 146.26 L238.91 142.62 L239.35 139.00 L239.79 135.38 L240.22 131.78 L240.66 128.21 L241.10 124.66 L241.54 121.14 L241.98 117.66 L242.42 114.22 L242.86 110.83 L243.29 107.49 L243.73 104.20 L244.17 100.98 L244.61 97.82 L245.05 94.74 L245.49 91.72 L245.93 88.79 L246.37 85.94 L246.80 83.18 L247.24 80.50 L247.68 77.93 L248.12 75.45 L248.56 73.07 L249.00 70.80 L249.44 68.63 L249.87 66.58 L250.31 64.65 L250.75 62.83 L251.19 61.13 L251.63 59.55 L252.07 58.10 L252.51 56.77 L252.95 55.57 L253.38 54.50 L253.82 53.57 L254.26 52.76 L254.70 52.10 L255.14 51.56 L255.58 51.16 L256.02 50.90 L256.45 50.78 L256.89 50.79 L257.33 50.94 L257.77 51.23 L258.21 51.65 L258.65 52.21 L259.09 52.90 L259.53 53.73 L259.96 54.69 L260.40 55.78 L260.84 57.01 L261.28 58.36 L261.72 59.83 L262.16 61.43 L262.60 63.15 L263.03 65.00 L263.47 66.95 L263.91 69.03 L264.35 71.21 L264.79 73.50 L265.23 75.90 L265.67 78.40 L266.11 80.99 L266.54 83.68 L266.98 86.46 L267.42 89.33 L267.86 92.28 L268.30 95.30 L268.74 98.40 L269.18 101.57 L269.61 104.81 L270.05 108.10 L270.49 111.45 L270.93 114.85 L271.37 118.30 L271.81 121.79 L272.25 125.31 L272.68 128.87 L273.12 132.45 L273.56 136.05 L274.00 139.67 L274.44 143.30 L274.88 146.93 L275.32 150.57 L275.76 154.20 L276.19 157.82 L276.63 161.42 L277.07 165.00 L277.51 168.56 L277.95 172.09 L278.39 175.59 L278.83 179.04 L279.26 182.45 L279.70 185.81 L280.14 189.11 L280.58 192.35 L281.02 195.53 L281.46 198.64 L281.90 201.68 L282.34 204.64 L282.77 207.52 L283.21 210.31 L283.65 213.02 L284.09 215.63 L284.53 218.14 L284.97 220.55 L285.41 222.86 L285.84 225.06 L286.28 227.15 L286.72 229.12 L287.16 230.98 L287.60 232.72 L288.04 234.34 L288.48 235.83 L288.92 237.20 L289.35 238.44 L289.79 239.56 L290.23 240.54 L290.67 241.38 L291.11 242.10 L291.55 242.67 L291.99 243.12 L292.42 243.42 L292.86 243.59 L293.30 243.63 L293.74 243.52 L294.18 243.28 L294.62 242.90 L295.06 242.39 L295.50 241.74 L295.93 240.96 L296.37 240.04 L296.81 239.00 L297.25 237.82 L297.69 236.51 L298.13 235.07 L298.57 233.52 L299.00 231.83 L299.44 230.03 L299.88 228.11 L300.32 226.08 L300.76 223.93 L301.20 221.67 L301.64 219.31 L302.08 216.85 L302.51 214.28 L302.95 211.63 L303.39 208.88 L303.83 206.04 L304.27 203.12 L304.71 200.12 L305.15 197.04 L305.58 193.89 L306.02 190.68 L306.46 187.40 L306.90 184.07 L307.34 180.69 L307.78 177.26 L308.22 173.78 L308.66 170.27 L309.09 166.72 L309.53 163.15 L309.97 159.55 L310.41 155.94 L310.85 152.31 L311.29 148.68 L311.73 145.05 L312.16 141.41 L312.60 137.79 L313.04 134.18 L313.48 130.59 L313.92 127.02 L314.36 123.48 L314.80 119.97 L315.24 116.51 L315.67 113.08 L316.11 109.71 L316.55 106.39 L316.99 103.12 L317.43 99.92 L317.87 96.79 L318.31 93.72 L318.74 90.74 L319.18 87.83 L319.62 85.01 L320.06 82.28 L320.50 79.63 L320.94 77.09 L321.38 74.64 L321.81 72.30 L322.25 70.06 L322.69 67.94 L323.13 65.92 L323.57 64.03 L324.01 62.25 L324.45 60.59 L324.89 59.05 L325.32 57.64 L325.76 56.36 L326.20 55.20 L326.64 54.18 L327.08 53.29 L327.52 52.53 L327.96 51.90 L328.39 51.41 L328.83 51.06 L329.27 50.85 L329.71 50.77 L330.15 50.83 L330.59 51.02 L331.03 51.35 L331.47 51.82 L331.90 52.43 L332.34 53.16 L332.78 54.04 L333.22 55.04 L333.66 56.18 L334.10 57.44 L334.54 58.83 L334.97 60.35 L335.41 61.99 L335.85 63.75 L336.29 65.64 L336.73 67.63 L337.17 69.74 L337.61 71.96 L338.05 74.29 L338.48 76.72 L338.92 79.25 L339.36 81.88 L339.80 84.60 L340.24 87.41 L340.68 90.30 L341.12 93.28 L341.55 96.33 L341.99 99.45 L342.43 102.64 L342.87 105.90 L343.31 109.21 L343.75 112.58 L344.19 116.00 L344.63 119.46 L345.06 122.96 L345.50 126.49 L345.94 130.06 L346.38 133.65 L346.82 137.25 L347.26 140.88 L347.70 144.51 L348.13 148.14 L348.57 151.78 L349.01 155.40 L349.45 159.02 L349.89 162.62 L350.33 166.19 L350.77 169.74 L351.21 173.26 L351.64 176.74 L352.08 180.18 L352.52 183.57 L352.96 186.91 L353.40 190.20 L353.84 193.42 L354.28 196.58 L354.71 199.66 L355.15 202.68 L355.59 205.61 L356.03 208.46 L356.47 211.22 L356.91 213.90 L357.35 216.47 L357.79 218.95 L358.22 221.33 L358.66 223.60 L359.10 225.77 L359.54 227.82 L359.98 229.75 L360.42 231.57 L360.86 233.27 L361.29 234.85 L361.73 236.30 L362.17 237.63 L362.61 238.83 L363.05 239.90 L363.49 240.83 L363.93 241.64 L364.37 242.30 L364.80 242.84 L365.24 243.24 L365.68 243.50 L366.12 243.62 L366.56 243.61 L367.00 243.46 L367.44 243.17 L367.87 242.75 L368.31 242.19 L368.75 241.50 L369.19 240.67 L369.63 239.71 L370.07 238.62 L370.51 237.39 L370.95 236.04 L371.38 234.57 L371.82 232.97 L372.26 231.25 L372.70 229.40 L373.14 227.45 L373.58 225.37 L374.02 223.19 L374.45 220.90 L374.89 218.50 L375.33 216.00 L375.77 213.41 L376.21 210.72 L376.65 207.94 L377.09 205.07 L377.52 202.12 L377.96 199.10 L378.40 196.00 L378.84 192.83 L379.28 189.59 L379.72 186.30 L380.16 182.95 L380.60 179.55 L381.03 176.10 L381.47 172.61 L381.91 169.09 L382.35 165.53 L382.79 161.95 L383.23 158.35 L383.67 154.73 L384.10 151.10 L384.54 147.47 L384.98 143.83 L385.42 140.20 L385.86 136.58 L386.30 132.98 L386.74 129.40 L387.18 125.84 L387.61 122.31 L388.05 118.81 L388.49 115.36 L388.93 111.95 L389.37 108.59 L389.81 105.29 L390.25 102.05 L390.68 98.87 L391.12 95.76 L391.56 92.72 L392.00 89.76 L392.44 86.88 L392.88 84.09 L393.32 81.38 L393.76 78.77 L394.19 76.26 L394.63 73.85 L395.07 71.54 L395.51 69.34 L395.95 67.25 L396.39 65.28 L396.83 63.42 L397.26 61.68 L397.70 60.06 L398.14 58.57 L398.58 57.20 L399.02 55.96 L399.46 54.84 L399.90 53.86 L400.34 53.02 L400.77 52.30 L401.21 51.73 L401.65 51.28 L402.09 50.98 L402.53 50.81 L402.97 50.77 L403.41 50.88 L403.84 51.12 L404.28 51.50 L404.72 52.01 L405.16 52.66 L405.60 53.44 L406.04 54.36 L406.48 55.40 L406.92 56.58 L407.35 57.89 L407.79 59.33 L408.23 60.88 L408.67 62.57 L409.11 64.37 L409.55 66.29 L409.99 68.32 L410.42 70.47 L410.86 72.73 L411.30 75.09 L411.74 77.55 L412.18 80.12 L412.62 82.77 L413.06 85.52 L413.50 88.36 L413.93 91.28 L414.37 94.28 L414.81 97.36 L415.25 100.51 L415.69 103.72 L416.13 107.00 L416.57 110.33 L417.00 113.71 L417.44 117.14 L417.88 120.62 L418.32 124.13 L418.76 127.68 L419.20 131.25 L419.64 134.85 L420.07 138.46 L420.51 142.09 L420.95 145.72 L421.39 149.35 L421.83 152.99 L422.27 156.61 L422.71 160.22 L423.15 163.81 L423.58 167.38 L424.02 170.92 L424.46 174.43 L424.90 177.89 L425.34 181.32 L425.78 184.69 L426.22 188.01 L426.65 191.28 L427.09 194.48 L427.53 197.61 L427.97 200.68 L428.41 203.66 L428.85 206.57 L429.29 209.39 L429.73 212.12 L430.16 214.77 L430.60 217.31 L431.04 219.76 L431.48 222.10 L431.92 224.34 L432.36 226.46 L432.80 228.48 L433.23 230.37 L433.67 232.15 L434.11 233.81 L434.55 235.35 L434.99 236.76 L435.43 238.04 L435.87 239.20 L436.31 240.22 L436.74 241.11 L437.18 241.87 L437.62 242.50 L438.06 242.99 L438.50 243.34 L438.94 243.55 L439.38 243.63 L439.81 243.57 L440.25 243.38 L440.69 243.05 L441.13 242.58 L441.57 241.97 L442.01 241.24 L442.45 240.36 L442.89 239.36 L443.32 238.22 L443.76 236.96 L444.20 235.57 L444.64 234.05 L445.08 232.41 L445.52 230.65 L445.96 228.76 L446.39 226.77 L446.83 224.66 L447.27 222.44 L447.71 220.11 L448.15 217.68 L448.59 215.15 L449.03 212.52 L449.47 209.80 L449.90 206.99 L450.34 204.10 L450.78 201.12 L451.22 198.07 L451.66 194.95 L452.10 191.76 L452.54 188.50 L452.97 185.19 L453.41 181.82 L453.85 178.40 L454.29 174.94 L454.73 171.44 L455.17 167.91 L455.61 164.34 L456.05 160.75 L456.48 157.15 L456.92 153.52 L457.36 149.89 L457.80 146.26 L458.24 142.62 L458.68 139.00 L459.12 135.38 L459.55 131.78 L459.99 128.21 L460.43 124.66 L460.87 121.14 L461.31 117.66 L461.75 114.22 L462.19 110.83 L462.63 107.49 L463.06 104.20 L463.50 100.98 L463.94 97.82 L464.38 94.74 L464.82 91.72 L465.26 88.79 L465.70 85.94 L466.13 83.18 L466.57 80.50 L467.01 77.93 L467.45 75.45 L467.89 73.07 L468.33 70.80 L468.77 68.63 L469.20 66.58 L469.64 64.65 L470.08 62.83 L470.52 61.13 L470.96 59.55 L471.40 58.10 L471.84 56.77 L472.28 55.57 L472.71 54.50 L473.15 53.57 L473.59 52.76 L474.03 52.10 L474.47 51.56 L474.91 51.16 L475.35 50.90 L475.78 50.78 L476.22 50.79 L476.66 50.94 L477.10 51.23 L477.54 51.65 L477.98 52.21 L478.42 52.90 L478.86 53.73 L479.29 54.69 L479.73 55.78 L480.17 57.01 L480.61 58.36 L481.05 59.83 L481.49 61.43 L481.93 63.15 L482.36 65.00 L482.80 66.95 L483.24 69.03 L483.68 71.21 L484.12 73.50 L484.56 75.90 L485.00 78.40 L485.44 80.99 L485.87 83.68 L486.31 86.46 L486.75 89.33 L487.19 92.28 L487.63 95.30 L488.07 98.40 L488.51 101.57 L488.94 104.81 L489.38 108.10 L489.82 111.45 L490.26 114.85 L490.70 118.30 L491.14 121.79 L491.58 125.31 L492.02 128.87 L492.45 132.45 L492.89 136.05 L493.33 139.67 L493.77 143.30 L494.21 146.93 L494.65 150.57 L495.09 154.20 L495.52 157.82 L495.96 161.42 L496.40 165.00 L496.84 168.56 L497.28 172.09 L497.72 175.59 L498.16 179.04 L498.60 182.45 L499.03 185.81 L499.47 189.11 L499.91 192.35 L500.35 195.53 L500.79 198.64 L501.23 201.68 L501.67 204.64 L502.10 207.52 L502.54 210.31 L502.98 213.02 L503.42 215.63 L503.86 218.14 L504.30 220.55 L504.74 222.86 L505.18 225.06 L505.61 227.15 L506.05 229.12 L506.49 230.98 L506.93 232.72 L507.37 234.34 L507.81 235.83 L508.25 237.20 L508.68 238.44 L509.12 239.56 L509.56 240.54 L510.00 241.38 L510.44 242.10 L510.88 242.67 L511.32 243.12 L511.76 243.42 L512.19 243.59 L512.63 243.63 L513.07 243.52 L513.51 243.28 L513.95 242.90 L514.39 242.39 L514.83 241.74 L515.26 240.96 L515.70 240.04 L516.14 239.00 L516.58 237.82 L517.02 236.51 L517.46 235.07 L517.90 233.52 L518.33 231.83 L518.77 230.03 L519.21 228.11 L519.65 226.08 L520.09 223.93 L520.53 221.67 L520.97 219.31 L521.41 216.85 L521.84 214.28 L522.28 211.63 L522.72 208.88 L523.16 206.04 L523.60 203.12 L524.04 200.12 L524.48 197.04 L524.91 193.89 L525.35 190.68 L525.79 187.40 L526.23 184.07 L526.67 180.69 L527.11 177.26 L527.55 173.78 L527.99 170.27 L528.42 166.72 L528.86 163.15 L529.30 159.55 L529.74 155.94 L530.18 152.31 L530.62 148.68 L531.06 145.05 L531.49 141.41 L531.93 137.79 L532.37 134.18 L532.81 130.59 L533.25 127.02 L533.69 123.48 L534.13 119.97 L534.57 116.51 L535.00 113.08 L535.44 109.71 L535.88 106.39 L536.32 103.12 L536.76 99.92 L537.20 96.79 L537.64 93.72 L538.07 90.74 L538.51 87.83 L538.95 85.01 L539.39 82.28 L539.83 79.63 L540.27 77.09 L540.71 74.64 L541.15 72.30 L541.58 70.06 L542.02 67.94 L542.46 65.92 L542.90 64.03 L543.34 62.25 L543.78 60.59 L544.22 59.05 L544.65 57.64 L545.09 56.36 L545.53 55.20 L545.97 54.18 L546.41 53.29 L546.85 52.53 L547.29 51.90 L547.73 51.41 L548.16 51.06 L548.60 50.85 L549.04 50.77 L549.48 50.83 L549.92 51.02 L550.36 51.35 L550.80 51.82 L551.23 52.43 L551.67 53.16 L552.11 54.04 L552.55 55.04 L552.99 56.18 L553.43 57.44 L553.87 58.83 L554.31 60.35 L554.74 61.99 L555.18 63.75 L555.62 65.64 L556.06 67.63 L556.50 69.74 L556.94 71.96 L557.38 74.29 L557.81 76.72 L558.25 79.25 L558.69 81.88 L559.13 84.60 L559.57 87.41 L560.01 90.30 L560.45 93.28 L560.89 96.33 L561.32 99.45 L561.76 102.64 L562.20 105.90 L562.64 109.21 L563.08 112.58 L563.52 116.00 L563.96 119.46 L564.39 122.96 L564.83 126.49 L565.27 130.06 L565.71 133.65 L566.15 137.25 L566.59 140.88 L567.03 144.51 L567.47 148.14 L567.90 151.78 L568.34 155.40 L568.78 159.02 L569.22 162.62 L569.66 166.19 L570.10 169.74 L570.54 173.26 L570.97 176.74 L571.41 180.18 L571.85 183.57 L572.29 186.91 L572.73 190.20 L573.17 193.42 L573.61 196.58 L574.04 199.66 L574.48 202.68 L574.92 205.61 L575.36 208.46 L575.80 211.22 L576.24 213.90 L576.68 216.47 L577.12 218.95 L577.55 221.33 L577.99 223.60 L578.43 225.77 L578.87 227.82 L579.31 229.75 L579.75 231.57 L580.19 233.27 L580.62 234.85 L581.06 236.30 L581.50 237.63 L581.94 238.83 L582.38 239.90 L582.82 240.83 L583.26 241.64 L583.70 242.30 L584.13 242.84 L584.57 243.24 L585.01 243.50 L585.45 243.62 L585.89 243.61 L586.33 243.46 L586.77 243.17 L587.20 242.75 L587.64 242.19 L588.08 241.50 L588.52 240.67 L588.96 239.71 L589.40 238.62 L589.84 237.39 L590.28 236.04 L590.71 234.57 L591.15 232.97 L591.59 231.25 L592.03 229.40 L592.47 227.45 L592.91 225.37 L593.35 223.19 L593.78 220.90 L594.22 218.50 L594.66 216.00 L595.10 213.41 L595.54 210.72 L595.98 207.94 L596.42 205.07 L596.86 202.12 L597.29 199.10 L597.73 196.00 L598.17 192.83 L598.61 189.59 L599.05 186.30 L599.49 182.95 L599.93 179.55 L600.36 176.10 L600.80 172.61 L601.24 169.09 L601.68 165.53 L602.12 161.95 L602.56 158.35 L603.00 154.73 L603.44 151.10 L603.87 147.47 L604.31 143.83 L604.75 140.20 L605.19 136.58 L605.63 132.98 L606.07 129.40 L606.51 125.84 L606.94 122.31 L607.38 118.81 L607.82 115.36 L608.26 111.95 L608.70 108.59 L609.14 105.29 L609.58 102.05 L610.02 98.87 L610.45 95.76 L610.89 92.72 L611.33 89.76 L611.77 86.88 L612.21 84.09 L612.65 81.38 L613.09 78.77 L613.52 76.26 L613.96 73.85 L614.40 71.54 L614.84 69.34 L615.28 67.25 L615.72 65.28 L616.16 63.42 L616.59 61.68 L617.03 60.06 L617.47 58.57 L617.91 57.20 L618.35 55.96 L618.79 54.84 L619.23 53.86 L619.67 53.02 L620.10 52.30 L620.54 51.73 L620.98 51.28 L621.42 50.98 L621.86 50.81 L622.30 50.77 L622.74 50.88 L623.17 51.12 L623.61 51.50 L624.05 52.01 L624.49 52.66 L624.93 53.44 L625.37 54.36 L625.81 55.40 L626.25 56.58 L626.68 57.89 L627.12 59.33 L627.56 60.88 L628.00 62.57 L628.44 64.37 L628.88 66.29 L629.32 68.32 L629.75 70.47 L630.19 72.73 L630.63 75.09 L631.07 77.55 L631.51 80.12 L631.95 82.77 L632.39 85.52 L632.83 88.36 L633.26 91.28 L633.70 94.28 L634.14 97.36 L634.58 100.51 L635.02 103.72 L635.46 107.00 L635.90 110.33 L636.33 113.71 L636.77 117.14 L637.21 120.62 L637.65 124.13 L638.09 127.68 L638.53 131.25 L638.97 134.85 L639.41 138.46 L639.84 142.09 L640.28 145.72 L640.72 149.35 L641.16 152.99 L641.60 156.61 L642.04 160.22 L642.48 163.81 L642.91 167.38 L643.35 170.92 L643.79 174.43 L644.23 177.89 L644.67 181.32 L645.11 184.69 L645.55 188.01 L645.99 191.28 L646.42 194.48 L646.86 197.61 L647.30 200.68 L647.74 203.66 L648.18 206.57 L648.62 209.39 L649.06 212.12 L649.49 214.77 L649.93 217.31 L650.37 219.76 L650.81 222.10 L651.25 224.34 L651.69 226.46 L652.13 228.48 L652.57 230.37 L653.00 232.15 L653.44 233.81 L653.88 235.35 L654.32 236.76 L654.76 238.04 L655.20 239.20 L655.64 240.22 L656.07 241.11 L656.51 241.87 L656.95 242.50 L657.39 242.99 L657.83 243.34 L658.27 243.55 L658.71 243.63 L659.15 243.57 L659.58 243.38 L660.02 243.05 L660.46 242.58 L660.90 241.97 L661.34 241.24 L661.78 240.36 L662.22 239.36 L662.65 238.22 L663.09 236.96 L663.53 235.57 L663.97 234.05 L664.41 232.41 L664.85 230.65 L665.29 228.76 L665.72 226.77 L666.16 224.66 L666.60 222.44 L667.04 220.11 L667.48 217.68 L667.92 215.15 L668.36 212.52 L668.80 209.80 L669.23 206.99 L669.67 204.10 L670.11 201.12 L670.55 198.07 L670.99 194.95 L671.43 191.76 L671.87 188.50 L672.30 185.19 L672.74 181.82 L673.18 178.40 L673.62 174.94 L674.06 171.44 L674.50 167.91 L674.94 164.34 L675.38 160.75 L675.81 157.15 L676.25 153.52 L676.69 149.89 L677.13 146.26 L677.57 142.62 L678.01 139.00 L678.45 135.38 L678.88 131.78 L679.32 128.21 L679.76 124.66 L680.20 121.14 L680.64 117.66 L681.08 114.22 L681.52 110.83 L681.96 107.49 L682.39 104.20 L682.83 100.98 L683.27 97.82 L683.71 94.74 L684.15 91.72 L684.59 88.79 L685.03 85.94 L685.46 83.18 L685.90 80.50 L686.34 77.93 L686.78 75.45 L687.22 73.07 L687.66 70.80 L688.10 68.63 L688.54 66.58 L688.97 64.65 L689.41 62.83 L689.85 61.13 L690.29 59.55 L690.73 58.10 L691.17 56.77 L691.61 55.57 L692.04 54.50 L692.48 53.57 L692.92 52.76 L693.36 52.10 L693.80 51.56 L694.24 51.16 L694.68 50.90 L695.12 50.78 L695.55 50.79 L695.99 50.94 L696.43 51.23 L696.87 51.65 L697.31 52.21 L697.75 52.90 L698.19 53.73 L698.62 54.69 L699.06 55.78 L699.50 57.01 L699.94 58.36 L700.38 59.83 L700.82 61.43 L701.26 63.15 L701.70 65.00 L702.13 66.95 L702.57 69.03 L703.01 71.21 L703.45 73.50 L703.89 75.90 L704.33 78.40 L704.77 80.99 L705.20 83.68 L705.64 86.46 L706.08 89.33 L706.52 92.28 L706.96 95.30 L707.40 98.40 L707.84 101.57 L708.28 104.81 L708.71 108.10 L709.15 111.45 L709.59 114.85 L710.03 118.30 L710.47 121.79 L710.91 125.31 L711.35 128.87 L711.78 132.45 L712.22 136.05 L712.66 139.67 L713.10 143.30 L713.54 146.93 L713.98 150.57 L714.42 154.20 L714.85 157.82 L715.29 161.42 L715.73 165.00 L716.17 168.56 L716.61 172.09 L717.05 175.59 L717.49 179.04 L717.93 182.45 L718.36 185.81 L718.80 189.11 L719.24 192.35 L719.68 195.53 L720.12 198.64 L720.56 201.68 L721.00 204.64 L721.43 207.52 L721.87 210.31 L722.31 213.02 L722.75 215.63 L723.19 218.14 L723.63 220.55 L724.07 222.86 L724.51 225.06 L724.94 227.15 L725.38 229.12 L725.82 230.98 L726.26 232.72 L726.70 234.34 L727.14 235.83 L727.58 237.20 L728.01 238.44 L728.45 239.56 L728.89 240.54 L729.33 241.38 L729.77 242.10 L730.21 242.67 L730.65 243.12 L731.09 243.42 L731.52 243.59 L731.96 243.63 L732.40 243.52 L732.84 243.28 L733.28 242.90 L733.72 242.39 L734.16 241.74 L734.59 240.96 L735.03 240.04 L735.47 239.00 L735.91 237.82 L736.35 236.51 L736.79 235.07 L737.23 233.52 L737.67 231.83 L738.10 230.03 L738.54 228.11 L738.98 226.08 L739.42 223.93 L739.86 221.67 L740.30 219.31 L740.74 216.85 L741.17 214.28 L741.61 211.63 L742.05 208.88 L742.49 206.04 L742.93 203.12 L743.37 200.12 L743.81 197.04 L744.25 193.89 L744.68 190.68 L745.12 187.40 L745.56 184.07 L746.00 180.69 L746.44 177.26 L746.88 173.78 L747.32 170.27 L747.75 166.72 L748.19 163.15 L748.63 159.55 L749.07 155.94 L749.51 152.31 L749.95 148.68 L750.39 145.05 L750.83 141.41 L751.26 137.79 L751.70 134.18 L752.14 130.59 L752.58 127.02 L753.02 123.48 L753.46 119.97 L753.90 116.51 L754.33 113.08 L754.77 109.71 L755.21 106.39 L755.65 103.12 L756.09 99.92 L756.53 96.79 L756.97 93.72 L757.41 90.74 L757.84 87.83 L758.28 85.01 L758.72 82.28 L759.16 79.63 L759.60 77.09 L760.04 74.64 L760.48 72.30 L760.91 70.06 L761.35 67.94 L761.79 65.92 L762.23 64.03 L762.67 62.25 L763.11 60.59 L763.55 59.05 L763.98 57.64 L764.42 56.36 L764.86 55.20 L765.30 54.18 L765.74 53.29 L766.18 52.53 L766.62 51.90 L767.06 51.41 L767.49 51.06 L767.93 50.85 L768.37 50.77 L768.81 50.83 L769.25 51.02 L769.69 51.35 L770.13 51.82 L770.56 52.43 L771.00 53.16 L771.44 54.04 L771.88 55.04 L772.32 56.18 L772.76 57.44 L773.20 58.83 L773.64 60.35 L774.07 61.99 L774.51 63.75 L774.95 65.64 L775.39 67.63 L775.83 69.74 L776.27 71.96 L776.71 74.29 L777.14 76.72 L777.58 79.25 L778.02 81.88 L778.46 84.60 L778.90 87.41 L779.34 90.30 L779.78 93.28 L780.22 96.33 L780.65 99.45 L781.09 102.64 L781.53 105.90 L781.97 109.21 L782.41 112.58 L782.85 116.00 L783.29 119.46 L783.72 122.96 L784.16 126.49 L784.60 130.06 L785.04 133.65 L785.48 137.25 L785.92 140.88 L786.36 144.51 L786.80 148.14 L787.23 151.78 L787.67 155.40 L788.11 159.02 L788.55 162.62 L788.99 166.19 L789.43 169.74 L789.87 173.26 L790.30 176.74 L790.74 180.18 L791.18 183.57 L791.62 186.91 L792.06 190.20 L792.50 193.42 L792.94 196.58 L793.38 199.66 L793.81 202.68 L794.25 205.61 L794.69 208.46 L795.13 211.22 L795.57 213.90 L796.01 216.47 L796.45 218.95 L796.88 221.33 L797.32 223.60 L797.76 225.77 L798.20 227.82 L798.64 229.75 L799.08 231.57 L799.52 233.27 L799.96 234.85 L800.39 236.30 L800.83 237.63 L800.83 237.63" stroke="#0000ff" stroke-width="8.1" stroke-dasharray="20.1 20.55"/>
<path d="M800.83 262.71 L801.27 263.56 L801.71 264.23 L802.15 264.75 L802.59 265.09 L803.03 265.26 L803.46 265.27 L803.90 265.11 L804.34 264.78 L804.78 264.27 L805.22 263.61 L805.66 262.77 L806.10 261.77 L806.54 260.61 L806.97 259.28 L807.41 257.79 L807.85 256.15 L808.29 254.34 L808.73 252.39 L809.17 250.28 L809.61 248.03 L810.04 245.63 L810.48 243.09 L810.92 240.41 L811.36 237.60 L811.80 234.66 L812.24 231.60 L812.68 228.41 L813.11 225.11 L813.55 221.69 L813.99 218.17 L814.43 214.55 L814.87 210.83 L815.31 207.02 L815.75 203.12 L816.19 199.15 L816.62 195.09 L817.06 190.97 L817.50 186.79 L817.94 182.55 L818.38 178.26 L818.82 173.92 L819.26 169.55 L819.69 165.14 L820.13 160.71 L820.57 156.26 L821.01 151.80 L821.45 147.32 L821.89 142.85 L822.33 138.39 L822.77 133.93 L823.20 129.50 L823.64 125.09 L824.08 120.71 L824.52 116.37 L824.96 112.08 L825.40 107.83 L825.84 103.64 L826.27 99.51 L826.71 95.45 L827.15 91.47 L827.59 87.56 L828.03 83.74 L828.47 80.01 L828.91 76.37 L829.35 72.84 L829.78 69.41 L830.22 66.10 L830.66 62.90 L831.10 59.82 L831.54 56.87 L831.98 54.04 L832.42 51.35 L832.85 48.80 L833.29 46.38 L833.73 44.11 L834.17 41.99 L834.61 40.02 L835.05 38.20 L835.49 36.54 L835.93 35.04 L836.36 33.70 L836.80 32.52 L837.24 31.50 L837.68 30.65 L838.12 29.97 L838.56 29.45 L839.00 29.10 L839.43 28.93 L839.87 28.92 L840.31 29.08 L840.75 29.41 L841.19 29.90 L841.63 30.57 L842.07 31.40 L842.51 32.40 L842.94 33.57 L843.38 34.89 L843.82 36.38 L844.26 38.03 L844.70 39.83 L845.14 41.79 L845.58 43.89 L846.01 46.15 L846.45 48.55 L846.89 51.09 L847.33 53.77 L847.77 56.58 L848.21 59.53 L848.65 62.59 L849.09 65.78 L849.52 69.09 L849.96 72.51 L850.40 76.04 L850.84 79.66 L851.28 83.39 L851.72 87.20 L852.16 91.11 L852.59 95.09 L853.03 99.15 L853.47 103.27 L853.91 107.46 L854.35 111.71 L854.79 116.01 L855.23 120.35 L855.67 124.73 L856.10 129.14 L856.54 133.58 L856.98 138.04 L857.42 142.52 L857.86 146.99 L858.30 151.47 L858.74 155.95 L859.17 160.41 L859.61 164.85 L860.05 169.27 L860.49 173.66 L860.93 178.01 L861.37 182.31 L861.81 186.57 L862.24 190.76 L862.68 194.90 L863.12 198.97 L863.56 202.96 L864.00 206.88 L864.44 210.71 L864.88 214.45 L865.32 218.09 L865.75 221.63 L866.19 225.06 L866.63 228.39 L867.07 231.59 L867.51 234.68 L867.95 237.64 L868.39 240.47 L868.82 243.17 L869.26 245.73 L869.70 248.15 L870.14 250.43 L870.58 252.56 L871.02 254.54 L871.46 256.36 L871.90 258.03 L872.33 259.54 L872.77 260.88 L873.21 262.07 L873.65 263.09 L874.09 263.95 L874.53 264.63 L874.97 265.15 L875.40 265.50 L875.84 265.69 L876.28 265.70 L876.72 265.54 L877.16 265.21 L877.60 264.72 L878.04 264.05 L878.48 263.22 L878.91 262.22 L879.35 261.06 L879.79 259.73 L880.23 258.24 L880.67 256.60 L881.11 254.80 L881.55 252.84 L881.98 250.73 L882.42 248.47 L882.86 246.07 L883.30 243.53 L883.74 240.85 L884.18 238.03 L884.62 235.09 L885.06 232.01 L885.49 228.82 L885.93 225.51 L886.37 222.09 L886.81 218.56 L887.25 214.92 L887.69 211.19 L888.13 207.37 L888.56 203.46 L889.00 199.48 L889.44 195.41 L889.88 191.28 L890.32 187.08 L890.76 182.83 L891.20 178.53 L891.64 174.18 L892.07 169.79 L892.51 165.37 L892.95 160.92 L893.39 156.45 L893.83 151.97 L894.27 147.49 L894.71 143.00 L895.14 138.52 L895.58 134.05 L896.02 129.59 L896.46 125.17 L896.90 120.77 L897.34 116.42 L897.78 112.10 L898.22 107.84 L898.65 103.63 L899.09 99.49 L899.53 95.41 L899.97 91.41 L900.41 87.48 L900.85 83.65 L901.29 79.90 L901.72 76.25 L902.16 72.70 L902.60 69.26 L903.04 65.93 L903.48 62.71 L903.92 59.62 L904.36 56.65 L904.80 53.81 L905.23 51.10 L905.67 48.53 L906.11 46.11 L906.55 43.82 L906.99 41.69 L907.43 39.71 L907.87 37.88 L908.30 36.20 L908.74 34.69 L909.18 33.34 L909.62 32.15 L910.06 31.12 L910.50 30.26 L910.94 29.57 L911.38 29.04 L911.81 28.69 L912.25 28.50 L912.69 28.49 L913.13 28.65 L913.57 28.97 L914.01 29.46 L914.45 30.13 L914.88 30.96 L915.32 31.95 L915.76 33.12 L916.20 34.44 L916.64 35.93 L917.08 37.57 L917.52 39.38 L917.95 41.34 L918.39 43.45 L918.83 45.70 L919.27 48.11 L919.71 50.65 L920.15 53.34 L920.59 56.16 L921.03 59.10 L921.46 62.18 L921.90 65.38 L922.34 68.69 L922.78 72.12 L923.22 75.65 L923.66 79.29 L924.10 83.02 L924.53 86.85 L924.97 90.76 L925.41 94.76 L925.85 98.83 L926.29 102.97 L926.73 107.17 L927.17 111.43 L927.61 115.74 L928.04 120.10 L928.48 124.49 L928.92 128.92 L929.36 133.38 L929.80 137.85 L930.24 142.34 L930.68 146.83 L931.11 151.33 L931.55 155.82 L931.99 160.30 L932.43 164.76 L932.87 169.19 L933.31 173.60 L933.75 177.96 L934.19 182.28 L934.62 186.56 L935.06 190.77 L935.50 194.92 L935.94 199.01 L936.38 203.02 L936.82 206.95 L937.26 210.80 L937.69 214.55 L938.13 218.21 L938.57 221.77 L939.01 225.22 L939.45 228.56 L939.89 231.78 L940.33 234.89 L940.77 237.86 L941.20 240.71 L941.64 243.42 L942.08 246.00 L942.52 248.43 L942.96 250.72 L943.40 252.86 L943.84 254.85 L944.27 256.69 L944.71 258.37 L945.15 259.89 L945.59 261.24 L946.03 262.44 L946.47 263.47 L946.91 264.33 L947.35 265.03 L947.78 265.56 L948.22 265.92 L948.66 266.10 L949.10 266.12 L949.54 265.97 L949.98 265.65 L950.42 265.16 L950.85 264.50 L951.29 263.67 L951.73 262.67 L952.17 261.51 L952.61 260.18 L953.05 258.70 L953.49 257.05 L953.93 255.25 L954.36 253.29 L954.80 251.18 L955.24 248.92 L955.68 246.51 L956.12 243.97 L956.56 241.28 L957.00 238.46 L957.43 235.51 L957.87 232.43 L958.31 229.23 L958.75 225.91 L959.19 222.48 L959.63 218.94 L960.07 215.30 L960.51 211.56 L960.94 207.73 L961.38 203.81 L961.82 199.81 L962.26 195.73 L962.70 191.59 L963.14 187.38 L963.58 183.11 L964.01 178.79 L964.45 174.43 L964.89 170.03 L965.33 165.59 L965.77 161.13 L966.21 156.65 L966.65 152.15 L967.08 147.65 L967.52 143.14 L967.96 138.65 L968.40 134.16 L968.84 129.69 L969.28 125.25 L969.72 120.84 L970.16 116.46 L970.59 112.13 L971.03 107.85 L971.47 103.63 L971.91 99.46 L972.35 95.37 L972.79 91.35 L973.23 87.41 L973.66 83.56 L974.10 79.79 L974.54 76.12 L974.98 72.56 L975.42 69.10 L975.86 65.75 L976.30 62.52 L976.74 59.41 L977.17 56.43 L977.61 53.57 L978.05 50.85 L978.49 48.27 L978.93 45.83 L979.37 43.53 L979.81 41.39 L980.24 39.39 L980.68 37.55 L981.12 35.86 L981.56 34.34 L982.00 32.98 L982.44 31.77 L982.88 30.74 L983.32 29.87 L983.75 29.17 L984.19 28.64 L984.63 28.28 L985.07 28.09 L985.51 28.06 L985.95 28.21 L986.39 28.53 L986.82 29.02 L987.26 29.68 L987.70 30.51 L988.14 31.50 L988.58 32.66 L989.02 33.99 L989.46 35.48 L989.90 37.12 L990.33 38.93 L990.77 40.89 L991.21 43.00 L991.65 45.26 L992.09 47.67 L992.53 50.21 L992.97 52.90 L993.40 55.73 L993.84 58.68 L994.28 61.76 L994.72 64.97 L995.16 68.29 L995.60 71.73 L996.04 75.27 L996.48 78.92 L996.91 82.66 L997.35 86.50 L997.79 90.42 L998.23 94.43 L998.67 98.51 L999.11 102.66 L999.55 106.87 L999.98 111.15 L1000.42 115.47 L1000.86 119.84 L1001.30 124.25 L1001.74 128.70 L1002.18 133.17 L1002.62 137.66 L1003.06 142.16 L1003.49 146.67 L1003.93 151.18 L1004.37 155.69 L1004.81 160.18 L1005.25 164.66 L1005.69 169.11 L1006.13 173.53 L1006.56 177.92 L1007.00 182.25 L1007.44 186.54 L1007.88 190.78 L1008.32 194.95 L1008.76 199.05 L1009.20 203.08 L1009.63 207.03 L1010.07 210.89 L1010.51 214.66 L1010.95 218.34 L1011.39 221.91 L1011.83 225.38 L1012.27 228.73 L1012.71 231.97 L1013.14 235.09 L1013.58 238.08 L1014.02 240.94 L1014.46 243.67 L1014.90 246.26 L1015.34 248.71 L1015.78 251.01 L1016.21 253.16 L1016.65 255.17 L1017.09 257.01 L1017.53 258.70 L1017.97 260.24 L1018.41 261.60 L1018.85 262.81 L1019.29 263.85 L1019.72 264.72 L1020.16 265.43 L1020.60 265.96 L1021.04 266.33 L1021.48 266.52 L1021.92 266.55 L1022.36 266.40 L1022.79 266.08 L1023.23 265.60 L1023.67 264.94 L1024.11 264.11 L1024.55 263.12 L1024.99 261.96 L1025.43 260.64 L1025.87 259.15 L1026.30 257.50 L1026.74 255.70 L1027.18 253.74 L1027.62 251.63 L1028.06 249.36 L1028.50 246.96 L1028.94 244.40 L1029.37 241.71 L1029.81 238.89 L1030.25 235.93 L1030.69 232.84 L1031.13 229.64 L1031.57 226.31 L1032.01 222.87 L1032.45 219.32 L1032.88 215.67 L1033.32 211.92 L1033.76 208.08 L1034.20 204.15 L1034.64 200.14 L1035.08 196.05 L1035.52 191.89 L1035.95 187.67 L1036.39 183.39 L1036.83 179.06 L1037.27 174.68 L1037.71 170.27 L1038.15 165.82 L1038.59 161.34 L1039.03 156.84 L1039.46 152.33 L1039.90 147.81 L1040.34 143.29 L1040.78 138.78 L1041.22 134.27 L1041.66 129.79 L1042.10 125.33 L1042.53 120.90 L1042.97 116.51 L1043.41 112.16 L1043.85 107.86 L1044.29 103.62 L1044.73 99.44 L1045.17 95.33 L1045.61 91.29 L1046.04 87.34 L1046.48 83.47 L1046.92 79.69 L1047.36 76.00 L1047.80 72.42 L1048.24 68.94 L1048.68 65.58 L1049.11 62.34 L1049.55 59.21 L1049.99 56.21 L1050.43 53.34 L1050.87 50.61 L1051.31 48.01 L1051.75 45.56 L1052.19 43.25 L1052.62 41.09 L1053.06 39.08 L1053.50 37.22 L1053.94 35.53 L1054.38 33.99 L1054.82 32.62 L1055.26 31.40 L1055.69 30.36 L1056.13 29.48 L1056.57 28.77 L1057.01 28.23 L1057.45 27.86 L1057.89 27.67 L1058.33 27.64 L1058.76 27.78 L1059.20 28.10 L1059.64 28.58 L1060.08 29.24 L1060.52 30.06 L1060.96 31.05 L1061.40 32.21 L1061.84 33.54 L1062.27 35.02 L1062.71 36.67 L1063.15 38.47 L1063.59 40.43 L1064.03 42.55 L1064.47 44.81 L1064.91 47.22 L1065.34 49.78 L1065.78 52.47 L1066.22 55.30 L1066.66 58.26 L1067.10 61.35 L1067.54 64.56 L1067.98 67.89 L1068.42 71.33 L1068.85 74.88 L1069.29 78.54 L1069.73 82.29 L1070.17 86.14 L1070.61 90.08 L1071.05 94.09 L1071.49 98.19 L1071.92 102.35 L1072.36 106.58 L1072.80 110.87 L1073.24 115.20 L1073.68 119.59 L1074.12 124.01 L1074.56 128.47 L1075.00 132.96 L1075.43 137.46 L1075.87 141.98 L1076.31 146.51 L1076.75 151.04 L1077.19 155.56 L1077.63 160.07 L1078.07 164.56 L1078.50 169.03 L1078.94 173.47 L1079.38 177.87 L1079.82 182.22 L1080.26 186.53 L1080.70 190.78 L1081.14 194.97 L1081.58 199.09 L1082.01 203.13 L1082.45 207.10 L1082.89 210.98 L1083.33 214.77 L1083.77 218.46 L1084.21 222.05 L1084.65 225.53 L1085.08 228.90 L1085.52 232.16 L1085.96 235.29 L1086.40 238.30 L1086.84 241.17 L1087.28 243.92 L1087.72 246.52 L1088.16 248.98 L1088.59 251.30 L1089.03 253.47 L1089.47 255.48 L1089.91 257.34 L1090.35 259.04 L1090.79 260.58 L1091.23 261.96 L1091.66 263.18 L1092.10 264.23 L1092.54 265.11 L1092.98 265.83 L1093.42 266.37 L1093.86 266.74 L1094.30 266.94 L1094.74 266.97 L1095.17 266.83 L1095.61 266.52 L1096.05 266.04 L1096.49 265.38 L1096.93 264.56 L1097.37 263.57 L1097.81 262.41 L1098.24 261.09 L1098.68 259.60 L1099.12 257.96 L1099.56 256.15 L1100.00 254.19 L1100.44 252.08 L1100.88 249.81 L1101.32 247.40 L1101.75 244.84 L1102.19 242.15 L1102.63 239.32 L1103.07 236.35 L1103.51 233.26 L1103.95 230.05 L1104.39 226.71 L1104.82 223.26 L1105.26 219.71 L1105.70 216.05 L1106.14 212.29 L1106.58 208.44 L1107.02 204.50 L1107.46 200.47 L1107.90 196.37 L1108.33 192.20 L1108.77 187.97 L1109.21 183.68 L1109.65 179.33 L1110.09 174.94 L1110.53 170.51 L1110.97 166.04 L1111.40 161.55 L1111.84 157.04 L1112.28 152.51 L1112.72 147.98 L1113.16 143.44 L1113.60 138.91 L1114.04 134.39 L1114.47 129.89 L1114.91 125.41 L1115.35 120.96 L1115.79 116.56 L1116.23 112.19 L1116.67 107.88 L1117.11 103.62 L1117.55 99.42 L1117.98 95.29 L1118.42 91.24 L1118.86 87.27 L1119.30 83.38 L1119.74 79.58 L1120.18 75.88 L1120.62 72.28 L1121.05 68.79 L1121.49 65.41 L1121.93 62.15 L1122.37 59.01 L1122.81 55.99 L1123.25 53.11 L1123.69 50.36 L1124.13 47.75 L1124.56 45.28 L1125.00 42.96 L1125.44 40.78 L1125.88 38.76 L1126.32 36.90 L1126.76 35.19 L1127.20 33.64 L1127.63 32.26 L1128.07 31.03 L1128.51 29.98 L1128.95 29.09 L1129.39 28.38 L1129.83 27.83 L1130.27 27.45 L1130.71 27.25 L1131.14 27.21 L1131.58 27.35 L1132.02 27.66 L1132.46 28.14 L1132.90 28.79 L1133.34 29.62 L1133.78 30.60 L1134.21 31.76 L1134.65 33.08 L1135.09 34.57 L1135.53 36.22 L1135.97 38.02 L1136.41 39.98 L1136.85 42.10 L1137.29 44.37 L1137.72 46.78 L1138.16 49.34 L1138.60 52.04 L1139.04 54.87 L1139.48 57.84 L1139.92 60.93 L1140.36 64.15 L1140.79 67.49 L1141.23 70.94 L1141.67 74.50 L1142.11 78.16 L1142.55 81.93 L1142.99 85.79 L1143.43 89.73 L1143.87 93.76 L1144.30 97.87 L1144.74 102.04 L1145.18 106.28 L1145.62 110.58 L1146.06 114.93 L1146.50 119.33 L1146.94 123.77 L1147.37 128.24 L1147.81 132.74 L1148.25 137.26 L1148.69 141.80 L1149.13 146.34 L1149.57 150.89 L1150.01 155.43 L1150.45 159.95 L1150.88 164.46 L1151.32 168.95 L1151.76 173.40 L1152.20 177.82 L1152.64 182.19 L1153.08 186.52 L1153.52 190.78 L1153.95 194.99 L1154.39 199.12 L1154.83 203.19 L1155.27 207.17 L1155.71 211.07 L1156.15 214.87 L1156.59 218.58 L1157.02 222.19 L1157.46 225.69 L1157.90 229.07 L1158.34 232.34 L1158.78 235.49 L1159.22 238.51 L1159.66 241.41 L1160.10 244.16 L1160.53 246.78 L1160.97 249.26 L1161.41 251.59 L1161.85 253.77 L1162.29 255.79 L1162.73 257.67 L1163.17 259.38 L1163.60 260.93 L1164.04 262.32 L1164.48 263.55 L1164.92 264.61 L1165.36 265.50 L1165.80 266.22 L1166.24 266.77 L1166.68 267.15 L1167.11 267.36 L1167.55 267.40 L1167.99 267.26 L1168.43 266.96 L1168.87 266.48 L1169.31 265.83 L1169.75 265.01 L1170.18 264.02 L1170.62 262.86 L1171.06 261.54 L1171.50 260.06 L1171.94 258.41 L1172.38 256.60 L1172.82 254.64 L1173.26 252.53 L1173.69 250.26 L1174.13 247.84 L1174.57 245.28 L1175.01 242.58 L1175.45 239.75 L1175.89 236.78 L1176.33 233.68 L1176.76 230.46 L1177.20 227.12 L1177.64 223.66 L1178.08 220.09 L1178.52 216.42 L1178.96 212.65 L1179.40 208.79 L1179.84 204.84 L1180.27 200.81 L1180.71 196.70 L1181.15 192.51 L1181.59 188.27 L1182.03 183.96 L1182.47 179.60 L1182.91 175.20 L1183.34 170.75 L1183.78 166.27 L1184.22 161.76 L1184.66 157.23 L1185.10 152.69 L1185.54 148.14 L1185.98 143.59 L1186.42 139.04 L1186.85 134.50 L1187.29 129.99 L1187.73 125.49 L1188.17 121.03 L1188.61 116.61 L1189.05 112.22 L1189.49 107.89 L1189.92 103.62 L1190.36 99.40 L1190.80 95.26 L1191.24 91.19 L1191.68 87.20 L1192.12 83.29 L1192.56 79.48 L1193.00 75.76 L1193.43 72.14 L1193.87 68.64 L1194.31 65.24 L1194.75 61.96 L1195.19 58.81 L1195.63 55.78 L1196.07 52.88 L1196.50 50.11 L1196.94 47.49 L1197.38 45.01 L1197.82 42.67 L1198.26 40.48 L1198.70 38.45 L1199.14 36.57 L1199.58 34.85 L1200.01 33.29 L1200.45 31.90 L1200.89 30.67 L1201.33 29.60 L1201.77 28.71 L1202.21 27.98 L1202.65 27.42 L1203.08 27.04 L1203.52 26.83 L1203.96 26.79 L1204.40 26.92 L1204.84 27.23 L1205.28 27.70 L1205.72 28.35 L1206.15 29.17 L1206.59 30.16 L1207.03 31.31 L1207.47 32.63 L1207.91 34.12 L1208.35 35.76 L1208.79 37.57 L1209.23 39.53 L1209.66 41.65 L1210.10 43.92 L1210.54 46.34 L1210.98 48.90 L1211.42 51.60 L1211.86 54.44 L1212.30 57.41 L1212.73 60.51 L1213.17 63.74 L1213.61 67.08 L1214.05 70.54 L1214.49 74.11 L1214.93 77.79 L1215.37 81.56 L1215.81 85.43 L1216.24 89.39 L1216.68 93.43 L1217.12 97.54 L1217.56 101.73 L1218.00 105.99 L1218.44 110.30 L1218.88 114.66 L1219.31 119.08 L1219.75 123.53 L1220.19 128.02 L1220.63 132.53 L1221.07 137.07 L1221.51 141.62 L1221.95 146.18 L1222.39 150.74 L1222.82 155.29 L1223.26 159.84 L1223.70 164.36 L1224.14 168.86 L1224.58 173.34 L1225.02 177.77 L1225.46 182.16 L1225.89 186.50 L1226.33 190.78 L1226.77 195.01 L1227.21 199.16 L1227.65 203.24 L1228.09 207.24 L1228.53 211.15 L1228.97 214.98 L1229.40 218.70 L1229.84 222.32 L1230.28 225.84 L1230.72 229.24 L1231.16 232.53 L1231.60 235.69 L1232.04 238.73 L1232.47 241.64 L1232.91 244.41 L1233.35 247.04 L1233.79 249.53 L1234.23 251.87 L1234.67 254.07 L1235.11 256.11 L1235.55 257.99 L1235.98 259.72 L1236.42 261.28 L1236.86 262.68 L1237.30 263.92 L1237.74 264.99 L1238.18 265.89 L1238.62 266.62 L1239.05 267.18 L1239.49 267.57 L1239.93 267.78 L1240.37 267.82 L1240.81 267.70 L1241.25 267.39 L1241.69 266.92 L1242.13 266.27 L1242.56 265.46 L1243.00 264.47 L1243.44 263.32 L1243.88 262.00 L1244.32 260.51 L1244.76 258.86 L1245.20 257.06 L1245.63 255.09 L1246.07 252.97 L1246.51 250.70 L1246.95 248.29 L1247.39 245.72 L1247.83 243.02 L1248.27 240.18 L1248.71 237.20 L1249.14 234.10 L1249.58 230.87 L1250.02 227.52 L1250.46 224.05 L1250.90 220.48 L1251.34 216.80 L1251.78 213.02 L1252.21 209.15 L1252.65 205.19 L1253.09 201.14 L1253.53 197.02 L1253.97 192.82 L1254.41 188.56 L1254.85 184.24 L1255.28 179.87 L1255.72 175.45 L1256.16 170.99 L1256.60 166.50 L1257.04 161.98 L1257.48 157.43 L1257.92 152.87 L1258.36 148.31 L1258.79 143.74 L1259.23 139.17 L1259.67 134.62 L1260.11 130.09 L1260.55 125.58 L1260.99 121.10 L1261.43 116.66 L1261.86 112.26 L1262.30 107.91 L1262.74 103.61 L1263.18 99.38 L1263.62 95.22 L1264.06 91.13 L1264.50 87.13 L1264.94 83.20 L1265.37 79.37 L1265.81 75.64 L1266.25 72.01 L1266.69 68.48 L1267.13 65.07 L1267.57 61.78 L1268.01 58.61 L1268.44 55.56 L1268.88 52.65 L1269.32 49.87 L1269.76 47.23 L1270.20 44.73 L1270.64 42.38 L1271.08 40.18 L1271.52 38.14 L1271.95 36.25 L1272.39 34.52 L1272.83 32.95 L1273.27 31.54 L1273.71 30.30 L1274.15 29.22 L1274.59 28.32 L1275.02 27.58 L1275.46 27.02 L1275.90 26.63 L1276.34 26.41 L1276.78 26.36 L1277.22 26.49 L1277.66 26.79 L1278.10 27.26 L1278.53 27.91 L1278.97 28.72 L1279.41 29.71 L1279.85 30.86 L1280.29 32.18 L1280.73 33.66 L1281.17 35.31 L1281.60 37.12 L1282.04 39.08 L1282.48 41.20 L1282.92 43.47 L1283.36 45.89 L1283.80 48.46 L1284.24 51.16 L1284.68 54.01 L1285.11 56.99 L1285.55 60.09 L1285.99 63.33 L1286.43 66.68 L1286.87 70.15 L1287.31 73.73 L1287.75 77.41 L1288.18 81.19 L1288.62 85.07 L1289.06 89.04 L1289.50 93.09 L1289.94 97.22 L1290.38 101.42 L1290.82 105.69 L1291.26 110.01 L1291.69 114.39 L1292.13 118.82 L1292.57 123.29 L1293.01 127.79 L1293.45 132.32 L1293.89 136.87 L1294.33 141.43 L1294.76 146.01 L1295.20 150.59 L1295.64 155.16 L1296.08 159.72 L1296.52 164.26 L1296.96 168.78 L1297.40 173.27 L1297.84 177.72 L1298.27 182.13 L1298.71 186.48 L1299.15 190.79 L1299.59 195.02 L1300.03 199.20 L1300.47 203.29 L1300.91 207.31 L1301.34 211.24 L1301.78 215.08 L1302.22 218.82 L1302.66 222.46 L1303.10 225.99 L1303.54 229.41 L1303.98 232.71 L1304.41 235.89 L1304.85 238.95 L1305.29 241.87 L1305.73 244.65 L1306.17 247.30 L1306.61 249.80 L1307.05 252.16 L1307.49 254.37 L1307.92 256.42 L1308.36 258.31 L1308.80 260.05 L1309.24 261.63 L1309.68 263.04 L1310.12 264.29 L1310.56 265.37 L1310.99 266.28 L1311.43 267.02 L1311.87 267.58 L1312.31 267.98 L1312.75 268.20 L1313.19 268.25 L1313.63 268.13 L1314.07 267.83 L1314.50 267.36 L1314.94 266.72 L1315.38 265.90 L1315.82 264.92 L1316.26 263.77 L1316.70 262.45 L1317.14 260.97 L1317.57 259.32 L1318.01 257.51 L1318.45 255.55 L1318.89 253.42 L1319.33 251.15 L1319.77 248.73 L1320.21 246.16 L1320.65 243.45 L1321.08 240.61 L1321.52 237.62 L1321.96 234.51 L1322.40 231.28 L1322.84 227.92 L1323.28 224.45 L1323.72 220.87 L1324.15 217.18 L1324.59 213.39 L1325.03 209.51 L1325.47 205.53 L1325.91 201.48 L1326.35 197.34 L1326.79 193.14 L1327.23 188.86 L1327.66 184.53 L1328.10 180.14 L1328.54 175.71 L1328.98 171.24 L1329.42 166.73 L1329.86 162.19 L1330.30 157.63 L1330.73 153.06 L1331.17 148.47 L1331.61 143.89 L1332.05 139.31 L1332.49 134.74 L1332.93 130.19 L1333.37 125.66 L1333.81 121.17 L1334.24 116.71 L1334.68 112.29 L1335.12 107.92 L1335.56 103.61 L1336.00 99.37 L1336.44 95.19 L1336.88 91.08 L1337.31 87.06 L1337.75 83.12 L1338.19 79.27 L1338.63 75.52 L1339.07 71.87 L1339.51 68.33 L1339.95 64.90 L1340.39 61.60 L1340.82 58.41 L1341.26 55.35 L1341.70 52.42 L1342.14 49.63 L1342.58 46.97 L1343.02 44.46 L1343.46 42.10 L1343.89 39.89 L1344.33 37.83 L1344.77 35.92 L1345.21 34.18 L1345.65 32.60 L1346.09 31.18 L1346.53 29.93 L1346.97 28.84 L1347.40 27.93 L1347.84 27.19 L1348.28 26.62 L1348.72 26.22 L1349.16 25.99 L1349.60 25.94 L1350.04 26.06 L1350.47 26.35 L1350.91 26.82 L1351.35 27.46 L1351.79 28.27 L1352.23 29.26 L1352.67 30.41 L1353.11 31.72 L1353.55 33.21 L1353.98 34.85 L1354.42 36.66 L1354.86 38.63 L1355.30 40.75 L1355.74 43.02 L1356.18 45.45 L1356.62 48.02 L1357.05 50.73 L1357.49 53.58 L1357.93 56.56 L1358.37 59.68 L1358.81 62.92 L1359.25 66.28 L1359.69 69.75 L1360.12 73.34 L1360.56 77.03 L1361.00 80.83 L1361.44 84.71 L1361.88 88.69 L1362.32 92.76 L1362.76 96.90 L1363.20 101.11 L1363.63 105.39 L1364.07 109.73 L1364.51 114.12 L1364.95 118.56 L1365.39 123.04 L1365.83 127.56 L1366.27 132.10 L1366.70 136.67 L1367.14 141.25 L1367.58 145.84 L1368.02 150.43 L1368.46 155.02 L1368.90 159.60 L1369.34 164.16 L1369.78 168.69 L1370.21 173.20 L1370.65 177.67 L1371.09 182.09 L1371.53 186.47 L1371.97 190.78 L1372.41 195.04 L1372.85 199.23 L1373.28 203.34 L1373.72 207.38 L1374.16 211.32 L1374.60 215.18 L1375.04 218.94 L1375.48 222.59 L1375.92 226.14 L1376.36 229.58 L1376.79 232.90 L1377.23 236.09 L1377.67 239.16 L1378.11 242.10 L1378.55 244.90 L1378.99 247.56 L1379.43 250.07 L1379.86 252.44 L1380.30 254.66 L1380.74 256.73 L1381.18 258.64 L1381.62 260.39 L1382.06 261.98 L1382.50 263.40 L1382.94 264.66 L1383.37 265.74 L1383.81 266.66 L1384.25 267.41 L1384.69 267.99 L1385.13 268.39 L1385.57 268.62 L1386.01 268.67 L1386.44 268.56 L1386.88 268.26 L1387.32 267.80 L1387.76 267.16 L1388.20 266.35 L1388.64 265.37 L1389.08 264.22 L1389.52 262.90 L1389.95 261.42 L1390.39 259.77 L1390.83 257.96 L1391.27 256.00 L1391.71 253.87 L1392.15 251.60 L1392.59 249.17 L1393.02 246.60 L1393.46 243.89 L1393.90 241.04 L1394.34 238.05 L1394.78 234.93 L1395.22 231.69 L1395.66 228.33 L1396.10 224.85 L1396.53 221.26 L1396.97 217.56 L1397.41 213.76 L1397.85 209.87 L1398.29 205.88 L1398.73 201.81 L1399.17 197.67 L1399.60 193.45 L1400.04 189.16 L1400.48 184.82 L1400.92 180.42 L1401.36 175.97 L1401.80 171.48 L1402.24 166.96 L1402.67 162.41 L1403.11 157.83 L1403.55 153.24 L1403.99 148.64 L1404.43 144.04 L1404.87 139.45 L1405.31 134.86 L1405.75 130.29 L1406.18 125.75 L1406.62 121.24 L1407.06 116.76 L1407.50 112.33 L1407.94 107.94 L1408.38 103.62 L1408.82 99.35 L1409.25 95.15 L1409.69 91.03 L1410.13 86.99 L1410.57 83.03 L1411.01 79.17 L1411.45 75.40 L1411.89 71.74 L1412.33 68.18 L1412.76 64.74 L1413.20 61.41 L1413.64 58.21 L1414.08 55.13 L1414.52 52.19 L1414.96 49.38 L1415.40 46.71 L1415.83 44.19 L1416.27 41.81 L1416.71 39.59 L1417.15 37.52 L1417.59 35.60 L1418.03 33.84 L1418.47 32.25 L1418.91 30.82 L1419.34 29.56 L1419.78 28.47 L1420.22 27.54 L1420.66 26.79 L1421.10 26.21 L1421.54 25.80 L1421.98 25.57 L1422.41 25.51 L1422.85 25.63 L1423.29 25.92 L1423.73 26.38 L1424.17 27.02 L1424.61 27.83 L1425.05 28.81 L1425.49 29.95 L1425.92 31.27 L1426.36 32.75 L1426.80 34.40 L1427.24 36.21 L1427.68 38.18 L1428.12 40.30 L1428.56 42.58 L1428.99 45.00 L1429.43 47.58 L1429.87 50.29 L1430.31 53.15 L1430.75 56.14 L1431.19 59.26 L1431.63 62.50 L1432.07 65.87 L1432.50 69.35 L1432.94 72.95 L1433.38 76.65 L1433.82 80.46 L1434.26 84.35 L1434.70 88.34 L1435.14 92.42 L1435.57 96.57 L1436.01 100.80 L1436.45 105.09 L1436.89 109.44 L1437.33 113.85 L1437.77 118.30" stroke="#0000ff" stroke-width="8.1" stroke-dasharray="20.1 20.55" stroke-dashoffset="39.56"/>
</g>
<rect x="121.79" y="1.00" width="1315.98" height="293.00" fill="none" stroke="#262626" stroke-width="2.55"/>
<path d="M341.12 294.00v-15.20M341.12 1.00v15.20M560.45 294.00v-15.20M560.45 1.00v15.20M779.78 294.00v-15.20M779.78 1.00v15.20M999.11 294.00v-15.20M999.11 1.00v15.20M1218.44 294.00v-15.20M1218.44 1.00v15.20M121.79 48.80h14.29M1437.77 48.80h-14.29M121.79 147.20h14.29M1437.77 147.20h-14.29M121.79 245.60h14.29M1437.77 245.60h-14.29" fill="none" stroke="#262626" stroke-width="2.50"/>
<rect x="612.50" y="16.5" width="798.21" height="57.8" fill="#fff" stroke="#262626" stroke-width="1.9"/>
<path d="M621.43 45.7H719.82" stroke="#ff0000" stroke-width="7.6"/>
<path d="M887.68 45.7H982.14" stroke="#000" stroke-width="7.2" stroke-dasharray="5.62 4.2"/>
<path d="M1153.75 45.7H1253.57" stroke="#0000ff" stroke-width="8.6" stroke-dasharray="20.5 18.75"/>
<rect x="170.54" y="413.60" width="1267.23" height="249.80" fill="none" stroke="#262626" stroke-width="2.55"/>
<path d="M381.74 663.40v-15.00M381.74 413.60v15.00M592.95 663.40v-15.00M592.95 413.60v15.00M804.15 663.40v-15.00M804.15 413.60v15.00M1015.36 663.40v-15.00M1015.36 413.60v15.00M1226.56 663.40v-15.00M1226.56 413.60v15.00M170.54 430.50h14.11M1437.77 430.50h-14.11M170.54 538.50h14.11M1437.77 538.50h-14.11M170.54 646.50h14.11M1437.77 646.50h-14.11" fill="none" stroke="#262626" stroke-width="2.50"/>
<rect x="148.75" y="781.00" width="1289.02" height="249.00" fill="none" stroke="#262626" stroke-width="2.55"/>
<path d="M363.59 1030.00v-15.00M363.59 781.00v15.00M578.42 1030.00v-15.00M578.42 781.00v15.00M793.26 1030.00v-15.00M793.26 781.00v15.00M1008.10 1030.00v-15.00M1008.10 781.00v15.00M1222.93 1030.00v-15.00M1222.93 781.00v15.00M148.75 1030.00h14.11M1437.77 1030.00h-14.11M148.75 905.50h14.11M1437.77 905.50h-14.11M148.75 781.00h14.11M1437.77 781.00h-14.11" fill="none" stroke="#262626" stroke-width="2.50"/>
<path d="M148.57 1029.30 L800.45 1029.30 L803.12 1028.00 L805.98 1023.40 L808.48 1017.50 L810.54 1012.10 L813.30 1002.80 L815.18 998.50 L815.98 990.00 L816.61 975.00 L818.48 944.20 L819.91 930.00 L821.61 919.40 L823.39 912.50 L825.27 909.50 L827.05 913.00 L828.93 923.60 L832.05 954.40 L835.00 977.10 L837.05 983.00 L839.02 984.60 L840.89 981.50 L842.68 973.00 L845.45 944.20 L849.11 903.00 L852.86 865.90 L856.52 837.00 L858.04 831.00 L859.29 828.90 L860.71 831.50 L862.59 841.20 L865.18 872.10 L868.48 913.30 L871.79 954.40 L874.91 985.30 L877.68 1005.90 L879.29 1011.50 L880.45 1013.30 L882.14 1010.50 L884.11 1003.90 L885.98 999.00 L887.77 997.00 L890.18 997.30 L892.32 998.70 L895.09 1002.80 L898.75 1018.30 L900.71 1024.50 L902.50 1027.60 L907.05 1029.30 L928.57 1029.50 L941.96 1029.00 L949.11 1027.50 L953.57 1024.00 L958.04 1018.50 L960.71 1016.60 L962.86 1016.20 L965.18 1016.80 L967.86 1019.50 L972.32 1025.00 L975.89 1027.40 L982.14 1027.40 L995.54 1027.80 L1007.14 1028.30 L1012.50 1027.60 L1016.07 1026.30 L1018.12 1026.00 L1020.54 1026.60 L1025.00 1028.60 L1031.25 1029.40 L1160.71 1029.60 L1437.77 1029.60" fill="none" stroke="#000" stroke-width="7.5" stroke-linejoin="round"/>
<path d="M148.57 967.5H1433.04" stroke="#0000ff" stroke-opacity="0.7" stroke-width="7.4" stroke-dasharray="19.69 4.75 9.85 4.75"/>
</g>
<g>
<text x="135.50" y="356.60" font-size="46.8" text-anchor="middle" fill="#262626" >0.35</text>
<text x="381.15" y="356.60" font-size="46.8" text-anchor="middle" fill="#262626" >0.4</text>
<text x="626.80" y="356.60" font-size="46.8" text-anchor="middle" fill="#262626" >0.45</text>
<text x="872.45" y="356.60" font-size="46.8" text-anchor="middle" fill="#262626" >0.5</text>
<text x="1118.10" y="356.60" font-size="46.8" text-anchor="middle" fill="#262626" >0.55</text>
<text x="1363.75" y="356.60" font-size="46.8" text-anchor="middle" fill="#262626" >0.6</text>
<text x="1609.40" y="356.60" font-size="46.8" text-anchor="middle" fill="#262626" >0.65</text>
<text x="119.10" y="67.50" font-size="46.8" text-anchor="end" fill="#262626" >1</text>
<text x="117.80" y="165.90" font-size="46.8" text-anchor="end" fill="#262626" >0</text>
<text x="119.10" y="264.30" font-size="46.8" text-anchor="end" fill="#262626" >-1</text>
<text transform="translate(50.80 148.80) rotate(-90) scale(1 1.05)" font-size="49.3" text-anchor="middle" fill="#262626" >Voltage (V)</text>
<text transform="translate(813.40 59.60) scale(1.08 1)" font-size="37.5" text-anchor="start" fill="#000" >Phase A</text>
<text transform="translate(1111.30 59.60) scale(1.08 1)" font-size="37.5" text-anchor="start" fill="#000" >Phase B</text>
<text transform="translate(1409.10 59.60) scale(1.08 1)" font-size="37.5" text-anchor="start" fill="#000" >Phase C</text>
<text x="189.70" y="725.50" font-size="46.8" text-anchor="middle" fill="#262626" >0.35</text>
<text x="426.25" y="725.50" font-size="46.8" text-anchor="middle" fill="#262626" >0.4</text>
<text x="662.80" y="725.50" font-size="46.8" text-anchor="middle" fill="#262626" >0.45</text>
<text x="899.35" y="725.50" font-size="46.8" text-anchor="middle" fill="#262626" >0.5</text>
<text x="1135.90" y="725.50" font-size="46.8" text-anchor="middle" fill="#262626" >0.55</text>
<text x="1372.45" y="725.50" font-size="46.8" text-anchor="middle" fill="#262626" >0.6</text>
<text x="1609.00" y="725.50" font-size="46.8" text-anchor="middle" fill="#262626" >0.65</text>
<text x="172.40" y="449.20" font-size="46.8" text-anchor="end" fill="#262626" >5</text>
<text x="172.40" y="557.20" font-size="46.8" text-anchor="end" fill="#262626" >0</text>
<text x="172.40" y="665.20" font-size="46.8" text-anchor="end" fill="#262626" >-5</text>
<text transform="translate(37.60 539.80) rotate(-90) scale(0.988 1.04)" font-size="49.3" text-anchor="middle" fill="#262626" >Modal Voltage</text>
<text transform="translate(106.10 539.10) rotate(-90) scale(1 1.04)" font-size="49.3" text-anchor="middle" fill="#262626" >(pu)</text>
<text x="165.00" y="1091.90" font-size="46.8" text-anchor="middle" fill="#262626" >0.35</text>
<text x="405.62" y="1091.90" font-size="46.8" text-anchor="middle" fill="#262626" >0.4</text>
<text x="646.23" y="1091.90" font-size="46.8" text-anchor="middle" fill="#262626" >0.45</text>
<text x="886.85" y="1091.90" font-size="46.8" text-anchor="middle" fill="#262626" >0.5</text>
<text x="1127.47" y="1091.90" font-size="46.8" text-anchor="middle" fill="#262626" >0.55</text>
<text x="1368.08" y="1091.90" font-size="46.8" text-anchor="middle" fill="#262626" >0.6</text>
<text x="1608.70" y="1091.90" font-size="46.8" text-anchor="middle" fill="#262626" >0.65</text>
<text x="148.00" y="1048.70" font-size="46.8" text-anchor="end" fill="#262626" >0</text>
<text x="148.00" y="924.20" font-size="46.8" text-anchor="end" fill="#262626" >200</text>
<text x="148.00" y="799.70" font-size="46.8" text-anchor="end" fill="#262626" >400</text>
<text transform="translate(45.20 912.40) rotate(-90) scale(0.99 1.04)" font-size="49.3" text-anchor="middle" fill="#262626" >Proposed IDI</text>
<text transform="translate(886.90 1156.50) scale(1.095 1)" font-size="48" text-anchor="middle" fill="#262626" >Time (s)</text>
<text transform="translate(1324.60 912.50) scale(1.072 1)" font-size="40.9" text-anchor="start" fill="#0000ff" >Thershold</text>
</g>
</svg>
</body></html>
